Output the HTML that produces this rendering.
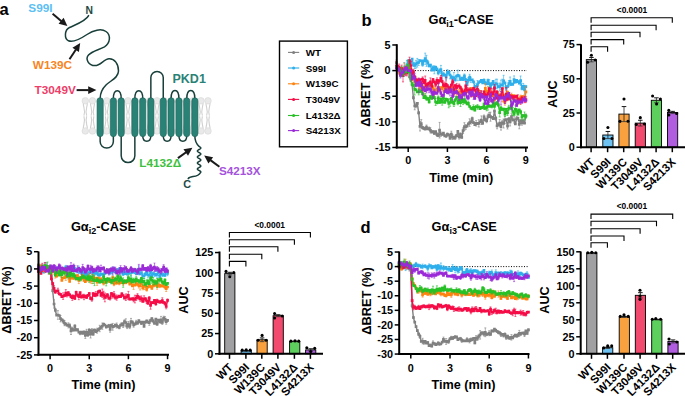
<!DOCTYPE html>
<html><head><meta charset="utf-8"><style>
html,body{margin:0;padding:0;background:#fff;width:685px;height:396px;overflow:hidden;}
svg{display:block;}
text{font-family:"Liberation Sans", sans-serif;font-weight:bold;}
</style></head><body>
<svg width="685" height="396" viewBox="0 0 685 396">
<text x="-0.50" y="15.20" font-size="16.5" fill="#000" text-anchor="start" >a</text>
<path d="M83.30 103.30 C83.10 106.80 85.90 109.80 83.90 115.60 M83.30 128.50 C83.10 125.00 85.90 122.00 83.90 116.20 M87.30 103.30 C87.50 106.80 84.70 109.80 86.70 115.60 M87.30 128.50 C87.50 125.00 84.70 122.00 86.70 116.20 M90.50 103.30 C90.30 106.80 93.10 109.80 91.10 115.60 M90.50 128.50 C90.30 125.00 93.10 122.00 91.10 116.20 M94.50 103.30 C94.70 106.80 91.90 109.80 93.90 115.60 M94.50 128.50 C94.70 125.00 91.90 122.00 93.90 116.20 M97.70 103.30 C97.50 106.80 100.30 109.80 98.30 115.60 M97.70 128.50 C97.50 125.00 100.30 122.00 98.30 116.20 M101.70 103.30 C101.90 106.80 99.10 109.80 101.10 115.60 M101.70 128.50 C101.90 125.00 99.10 122.00 101.10 116.20 M104.70 103.30 C104.50 106.80 107.30 109.80 105.30 115.60 M104.70 128.50 C104.50 125.00 107.30 122.00 105.30 116.20 M108.70 103.30 C108.90 106.80 106.10 109.80 108.10 115.60 M108.70 128.50 C108.90 125.00 106.10 122.00 108.10 116.20 M111.90 103.30 C111.70 106.80 114.50 109.80 112.50 115.60 M111.90 128.50 C111.70 125.00 114.50 122.00 112.50 116.20 M115.90 103.30 C116.10 106.80 113.30 109.80 115.30 115.60 M115.90 128.50 C116.10 125.00 113.30 122.00 115.30 116.20 M119.10 103.30 C118.90 106.80 121.70 109.80 119.70 115.60 M119.10 128.50 C118.90 125.00 121.70 122.00 119.70 116.20 M123.10 103.30 C123.30 106.80 120.50 109.80 122.50 115.60 M123.10 128.50 C123.30 125.00 120.50 122.00 122.50 116.20 M126.00 103.30 C125.80 106.80 128.60 109.80 126.60 115.60 M126.00 128.50 C125.80 125.00 128.60 122.00 126.60 116.20 M130.00 103.30 C130.20 106.80 127.40 109.80 129.40 115.60 M130.00 128.50 C130.20 125.00 127.40 122.00 129.40 116.20 M133.20 103.30 C133.00 106.80 135.80 109.80 133.80 115.60 M133.20 128.50 C133.00 125.00 135.80 122.00 133.80 116.20 M137.20 103.30 C137.40 106.80 134.60 109.80 136.60 115.60 M137.20 128.50 C137.40 125.00 134.60 122.00 136.60 116.20 M140.40 103.30 C140.20 106.80 143.00 109.80 141.00 115.60 M140.40 128.50 C140.20 125.00 143.00 122.00 141.00 116.20 M144.40 103.30 C144.60 106.80 141.80 109.80 143.80 115.60 M144.40 128.50 C144.60 125.00 141.80 122.00 143.80 116.20 M147.60 103.30 C147.40 106.80 150.20 109.80 148.20 115.60 M147.60 128.50 C147.40 125.00 150.20 122.00 148.20 116.20 M151.60 103.30 C151.80 106.80 149.00 109.80 151.00 115.60 M151.60 128.50 C151.80 125.00 149.00 122.00 151.00 116.20 M155.00 103.30 C154.80 106.80 157.60 109.80 155.60 115.60 M155.00 128.50 C154.80 125.00 157.60 122.00 155.60 116.20 M159.00 103.30 C159.20 106.80 156.40 109.80 158.40 115.60 M159.00 128.50 C159.20 125.00 156.40 122.00 158.40 116.20 M162.20 103.30 C162.00 106.80 164.80 109.80 162.80 115.60 M162.20 128.50 C162.00 125.00 164.80 122.00 162.80 116.20 M166.20 103.30 C166.40 106.80 163.60 109.80 165.60 115.60 M166.20 128.50 C166.40 125.00 163.60 122.00 165.60 116.20 M169.40 103.30 C169.20 106.80 172.00 109.80 170.00 115.60 M169.40 128.50 C169.20 125.00 172.00 122.00 170.00 116.20 M173.40 103.30 C173.60 106.80 170.80 109.80 172.80 115.60 M173.40 128.50 C173.60 125.00 170.80 122.00 172.80 116.20 M176.60 103.30 C176.40 106.80 179.20 109.80 177.20 115.60 M176.60 128.50 C176.40 125.00 179.20 122.00 177.20 116.20 M180.60 103.30 C180.80 106.80 178.00 109.80 180.00 115.60 M180.60 128.50 C180.80 125.00 178.00 122.00 180.00 116.20 M183.80 103.30 C183.60 106.80 186.40 109.80 184.40 115.60 M183.80 128.50 C183.60 125.00 186.40 122.00 184.40 116.20 M187.80 103.30 C188.00 106.80 185.20 109.80 187.20 115.60 M187.80 128.50 C188.00 125.00 185.20 122.00 187.20 116.20 M191.00 103.30 C190.80 106.80 193.60 109.80 191.60 115.60 M191.00 128.50 C190.80 125.00 193.60 122.00 191.60 116.20 M195.00 103.30 C195.20 106.80 192.40 109.80 194.40 115.60 M195.00 128.50 C195.20 125.00 192.40 122.00 194.40 116.20 M199.00 103.30 C198.80 106.80 201.60 109.80 199.60 115.60 M199.00 128.50 C198.80 125.00 201.60 122.00 199.60 116.20 M203.00 103.30 C203.20 106.80 200.40 109.80 202.40 115.60 M203.00 128.50 C203.20 125.00 200.40 122.00 202.40 116.20 M206.00 103.30 C205.80 106.80 208.60 109.80 206.60 115.60 M206.00 128.50 C205.80 125.00 208.60 122.00 206.60 116.20 M210.00 103.30 C210.20 106.80 207.40 109.80 209.40 115.60 M210.00 128.50 C210.20 125.00 207.40 122.00 209.40 116.20" stroke="#d0d0d0" stroke-width="1.1" fill="none"/>
<circle cx="85.3" cy="100.8" r="3.3" fill="#e9e9e9" stroke="#d2d2d2" stroke-width="0.5"/>
<circle cx="85.3" cy="131.0" r="3.3" fill="#e9e9e9" stroke="#d2d2d2" stroke-width="0.5"/>
<circle cx="92.5" cy="100.8" r="3.3" fill="#e9e9e9" stroke="#d2d2d2" stroke-width="0.5"/>
<circle cx="92.5" cy="131.0" r="3.3" fill="#e9e9e9" stroke="#d2d2d2" stroke-width="0.5"/>
<circle cx="99.7" cy="100.8" r="3.3" fill="#e9e9e9" stroke="#d2d2d2" stroke-width="0.5"/>
<circle cx="99.7" cy="131.0" r="3.3" fill="#e9e9e9" stroke="#d2d2d2" stroke-width="0.5"/>
<circle cx="106.7" cy="100.8" r="3.3" fill="#e9e9e9" stroke="#d2d2d2" stroke-width="0.5"/>
<circle cx="106.7" cy="131.0" r="3.3" fill="#e9e9e9" stroke="#d2d2d2" stroke-width="0.5"/>
<circle cx="113.9" cy="100.8" r="3.3" fill="#e9e9e9" stroke="#d2d2d2" stroke-width="0.5"/>
<circle cx="113.9" cy="131.0" r="3.3" fill="#e9e9e9" stroke="#d2d2d2" stroke-width="0.5"/>
<circle cx="121.1" cy="100.8" r="3.3" fill="#e9e9e9" stroke="#d2d2d2" stroke-width="0.5"/>
<circle cx="121.1" cy="131.0" r="3.3" fill="#e9e9e9" stroke="#d2d2d2" stroke-width="0.5"/>
<circle cx="128.0" cy="100.8" r="3.3" fill="#e9e9e9" stroke="#d2d2d2" stroke-width="0.5"/>
<circle cx="128.0" cy="131.0" r="3.3" fill="#e9e9e9" stroke="#d2d2d2" stroke-width="0.5"/>
<circle cx="135.2" cy="100.8" r="3.3" fill="#e9e9e9" stroke="#d2d2d2" stroke-width="0.5"/>
<circle cx="135.2" cy="131.0" r="3.3" fill="#e9e9e9" stroke="#d2d2d2" stroke-width="0.5"/>
<circle cx="142.4" cy="100.8" r="3.3" fill="#e9e9e9" stroke="#d2d2d2" stroke-width="0.5"/>
<circle cx="142.4" cy="131.0" r="3.3" fill="#e9e9e9" stroke="#d2d2d2" stroke-width="0.5"/>
<circle cx="149.6" cy="100.8" r="3.3" fill="#e9e9e9" stroke="#d2d2d2" stroke-width="0.5"/>
<circle cx="149.6" cy="131.0" r="3.3" fill="#e9e9e9" stroke="#d2d2d2" stroke-width="0.5"/>
<circle cx="157.0" cy="100.8" r="3.3" fill="#e9e9e9" stroke="#d2d2d2" stroke-width="0.5"/>
<circle cx="157.0" cy="131.0" r="3.3" fill="#e9e9e9" stroke="#d2d2d2" stroke-width="0.5"/>
<circle cx="164.2" cy="100.8" r="3.3" fill="#e9e9e9" stroke="#d2d2d2" stroke-width="0.5"/>
<circle cx="164.2" cy="131.0" r="3.3" fill="#e9e9e9" stroke="#d2d2d2" stroke-width="0.5"/>
<circle cx="171.4" cy="100.8" r="3.3" fill="#e9e9e9" stroke="#d2d2d2" stroke-width="0.5"/>
<circle cx="171.4" cy="131.0" r="3.3" fill="#e9e9e9" stroke="#d2d2d2" stroke-width="0.5"/>
<circle cx="178.6" cy="100.8" r="3.3" fill="#e9e9e9" stroke="#d2d2d2" stroke-width="0.5"/>
<circle cx="178.6" cy="131.0" r="3.3" fill="#e9e9e9" stroke="#d2d2d2" stroke-width="0.5"/>
<circle cx="185.8" cy="100.8" r="3.3" fill="#e9e9e9" stroke="#d2d2d2" stroke-width="0.5"/>
<circle cx="185.8" cy="131.0" r="3.3" fill="#e9e9e9" stroke="#d2d2d2" stroke-width="0.5"/>
<circle cx="193.0" cy="100.8" r="3.3" fill="#e9e9e9" stroke="#d2d2d2" stroke-width="0.5"/>
<circle cx="193.0" cy="131.0" r="3.3" fill="#e9e9e9" stroke="#d2d2d2" stroke-width="0.5"/>
<circle cx="201.0" cy="100.8" r="3.3" fill="#e9e9e9" stroke="#d2d2d2" stroke-width="0.5"/>
<circle cx="201.0" cy="131.0" r="3.3" fill="#e9e9e9" stroke="#d2d2d2" stroke-width="0.5"/>
<circle cx="208.0" cy="100.8" r="3.3" fill="#e9e9e9" stroke="#d2d2d2" stroke-width="0.5"/>
<circle cx="208.0" cy="131.0" r="3.3" fill="#e9e9e9" stroke="#d2d2d2" stroke-width="0.5"/>
<path d="M113.35 98.8 C113.35 88.20 121.2 88.20 121.2 98.8 M134.85 98.8 C134.85 88.20 142.75 88.20 142.75 98.8 M150.85 98.8 V77.60 A6.20 6.20 0 0 1 163.25 77.60 V98.8 M171.05 98.8 C171.05 87.80 178.95 87.80 178.95 98.8 M186.75 98.8 C186.75 87.80 194.85 87.80 194.85 98.8 M100.15 135.7 V141.50 A6.60 6.60 0 0 0 113.35 141.50 V135.7 M121.2 135.7 V155.78 A6.82 6.82 0 0 0 134.85 155.78 V135.7 M142.75 135.7 C142.75 142.97 150.85 142.97 150.85 135.7 M163.25 135.7 C163.25 142.97 171.05 142.97 171.05 135.7 M178.95 135.7 C178.95 142.97 186.75 142.97 186.75 135.7 M88.6 15.6 C86 21, 76 24.5, 69.5 27.5 C64.5 30, 64 38.5, 68.5 40.8 C73.5 43, 81 38.5, 87 34.5 C93 30.5, 101 28, 106 31.5 C111 35, 110.5 43, 104.5 46.8 C98.5 50, 92 51, 88.5 55 C85 59, 88.5 65.5, 95 65.6 C100.5 65.6, 104 59, 109 58.7 C114.5 58.4, 118.6 64, 118.5 71 C118.4 78, 110.5 80.5, 106 85 C102 89, 100.3 93, 100.2 98 M194.85 136 C194.85 141, 196 143.5, 199.1 146.5 L199.10 146.50 L199.43 146.69 L199.75 146.87 L200.04 147.06 L200.30 147.25 L200.51 147.44 L200.67 147.62 L200.77 147.81 L200.80 148.00 L200.77 148.18 L200.67 148.37 L200.52 148.56 L200.31 148.74 L200.05 148.93 L199.76 149.12 L199.44 149.31 L199.11 149.49 L198.78 149.68 L198.46 149.87 L198.17 150.05 L197.91 150.24 L197.70 150.43 L197.54 150.62 L197.44 150.80 L197.40 150.99 L197.43 151.18 L197.52 151.36 L197.67 151.55 L197.88 151.74 L198.14 151.92 L198.43 152.11 L198.74 152.30 L199.07 152.49 L199.41 152.67 L199.73 152.86 L200.02 153.05 L200.28 153.23 L200.50 153.42 L200.66 153.61 L200.76 153.79 L200.80 153.98 L200.77 154.17 L200.68 154.36 L200.53 154.54 L200.33 154.73 L200.07 154.92 L199.78 155.10 L199.47 155.29 L199.14 155.48 L198.81 155.67 L198.49 155.85 L198.19 156.04 L197.93 156.23 L197.71 156.41 L197.55 156.60 L197.44 156.79 L197.40 156.97 L197.42 157.16 L197.51 157.35 L197.66 157.54 L197.86 157.72 L198.12 157.91 L198.40 158.10 L198.72 158.28 L199.05 158.47 L199.38 158.66 L199.70 158.85 L200.00 159.03 L200.26 159.22 L200.48 159.41 L200.65 159.59 L200.76 159.78 L200.80 159.97 L200.78 160.15 L200.69 160.34 L200.55 160.53 L200.34 160.72 L200.10 160.90 L199.81 161.09 L199.49 161.28 L199.16 161.46 L198.83 161.65 L198.51 161.84 L198.21 162.03 L197.95 162.21 L197.73 162.40 L197.56 162.59 L197.45 162.77 L197.40 162.96 L197.42 163.15 L197.50 163.33 L197.65 163.52 L197.85 163.71 L198.09 163.90 L198.38 164.08 L198.69 164.27 L199.02 164.46 L199.36 164.64 L199.68 164.83 L199.98 165.02 L200.24 165.21 L200.47 165.39 L200.64 165.58 L200.75 165.77 L200.80 165.95 L200.78 166.14 L200.70 166.33 L200.56 166.51 L200.36 166.70 L200.12 166.89 L199.83 167.08 L199.52 167.26 L199.19 167.45 L198.86 167.64 L198.53 167.82 L198.23 168.01 L197.97 168.20 L197.74 168.38 L197.57 168.57 L197.45 168.76 L197.40 168.95 L197.42 169.13 L197.49 169.32 L197.63 169.51 L197.83 169.69 L198.07 169.88 L198.36 170.07 L198.67 170.26 L199.00 170.44 L199.33 170.63 L199.65 170.82 L199.96 171.00 L200.23 171.19 L200.45 171.38 L200.63 171.56 L200.74 171.75 L200.80 171.94 L200.79 172.13 L200.71 172.31 L200.57 172.50 C199 175.5, 196 176.2, 193 176.6 C190.5 177, 188.8 177.6, 188.2 178.6" stroke="#183f3a" stroke-width="1.5" fill="none" stroke-linecap="round"/>
<rect x="97.05" y="97.8" width="6.2" height="38.90" rx="3.1" fill="#2a8276" stroke="#1f6158" stroke-width="0.6"/>
<rect x="110.25" y="97.8" width="6.2" height="38.90" rx="3.1" fill="#2a8276" stroke="#1f6158" stroke-width="0.6"/>
<rect x="118.10" y="97.8" width="6.2" height="38.90" rx="3.1" fill="#2a8276" stroke="#1f6158" stroke-width="0.6"/>
<rect x="131.75" y="97.8" width="6.2" height="38.90" rx="3.1" fill="#2a8276" stroke="#1f6158" stroke-width="0.6"/>
<rect x="139.65" y="97.8" width="6.2" height="38.90" rx="3.1" fill="#2a8276" stroke="#1f6158" stroke-width="0.6"/>
<rect x="147.75" y="97.8" width="6.2" height="38.90" rx="3.1" fill="#2a8276" stroke="#1f6158" stroke-width="0.6"/>
<rect x="160.15" y="97.8" width="6.2" height="38.90" rx="3.1" fill="#2a8276" stroke="#1f6158" stroke-width="0.6"/>
<rect x="167.95" y="97.8" width="6.2" height="38.90" rx="3.1" fill="#2a8276" stroke="#1f6158" stroke-width="0.6"/>
<rect x="175.85" y="97.8" width="6.2" height="38.90" rx="3.1" fill="#2a8276" stroke="#1f6158" stroke-width="0.6"/>
<rect x="183.65" y="97.8" width="6.2" height="38.90" rx="3.1" fill="#2a8276" stroke="#1f6158" stroke-width="0.6"/>
<rect x="191.75" y="97.8" width="6.2" height="38.90" rx="3.1" fill="#2a8276" stroke="#1f6158" stroke-width="0.6"/>
<text x="85.60" y="14.20" font-size="10.3" fill="#1d4a44" text-anchor="start" >N</text>
<text x="187.20" y="188.20" font-size="10.8" fill="#1d4a44" text-anchor="middle" >C</text>
<text x="172.50" y="83.10" font-size="12.5" fill="#2a8276" text-anchor="start" >PKD1</text>
<text x="28.30" y="11.90" font-size="11.8" fill="#5ebff3" text-anchor="start" >S99I</text>
<text x="32.80" y="69.00" font-size="11.75" fill="#f7851f" text-anchor="start" >W139C</text>
<text x="34.60" y="94.10" font-size="11.75" fill="#ef3d69" text-anchor="start" >T3049V</text>
<text x="139.20" y="166.50" font-size="11.8" fill="#40c040" text-anchor="start" >L4132&#916;</text>
<text x="218.90" y="175.00" font-size="11.7" fill="#a552dc" text-anchor="start" >S4213X</text>
<line x1="52.60" y1="13.80" x2="61.48" y2="21.18" stroke="#1a1a1a" stroke-width="2.0" />
<path d="M67.40 26.10 L58.60 23.86 L63.59 17.86 Z" fill="#1a1a1a"/>
<line x1="69.50" y1="59.20" x2="75.96" y2="49.43" stroke="#1a1a1a" stroke-width="2.0" />
<path d="M80.20 43.00 L78.93 51.99 L72.43 47.69 Z" fill="#1a1a1a"/>
<line x1="76.60" y1="90.10" x2="88.70" y2="90.10" stroke="#1a1a1a" stroke-width="2.0" />
<path d="M96.40 90.10 L88.20 94.00 L88.20 86.20 Z" fill="#1a1a1a"/>
<line x1="177.90" y1="158.10" x2="186.14" y2="152.19" stroke="#1a1a1a" stroke-width="2.0" />
<path d="M192.40 147.70 L188.01 155.65 L183.46 149.31 Z" fill="#1a1a1a"/>
<line x1="219.40" y1="166.80" x2="210.38" y2="160.09" stroke="#1a1a1a" stroke-width="2.0" />
<path d="M204.20 155.50 L213.11 157.26 L208.45 163.52 Z" fill="#1a1a1a"/>
<rect x="279.5" y="41.1" width="67.9" height="105.7" fill="none" stroke="#000" stroke-width="1.4"/>
<line x1="288.00" y1="52.40" x2="299.20" y2="52.40" stroke="#808080" stroke-width="1.1" />
<circle cx="293.6" cy="52.4" r="1.5" fill="#808080"/>
<text x="305.80" y="55.90" font-size="9.8" fill="#000" text-anchor="start" >WT</text>
<line x1="288.00" y1="68.00" x2="299.20" y2="68.00" stroke="#2eaeea" stroke-width="1.1" />
<circle cx="293.6" cy="68.0" r="1.5" fill="#2eaeea"/>
<text x="305.80" y="71.50" font-size="9.8" fill="#000" text-anchor="start" >S99I</text>
<line x1="288.00" y1="83.80" x2="299.20" y2="83.80" stroke="#ff820e" stroke-width="1.1" />
<circle cx="293.6" cy="83.8" r="1.5" fill="#ff820e"/>
<text x="305.80" y="87.30" font-size="9.8" fill="#000" text-anchor="start" >W139C</text>
<line x1="288.00" y1="99.40" x2="299.20" y2="99.40" stroke="#f50c47" stroke-width="1.1" />
<circle cx="293.6" cy="99.4" r="1.5" fill="#f50c47"/>
<text x="305.80" y="102.90" font-size="9.8" fill="#000" text-anchor="start" >T3049V</text>
<line x1="288.00" y1="115.50" x2="299.20" y2="115.50" stroke="#27c027" stroke-width="1.1" />
<circle cx="293.6" cy="115.5" r="1.5" fill="#27c027"/>
<text x="305.80" y="119.00" font-size="9.8" fill="#000" text-anchor="start" >L4132&#916;</text>
<line x1="288.00" y1="130.60" x2="299.20" y2="130.60" stroke="#9a2ad8" stroke-width="1.1" />
<circle cx="293.6" cy="130.6" r="1.5" fill="#9a2ad8"/>
<text x="305.80" y="134.10" font-size="9.8" fill="#000" text-anchor="start" >S4213X</text>
<text x="361.50" y="25.60" font-size="16.5" fill="#000" text-anchor="start" >b</text>
<text x="428.50" y="24.10" font-size="12.8">G&#945;<tspan font-size="9" dy="2.8">i1</tspan><tspan dy="-2.8">-CASE</tspan></text>
<line x1="396.80" y1="70.60" x2="527.00" y2="70.60" stroke="#000" stroke-width="1.0" stroke-dasharray="1 1.6"/>
<path d="M396.4 60.0V65.6M395.4 60.0h2M395.4 65.6h2M397.7 66.6V69.9M396.7 66.6h2M396.7 69.9h2M399.1 69.5V71.7M398.1 69.5h2M398.1 71.7h2M400.4 69.6V71.2M399.4 69.6h2M399.4 71.2h2M403.0 68.9V71.5M402.0 68.9h2M402.0 71.5h2M404.3 69.8V72.2M403.3 69.8h2M403.3 72.2h2M405.6 68.5V71.1M404.6 68.5h2M404.6 71.1h2M406.9 68.0V72.1M405.9 68.0h2M405.9 72.1h2M408.2 64.6V71.6M407.2 64.6h2M407.2 71.6h2M410.8 78.8V81.5M409.8 78.8h2M409.8 81.5h2M413.4 96.1V99.1M412.4 96.1h2M412.4 99.1h2M414.7 102.1V109.8M413.7 102.1h2M413.7 109.8h2M416.0 103.4V107.7M415.0 103.4h2M415.0 107.7h2M417.3 102.6V104.0M416.3 102.6h2M416.3 104.0h2M418.7 111.8V113.8M417.7 111.8h2M417.7 113.8h2M420.0 121.5V131.0M419.0 121.5h2M419.0 131.0h2M421.3 119.6V127.9M420.3 119.6h2M420.3 127.9h2M422.6 126.4V129.0M421.6 126.4h2M421.6 129.0h2M423.9 127.0V129.6M422.9 127.0h2M422.9 129.6h2M425.2 127.9V130.0M424.2 127.9h2M424.2 130.0h2M426.5 125.0V129.2M425.5 125.0h2M425.5 129.2h2M429.1 127.0V130.1M428.1 127.0h2M428.1 130.1h2M430.4 127.8V132.8M429.4 127.8h2M429.4 132.8h2M433.0 130.9V132.1M432.0 130.9h2M432.0 132.1h2M434.3 132.9V134.1M433.3 132.9h2M433.3 134.1h2M437.0 132.8V136.4M436.0 132.8h2M436.0 136.4h2M438.3 134.0V136.6M437.3 134.0h2M437.3 136.6h2M439.6 122.4V138.0M438.6 122.4h2M438.6 138.0h2M440.9 132.0V136.4M439.9 132.0h2M439.9 136.4h2M442.2 133.9V135.1M441.2 133.9h2M441.2 135.1h2M446.1 134.2V137.5M445.1 134.2h2M445.1 137.5h2M447.4 132.9V136.0M446.4 132.9h2M446.4 136.0h2M451.3 131.2V137.0M450.3 131.2h2M450.3 137.0h2M452.6 134.8V139.5M451.6 134.8h2M451.6 139.5h2M453.9 136.6V138.9M452.9 136.6h2M452.9 138.9h2M455.3 135.3V139.4M454.3 135.3h2M454.3 139.4h2M456.6 134.4V136.9M455.6 134.4h2M455.6 136.9h2M459.2 134.8V139.1M458.2 134.8h2M458.2 139.1h2M460.5 133.0V135.3M459.5 133.0h2M459.5 135.3h2M461.8 136.9V137.9M460.8 136.9h2M460.8 137.9h2M463.1 127.9V133.4M462.1 127.9h2M462.1 133.4h2M464.4 122.7V130.5M463.4 122.7h2M463.4 130.5h2M465.7 124.6V129.5M464.7 124.6h2M464.7 129.5h2M468.3 123.3V124.5M467.3 123.3h2M467.3 124.5h2M469.6 118.8V126.4M468.6 118.8h2M468.6 126.4h2M470.9 120.0V124.1M469.9 120.0h2M469.9 124.1h2M472.2 117.1V119.9M471.2 117.1h2M471.2 119.9h2M474.9 123.7V125.5M473.9 123.7h2M473.9 125.5h2M476.2 120.6V126.1M475.2 120.6h2M475.2 126.1h2M478.8 119.7V127.0M477.8 119.7h2M477.8 127.0h2M480.1 121.3V122.4M479.1 121.3h2M479.1 122.4h2M481.4 115.9V124.5M480.4 115.9h2M480.4 124.5h2M482.7 122.1V124.3M481.7 122.1h2M481.7 124.3h2M484.0 115.0V118.8M483.0 115.0h2M483.0 118.8h2M485.3 118.0V121.3M484.3 118.0h2M484.3 121.3h2M486.6 118.8V122.7M485.6 118.8h2M485.6 122.7h2M487.9 114.2V118.9M486.9 114.2h2M486.9 118.9h2M489.2 112.4V117.6M488.2 112.4h2M488.2 117.6h2M490.5 112.2V121.2M489.5 112.2h2M489.5 121.2h2M495.8 116.8V120.1M494.8 116.8h2M494.8 120.1h2M497.1 123.0V128.8M496.1 123.0h2M496.1 128.8h2M498.4 124.2V125.4M497.4 124.2h2M497.4 125.4h2M499.7 119.6V126.3M498.7 119.6h2M498.7 126.3h2M501.0 123.3V130.1M500.0 123.3h2M500.0 130.1h2M502.3 120.3V124.8M501.3 120.3h2M501.3 124.8h2M503.6 119.0V128.0M502.6 119.0h2M502.6 128.0h2M504.9 116.3V123.6M503.9 116.3h2M503.9 123.6h2M507.5 123.2V129.0M506.5 123.2h2M506.5 129.0h2M508.8 117.4V121.0M507.8 117.4h2M507.8 121.0h2M510.1 117.8V126.0M509.1 117.8h2M509.1 126.0h2M511.5 113.7V119.4M510.5 113.7h2M510.5 119.4h2M512.8 119.0V120.9M511.8 119.0h2M511.8 120.9h2M514.1 116.7V123.1M513.1 116.7h2M513.1 123.1h2M516.7 116.3V120.9M515.7 116.3h2M515.7 120.9h2M519.3 119.8V128.8M518.3 119.8h2M518.3 128.8h2M520.6 119.8V121.9M519.6 119.8h2M519.6 121.9h2M521.9 120.7V125.2M520.9 120.7h2M520.9 125.2h2M523.2 119.1V122.7M522.2 119.1h2M522.2 122.7h2M525.8 114.2V117.9M524.8 114.2h2M524.8 117.9h2" stroke="#808080" stroke-width="0.6" fill="none"/>
<path d="M396.4 62.8 L397.7 68.3 L399.1 70.6 L400.4 70.4 L401.7 72.7 L403.0 70.2 L404.3 71.0 L405.6 69.8 L406.9 70.0 L408.2 68.1 L409.5 76.9 L410.8 80.2 L412.1 85.0 L413.4 97.6 L414.7 106.0 L416.0 105.6 L417.3 103.3 L418.7 112.8 L420.0 126.3 L421.3 123.7 L422.6 127.7 L423.9 128.3 L425.2 129.0 L426.5 127.1 L427.8 128.9 L429.1 128.5 L430.4 130.3 L431.7 132.1 L433.0 131.5 L434.3 133.5 L435.6 131.6 L437.0 134.6 L438.3 135.3 L439.6 130.2 L440.9 134.2 L442.2 134.5 L443.5 133.2 L444.8 135.9 L446.1 135.8 L447.4 134.4 L448.7 134.9 L450.0 138.4 L451.3 134.1 L452.6 137.1 L453.9 137.8 L455.3 137.3 L456.6 135.6 L457.9 131.3 L459.2 137.0 L460.5 134.2 L461.8 137.4 L463.1 130.6 L464.4 126.6 L465.7 127.0 L467.0 126.2 L468.3 123.9 L469.6 122.6 L470.9 122.0 L472.2 118.5 L473.5 122.7 L474.9 124.6 L476.2 123.3 L477.5 123.6 L478.8 123.4 L480.1 121.9 L481.4 120.2 L482.7 123.2 L484.0 116.9 L485.3 119.6 L486.6 120.7 L487.9 116.6 L489.2 115.0 L490.5 116.7 L491.8 117.3 L493.2 118.6 L494.5 111.2 L495.8 118.4 L497.1 125.9 L498.4 124.8 L499.7 123.0 L501.0 126.7 L502.3 122.6 L503.6 123.5 L504.9 120.0 L506.2 119.5 L507.5 126.1 L508.8 119.2 L510.1 121.9 L511.5 116.5 L512.8 120.0 L514.1 119.9 L515.4 123.9 L516.7 118.6 L518.0 118.2 L519.3 124.3 L520.6 120.8 L521.9 123.0 L523.2 120.9 L524.5 123.2 L525.8 116.0" stroke="#808080" stroke-width="1.4" fill="none" stroke-linejoin="round"/>
<path d="M395.1 62.8h2.7M396.4 68.3h2.7M397.7 70.6h2.7M399.0 70.4h2.7M400.3 72.7h2.7M401.6 70.2h2.7M402.9 71.0h2.7M404.2 69.8h2.7M405.5 70.0h2.7M406.8 68.1h2.7M408.2 76.9h2.7M409.5 80.2h2.7M410.8 85.0h2.7M412.1 97.6h2.7M413.4 106.0h2.7M414.7 105.6h2.7M416.0 103.3h2.7M417.3 112.8h2.7M418.6 126.3h2.7M419.9 123.7h2.7M421.2 127.7h2.7M422.5 128.3h2.7M423.8 129.0h2.7M425.1 127.1h2.7M426.5 128.9h2.7M427.8 128.5h2.7M429.1 130.3h2.7M430.4 132.1h2.7M431.7 131.5h2.7M433.0 133.5h2.7M434.3 131.6h2.7M435.6 134.6h2.7M436.9 135.3h2.7M438.2 130.2h2.7M439.5 134.2h2.7M440.8 134.5h2.7M442.1 133.2h2.7M443.4 135.9h2.7M444.8 135.8h2.7M446.1 134.4h2.7M447.4 134.9h2.7M448.7 138.4h2.7M450.0 134.1h2.7M451.3 137.1h2.7M452.6 137.8h2.7M453.9 137.3h2.7M455.2 135.6h2.7M456.5 131.3h2.7M457.8 137.0h2.7M459.1 134.2h2.7M460.4 137.4h2.7M461.7 130.6h2.7M463.1 126.6h2.7M464.4 127.0h2.7M465.7 126.2h2.7M467.0 123.9h2.7M468.3 122.6h2.7M469.6 122.0h2.7M470.9 118.5h2.7M472.2 122.7h2.7M473.5 124.6h2.7M474.8 123.3h2.7M476.1 123.6h2.7M477.4 123.4h2.7M478.7 121.9h2.7M480.0 120.2h2.7M481.3 123.2h2.7M482.7 116.9h2.7M484.0 119.6h2.7M485.3 120.7h2.7M486.6 116.6h2.7M487.9 115.0h2.7M489.2 116.7h2.7M490.5 117.3h2.7M491.8 118.6h2.7M493.1 111.2h2.7M494.4 118.4h2.7M495.7 125.9h2.7M497.0 124.8h2.7M498.3 123.0h2.7M499.6 126.7h2.7M501.0 122.6h2.7M502.3 123.5h2.7M503.6 120.0h2.7M504.9 119.5h2.7M506.2 126.1h2.7M507.5 119.2h2.7M508.8 121.9h2.7M510.1 116.5h2.7M511.4 120.0h2.7M512.7 119.9h2.7M514.0 123.9h2.7M515.3 118.6h2.7M516.6 118.2h2.7M517.9 124.3h2.7M519.3 120.8h2.7M520.6 123.0h2.7M521.9 120.9h2.7M523.2 123.2h2.7M524.5 116.0h2.7" stroke="#808080" stroke-width="2.7" fill="none"/>
<path d="M396.4 65.3V70.5M395.4 65.3h2M395.4 70.5h2M397.7 65.2V69.6M396.7 65.2h2M396.7 69.6h2M399.1 67.7V70.8M398.1 67.7h2M398.1 70.8h2M400.4 67.3V72.0M399.4 67.3h2M399.4 72.0h2M401.7 72.7V76.9M400.7 72.7h2M400.7 76.9h2M403.0 68.6V71.9M402.0 68.6h2M402.0 71.9h2M404.3 62.5V76.4M403.3 62.5h2M403.3 76.4h2M405.6 72.0V74.0M404.6 72.0h2M404.6 74.0h2M406.9 60.4V69.4M405.9 60.4h2M405.9 69.4h2M408.2 59.7V62.8M407.2 59.7h2M407.2 62.8h2M409.5 62.9V68.3M408.5 62.9h2M408.5 68.3h2M410.8 61.1V63.7M409.8 61.1h2M409.8 63.7h2M413.4 62.7V66.6M412.4 62.7h2M412.4 66.6h2M414.7 62.3V68.5M413.7 62.3h2M413.7 68.5h2M416.0 60.3V68.1M415.0 60.3h2M415.0 68.1h2M417.3 58.4V67.1M416.3 58.4h2M416.3 67.1h2M418.7 59.6V65.5M417.7 59.6h2M417.7 65.5h2M422.6 62.5V66.2M421.6 62.5h2M421.6 66.2h2M425.2 53.1V64.4M424.2 53.1h2M424.2 64.4h2M426.5 55.3V66.4M425.5 55.3h2M425.5 66.4h2M427.8 60.4V64.9M426.8 60.4h2M426.8 64.9h2M429.1 65.2V66.7M428.1 65.2h2M428.1 66.7h2M430.4 64.3V65.8M429.4 64.3h2M429.4 65.8h2M433.0 65.9V69.2M432.0 65.9h2M432.0 69.2h2M434.3 65.8V73.8M433.3 65.8h2M433.3 73.8h2M435.6 66.1V68.4M434.6 66.1h2M434.6 68.4h2M438.3 70.7V74.8M437.3 70.7h2M437.3 74.8h2M439.6 69.0V72.6M438.6 69.0h2M438.6 72.6h2M440.9 65.4V73.5M439.9 65.4h2M439.9 73.5h2M442.2 71.3V79.1M441.2 71.3h2M441.2 79.1h2M443.5 72.6V75.8M442.5 72.6h2M442.5 75.8h2M446.1 74.2V80.1M445.1 74.2h2M445.1 80.1h2M447.4 69.6V75.3M446.4 69.6h2M446.4 75.3h2M448.7 70.8V74.4M447.7 70.8h2M447.7 74.4h2M450.0 71.3V78.8M449.0 71.3h2M449.0 78.8h2M451.3 75.3V78.9M450.3 75.3h2M450.3 78.9h2M452.6 76.2V80.1M451.6 76.2h2M451.6 80.1h2M453.9 72.4V82.9M452.9 72.4h2M452.9 82.9h2M455.3 78.6V81.0M454.3 78.6h2M454.3 81.0h2M457.9 70.1V80.7M456.9 70.1h2M456.9 80.7h2M460.5 78.2V80.5M459.5 78.2h2M459.5 80.5h2M461.8 77.3V78.9M460.8 77.3h2M460.8 78.9h2M463.1 78.2V80.5M462.1 78.2h2M462.1 80.5h2M464.4 74.0V77.5M463.4 74.0h2M463.4 77.5h2M467.0 81.7V87.6M466.0 81.7h2M466.0 87.6h2M468.3 77.6V82.8M467.3 77.6h2M467.3 82.8h2M469.6 74.3V79.9M468.6 74.3h2M468.6 79.9h2M470.9 77.2V82.6M469.9 77.2h2M469.9 82.6h2M472.2 79.4V80.5M471.2 79.4h2M471.2 80.5h2M476.2 83.2V89.5M475.2 83.2h2M475.2 89.5h2M477.5 80.5V89.8M476.5 80.5h2M476.5 89.8h2M484.0 78.9V81.7M483.0 78.9h2M483.0 81.7h2M485.3 81.4V84.5M484.3 81.4h2M484.3 84.5h2M487.9 79.1V81.9M486.9 79.1h2M486.9 81.9h2M489.2 79.6V87.5M488.2 79.6h2M488.2 87.5h2M491.8 82.3V85.4M490.8 82.3h2M490.8 85.4h2M494.5 86.2V90.8M493.5 86.2h2M493.5 90.8h2M495.8 79.2V88.1M494.8 79.2h2M494.8 88.1h2M497.1 79.2V88.8M496.1 79.2h2M496.1 88.8h2M499.7 83.0V91.0M498.7 83.0h2M498.7 91.0h2M501.0 80.1V89.5M500.0 80.1h2M500.0 89.5h2M502.3 79.2V90.6M501.3 79.2h2M501.3 90.6h2M503.6 75.3V86.5M502.6 75.3h2M502.6 86.5h2M506.2 85.8V90.3M505.2 85.8h2M505.2 90.3h2M508.8 80.6V86.3M507.8 80.6h2M507.8 86.3h2M510.1 77.0V85.5M509.1 77.0h2M509.1 85.5h2M511.5 83.1V85.4M510.5 83.1h2M510.5 85.4h2M514.1 75.9V83.3M513.1 75.9h2M513.1 83.3h2M518.0 80.9V82.5M517.0 80.9h2M517.0 82.5h2M519.3 82.3V83.8M518.3 82.3h2M518.3 83.8h2M520.6 76.0V85.4M519.6 76.0h2M519.6 85.4h2M521.9 87.1V89.8M520.9 87.1h2M520.9 89.8h2M523.2 83.4V89.4M522.2 83.4h2M522.2 89.4h2M524.5 85.2V94.3M523.5 85.2h2M523.5 94.3h2M525.8 86.0V87.2M524.8 86.0h2M524.8 87.2h2" stroke="#2eaeea" stroke-width="0.6" fill="none"/>
<path d="M396.4 67.9 L397.7 67.4 L399.1 69.3 L400.4 69.6 L401.7 74.8 L403.0 70.3 L404.3 69.4 L405.6 73.0 L406.9 64.9 L408.2 61.2 L409.5 65.6 L410.8 62.4 L412.1 59.1 L413.4 64.6 L414.7 65.4 L416.0 64.2 L417.3 62.8 L418.7 62.5 L420.0 60.6 L421.3 60.9 L422.6 64.4 L423.9 60.8 L425.2 58.7 L426.5 60.8 L427.8 62.6 L429.1 66.0 L430.4 65.1 L431.7 70.2 L433.0 67.5 L434.3 69.8 L435.6 67.3 L437.0 68.9 L438.3 72.8 L439.6 70.8 L440.9 69.5 L442.2 75.2 L443.5 74.2 L444.8 75.1 L446.1 77.2 L447.4 72.4 L448.7 72.6 L450.0 75.0 L451.3 77.1 L452.6 78.1 L453.9 77.6 L455.3 79.8 L456.6 76.0 L457.9 75.4 L459.2 75.9 L460.5 79.4 L461.8 78.1 L463.1 79.3 L464.4 75.8 L465.7 79.5 L467.0 84.6 L468.3 80.2 L469.6 77.1 L470.9 79.9 L472.2 79.9 L473.5 81.9 L474.9 86.7 L476.2 86.4 L477.5 85.2 L478.8 82.5 L480.1 81.6 L481.4 80.3 L482.7 82.8 L484.0 80.3 L485.3 83.0 L486.6 83.8 L487.9 80.5 L489.2 83.6 L490.5 87.5 L491.8 83.9 L493.2 81.4 L494.5 88.5 L495.8 83.6 L497.1 84.0 L498.4 86.7 L499.7 87.0 L501.0 84.8 L502.3 84.9 L503.6 80.9 L504.9 82.9 L506.2 88.1 L507.5 86.6 L508.8 83.5 L510.1 81.3 L511.5 84.3 L512.8 84.4 L514.1 79.6 L515.4 82.2 L516.7 80.3 L518.0 81.7 L519.3 83.1 L520.6 80.7 L521.9 88.5 L523.2 86.4 L524.5 89.8 L525.8 86.6" stroke="#2eaeea" stroke-width="1.4" fill="none" stroke-linejoin="round"/>
<path d="M395.1 67.9h2.7M396.4 67.4h2.7M397.7 69.3h2.7M399.0 69.6h2.7M400.3 74.8h2.7M401.6 70.3h2.7M402.9 69.4h2.7M404.2 73.0h2.7M405.5 64.9h2.7M406.8 61.2h2.7M408.2 65.6h2.7M409.5 62.4h2.7M410.8 59.1h2.7M412.1 64.6h2.7M413.4 65.4h2.7M414.7 64.2h2.7M416.0 62.8h2.7M417.3 62.5h2.7M418.6 60.6h2.7M419.9 60.9h2.7M421.2 64.4h2.7M422.5 60.8h2.7M423.8 58.7h2.7M425.1 60.8h2.7M426.5 62.6h2.7M427.8 66.0h2.7M429.1 65.1h2.7M430.4 70.2h2.7M431.7 67.5h2.7M433.0 69.8h2.7M434.3 67.3h2.7M435.6 68.9h2.7M436.9 72.8h2.7M438.2 70.8h2.7M439.5 69.5h2.7M440.8 75.2h2.7M442.1 74.2h2.7M443.4 75.1h2.7M444.8 77.2h2.7M446.1 72.4h2.7M447.4 72.6h2.7M448.7 75.0h2.7M450.0 77.1h2.7M451.3 78.1h2.7M452.6 77.6h2.7M453.9 79.8h2.7M455.2 76.0h2.7M456.5 75.4h2.7M457.8 75.9h2.7M459.1 79.4h2.7M460.4 78.1h2.7M461.7 79.3h2.7M463.1 75.8h2.7M464.4 79.5h2.7M465.7 84.6h2.7M467.0 80.2h2.7M468.3 77.1h2.7M469.6 79.9h2.7M470.9 79.9h2.7M472.2 81.9h2.7M473.5 86.7h2.7M474.8 86.4h2.7M476.1 85.2h2.7M477.4 82.5h2.7M478.7 81.6h2.7M480.0 80.3h2.7M481.3 82.8h2.7M482.7 80.3h2.7M484.0 83.0h2.7M485.3 83.8h2.7M486.6 80.5h2.7M487.9 83.6h2.7M489.2 87.5h2.7M490.5 83.9h2.7M491.8 81.4h2.7M493.1 88.5h2.7M494.4 83.6h2.7M495.7 84.0h2.7M497.0 86.7h2.7M498.3 87.0h2.7M499.6 84.8h2.7M501.0 84.9h2.7M502.3 80.9h2.7M503.6 82.9h2.7M504.9 88.1h2.7M506.2 86.6h2.7M507.5 83.5h2.7M508.8 81.3h2.7M510.1 84.3h2.7M511.4 84.4h2.7M512.7 79.6h2.7M514.0 82.2h2.7M515.3 80.3h2.7M516.6 81.7h2.7M517.9 83.1h2.7M519.3 80.7h2.7M520.6 88.5h2.7M521.9 86.4h2.7M523.2 89.8h2.7M524.5 86.6h2.7" stroke="#2eaeea" stroke-width="2.7" fill="none"/>
<path d="M399.1 70.5V74.5M398.1 70.5h2M398.1 74.5h2M404.3 63.1V73.5M403.3 63.1h2M403.3 73.5h2M405.6 68.0V71.2M404.6 68.0h2M404.6 71.2h2M406.9 65.8V73.5M405.9 65.8h2M405.9 73.5h2M409.5 67.6V70.1M408.5 67.6h2M408.5 70.1h2M410.8 71.8V73.3M409.8 71.8h2M409.8 73.3h2M412.1 75.4V77.7M411.1 75.4h2M411.1 77.7h2M413.4 76.7V80.5M412.4 76.7h2M412.4 80.5h2M414.7 79.1V84.6M413.7 79.1h2M413.7 84.6h2M416.0 76.9V83.8M415.0 76.9h2M415.0 83.8h2M417.3 79.0V84.0M416.3 79.0h2M416.3 84.0h2M418.7 79.2V84.1M417.7 79.2h2M417.7 84.1h2M421.3 83.9V85.8M420.3 83.9h2M420.3 85.8h2M422.6 82.9V91.0M421.6 82.9h2M421.6 91.0h2M423.9 85.9V94.4M422.9 85.9h2M422.9 94.4h2M425.2 83.1V90.6M424.2 83.1h2M424.2 90.6h2M426.5 83.6V87.1M425.5 83.6h2M425.5 87.1h2M427.8 84.0V87.9M426.8 84.0h2M426.8 87.9h2M429.1 82.4V88.9M428.1 82.4h2M428.1 88.9h2M430.4 84.0V85.6M429.4 84.0h2M429.4 85.6h2M433.0 85.3V90.1M432.0 85.3h2M432.0 90.1h2M434.3 88.3V96.7M433.3 88.3h2M433.3 96.7h2M435.6 86.7V94.4M434.6 86.7h2M434.6 94.4h2M438.3 89.7V91.9M437.3 89.7h2M437.3 91.9h2M442.2 86.3V91.3M441.2 86.3h2M441.2 91.3h2M446.1 86.2V88.4M445.1 86.2h2M445.1 88.4h2M447.4 89.0V91.9M446.4 89.0h2M446.4 91.9h2M448.7 89.4V93.1M447.7 89.4h2M447.7 93.1h2M451.3 89.4V91.4M450.3 89.4h2M450.3 91.4h2M453.9 90.0V95.1M452.9 90.0h2M452.9 95.1h2M455.3 88.5V91.2M454.3 88.5h2M454.3 91.2h2M456.6 90.2V95.4M455.6 90.2h2M455.6 95.4h2M459.2 89.4V94.2M458.2 89.4h2M458.2 94.2h2M460.5 93.0V94.5M459.5 93.0h2M459.5 94.5h2M461.8 88.1V91.7M460.8 88.1h2M460.8 91.7h2M463.1 91.9V95.9M462.1 91.9h2M462.1 95.9h2M465.7 87.8V93.1M464.7 87.8h2M464.7 93.1h2M467.0 89.0V92.4M466.0 89.0h2M466.0 92.4h2M468.3 91.3V92.3M467.3 91.3h2M467.3 92.3h2M469.6 92.2V93.6M468.6 92.2h2M468.6 93.6h2M470.9 87.8V89.2M469.9 87.8h2M469.9 89.2h2M473.5 93.8V95.7M472.5 93.8h2M472.5 95.7h2M474.9 93.6V96.6M473.9 93.6h2M473.9 96.6h2M476.2 88.7V94.3M475.2 88.7h2M475.2 94.3h2M477.5 91.9V94.2M476.5 91.9h2M476.5 94.2h2M478.8 89.8V92.4M477.8 89.8h2M477.8 92.4h2M480.1 90.5V92.7M479.1 90.5h2M479.1 92.7h2M484.0 91.1V99.7M483.0 91.1h2M483.0 99.7h2M485.3 83.8V93.1M484.3 83.8h2M484.3 93.1h2M487.9 86.5V96.9M486.9 86.5h2M486.9 96.9h2M489.2 91.8V96.6M488.2 91.8h2M488.2 96.6h2M490.5 92.6V96.4M489.5 92.6h2M489.5 96.4h2M491.8 90.0V100.6M490.8 90.0h2M490.8 100.6h2M494.5 98.8V101.1M493.5 98.8h2M493.5 101.1h2M495.8 91.0V99.2M494.8 91.0h2M494.8 99.2h2M497.1 94.1V97.4M496.1 94.1h2M496.1 97.4h2M498.4 91.8V98.0M497.4 91.8h2M497.4 98.0h2M499.7 94.3V95.5M498.7 94.3h2M498.7 95.5h2M501.0 91.2V97.8M500.0 91.2h2M500.0 97.8h2M502.3 92.0V101.6M501.3 92.0h2M501.3 101.6h2M503.6 87.8V102.3M502.6 87.8h2M502.6 102.3h2M504.9 99.0V105.2M503.9 99.0h2M503.9 105.2h2M507.5 90.8V94.1M506.5 90.8h2M506.5 94.1h2M508.8 98.0V99.9M507.8 98.0h2M507.8 99.9h2M510.1 95.1V99.2M509.1 95.1h2M509.1 99.2h2M511.5 93.1V97.4M510.5 93.1h2M510.5 97.4h2M516.7 96.9V104.6M515.7 96.9h2M515.7 104.6h2M518.0 97.5V100.9M517.0 97.5h2M517.0 100.9h2M519.3 98.6V101.8M518.3 98.6h2M518.3 101.8h2M520.6 95.1V98.9M519.6 95.1h2M519.6 98.9h2M521.9 95.5V98.7M520.9 95.5h2M520.9 98.7h2M524.5 98.3V100.7M523.5 98.3h2M523.5 100.7h2M525.8 86.9V96.8M524.8 86.9h2M524.8 96.8h2" stroke="#ff820e" stroke-width="0.6" fill="none"/>
<path d="M396.4 68.0 L397.7 66.4 L399.1 72.5 L400.4 72.2 L401.7 68.7 L403.0 72.7 L404.3 68.3 L405.6 69.6 L406.9 69.6 L408.2 68.2 L409.5 68.8 L410.8 72.6 L412.1 76.5 L413.4 78.6 L414.7 81.9 L416.0 80.4 L417.3 81.5 L418.7 81.6 L420.0 88.8 L421.3 84.8 L422.6 87.0 L423.9 90.2 L425.2 86.9 L426.5 85.4 L427.8 86.0 L429.1 85.7 L430.4 84.8 L431.7 85.2 L433.0 87.7 L434.3 92.5 L435.6 90.5 L437.0 88.8 L438.3 90.8 L439.6 87.9 L440.9 87.5 L442.2 88.8 L443.5 84.9 L444.8 91.3 L446.1 87.3 L447.4 90.4 L448.7 91.3 L450.0 87.6 L451.3 90.4 L452.6 87.8 L453.9 92.6 L455.3 89.9 L456.6 92.8 L457.9 91.8 L459.2 91.8 L460.5 93.7 L461.8 89.9 L463.1 93.9 L464.4 93.7 L465.7 90.4 L467.0 90.7 L468.3 91.8 L469.6 92.9 L470.9 88.5 L472.2 96.0 L473.5 94.8 L474.9 95.1 L476.2 91.5 L477.5 93.0 L478.8 91.1 L480.1 91.6 L481.4 94.7 L482.7 95.3 L484.0 95.4 L485.3 88.4 L486.6 91.4 L487.9 91.7 L489.2 94.2 L490.5 94.5 L491.8 95.3 L493.2 95.3 L494.5 99.9 L495.8 95.1 L497.1 95.7 L498.4 94.9 L499.7 94.9 L501.0 94.5 L502.3 96.8 L503.6 95.1 L504.9 102.1 L506.2 99.1 L507.5 92.4 L508.8 99.0 L510.1 97.2 L511.5 95.3 L512.8 99.0 L514.1 95.6 L515.4 100.2 L516.7 100.7 L518.0 99.2 L519.3 100.2 L520.6 97.0 L521.9 97.1 L523.2 96.6 L524.5 99.5 L525.8 91.9" stroke="#ff820e" stroke-width="1.4" fill="none" stroke-linejoin="round"/>
<path d="M395.1 68.0h2.7M396.4 66.4h2.7M397.7 72.5h2.7M399.0 72.2h2.7M400.3 68.7h2.7M401.6 72.7h2.7M402.9 68.3h2.7M404.2 69.6h2.7M405.5 69.6h2.7M406.8 68.2h2.7M408.2 68.8h2.7M409.5 72.6h2.7M410.8 76.5h2.7M412.1 78.6h2.7M413.4 81.9h2.7M414.7 80.4h2.7M416.0 81.5h2.7M417.3 81.6h2.7M418.6 88.8h2.7M419.9 84.8h2.7M421.2 87.0h2.7M422.5 90.2h2.7M423.8 86.9h2.7M425.1 85.4h2.7M426.5 86.0h2.7M427.8 85.7h2.7M429.1 84.8h2.7M430.4 85.2h2.7M431.7 87.7h2.7M433.0 92.5h2.7M434.3 90.5h2.7M435.6 88.8h2.7M436.9 90.8h2.7M438.2 87.9h2.7M439.5 87.5h2.7M440.8 88.8h2.7M442.1 84.9h2.7M443.4 91.3h2.7M444.8 87.3h2.7M446.1 90.4h2.7M447.4 91.3h2.7M448.7 87.6h2.7M450.0 90.4h2.7M451.3 87.8h2.7M452.6 92.6h2.7M453.9 89.9h2.7M455.2 92.8h2.7M456.5 91.8h2.7M457.8 91.8h2.7M459.1 93.7h2.7M460.4 89.9h2.7M461.7 93.9h2.7M463.1 93.7h2.7M464.4 90.4h2.7M465.7 90.7h2.7M467.0 91.8h2.7M468.3 92.9h2.7M469.6 88.5h2.7M470.9 96.0h2.7M472.2 94.8h2.7M473.5 95.1h2.7M474.8 91.5h2.7M476.1 93.0h2.7M477.4 91.1h2.7M478.7 91.6h2.7M480.0 94.7h2.7M481.3 95.3h2.7M482.7 95.4h2.7M484.0 88.4h2.7M485.3 91.4h2.7M486.6 91.7h2.7M487.9 94.2h2.7M489.2 94.5h2.7M490.5 95.3h2.7M491.8 95.3h2.7M493.1 99.9h2.7M494.4 95.1h2.7M495.7 95.7h2.7M497.0 94.9h2.7M498.3 94.9h2.7M499.6 94.5h2.7M501.0 96.8h2.7M502.3 95.1h2.7M503.6 102.1h2.7M504.9 99.1h2.7M506.2 92.4h2.7M507.5 99.0h2.7M508.8 97.2h2.7M510.1 95.3h2.7M511.4 99.0h2.7M512.7 95.6h2.7M514.0 100.2h2.7M515.3 100.7h2.7M516.6 99.2h2.7M517.9 100.2h2.7M519.3 97.0h2.7M520.6 97.1h2.7M521.9 96.6h2.7M523.2 99.5h2.7M524.5 91.9h2.7" stroke="#ff820e" stroke-width="2.7" fill="none"/>
<path d="M396.4 61.6V70.6M395.4 61.6h2M395.4 70.6h2M399.1 64.0V70.1M398.1 64.0h2M398.1 70.1h2M400.4 68.6V75.3M399.4 68.6h2M399.4 75.3h2M401.7 65.1V72.4M400.7 65.1h2M400.7 72.4h2M403.0 69.3V81.9M402.0 69.3h2M402.0 81.9h2M404.3 71.7V74.3M403.3 71.7h2M403.3 74.3h2M405.6 66.1V75.6M404.6 66.1h2M404.6 75.6h2M406.9 70.3V75.9M405.9 70.3h2M405.9 75.9h2M409.5 57.2V63.8M408.5 57.2h2M408.5 63.8h2M410.8 61.5V69.4M409.8 61.5h2M409.8 69.4h2M412.1 69.1V78.2M411.1 69.1h2M411.1 78.2h2M413.4 69.4V73.8M412.4 69.4h2M412.4 73.8h2M414.7 76.0V77.7M413.7 76.0h2M413.7 77.7h2M416.0 78.7V83.6M415.0 78.7h2M415.0 83.6h2M418.7 78.0V83.4M417.7 78.0h2M417.7 83.4h2M421.3 83.4V85.7M420.3 83.4h2M420.3 85.7h2M422.6 76.9V81.5M421.6 76.9h2M421.6 81.5h2M423.9 82.2V83.4M422.9 82.2h2M422.9 83.4h2M425.2 76.0V84.6M424.2 76.0h2M424.2 84.6h2M426.5 83.4V88.8M425.5 83.4h2M425.5 88.8h2M427.8 82.7V85.7M426.8 82.7h2M426.8 85.7h2M429.1 82.6V83.8M428.1 82.6h2M428.1 83.8h2M430.4 77.9V85.7M429.4 77.9h2M429.4 85.7h2M431.7 83.0V89.7M430.7 83.0h2M430.7 89.7h2M433.0 78.5V80.6M432.0 78.5h2M432.0 80.6h2M434.3 81.3V82.7M433.3 81.3h2M433.3 82.7h2M435.6 82.7V86.4M434.6 82.7h2M434.6 86.4h2M437.0 77.9V82.8M436.0 77.9h2M436.0 82.8h2M438.3 79.5V86.4M437.3 79.5h2M437.3 86.4h2M440.9 75.5V80.5M439.9 75.5h2M439.9 80.5h2M442.2 80.2V82.8M441.2 80.2h2M441.2 82.8h2M443.5 83.4V86.9M442.5 83.4h2M442.5 86.9h2M444.8 82.1V89.1M443.8 82.1h2M443.8 89.1h2M446.1 77.2V91.7M445.1 77.2h2M445.1 91.7h2M448.7 87.2V89.4M447.7 87.2h2M447.7 89.4h2M450.0 86.1V90.3M449.0 86.1h2M449.0 90.3h2M451.3 84.2V86.0M450.3 84.2h2M450.3 86.0h2M452.6 79.4V83.8M451.6 79.4h2M451.6 83.8h2M453.9 90.1V94.7M452.9 90.1h2M452.9 94.7h2M455.3 84.7V86.4M454.3 84.7h2M454.3 86.4h2M456.6 83.4V92.2M455.6 83.4h2M455.6 92.2h2M457.9 85.6V86.6M456.9 85.6h2M456.9 86.6h2M459.2 84.0V88.0M458.2 84.0h2M458.2 88.0h2M460.5 86.2V89.1M459.5 86.2h2M459.5 89.1h2M461.8 88.3V92.9M460.8 88.3h2M460.8 92.9h2M464.4 89.2V95.9M463.4 89.2h2M463.4 95.9h2M465.7 81.5V90.3M464.7 81.5h2M464.7 90.3h2M467.0 87.8V92.1M466.0 87.8h2M466.0 92.1h2M468.3 88.0V92.1M467.3 88.0h2M467.3 92.1h2M469.6 88.1V91.9M468.6 88.1h2M468.6 91.9h2M470.9 89.4V97.0M469.9 89.4h2M469.9 97.0h2M473.5 87.2V89.4M472.5 87.2h2M472.5 89.4h2M474.9 89.3V90.7M473.9 89.3h2M473.9 90.7h2M477.5 86.4V91.5M476.5 86.4h2M476.5 91.5h2M478.8 90.2V97.3M477.8 90.2h2M477.8 97.3h2M480.1 92.5V99.9M479.1 92.5h2M479.1 99.9h2M481.4 90.7V97.9M480.4 90.7h2M480.4 97.9h2M484.0 90.6V94.2M483.0 90.6h2M483.0 94.2h2M485.3 93.5V96.2M484.3 93.5h2M484.3 96.2h2M486.6 94.7V96.8M485.6 94.7h2M485.6 96.8h2M487.9 92.8V95.0M486.9 92.8h2M486.9 95.0h2M489.2 87.5V90.4M488.2 87.5h2M488.2 90.4h2M490.5 88.3V101.5M489.5 88.3h2M489.5 101.5h2M491.8 88.7V96.4M490.8 88.7h2M490.8 96.4h2M493.2 92.2V95.0M492.2 92.2h2M492.2 95.0h2M494.5 84.3V91.3M493.5 84.3h2M493.5 91.3h2M497.1 90.7V93.6M496.1 90.7h2M496.1 93.6h2M498.4 95.9V99.5M497.4 95.9h2M497.4 99.5h2M499.7 94.9V98.3M498.7 94.9h2M498.7 98.3h2M501.0 94.7V97.0M500.0 94.7h2M500.0 97.0h2M504.9 97.4V103.5M503.9 97.4h2M503.9 103.5h2M506.2 87.5V100.6M505.2 87.5h2M505.2 100.6h2M507.5 96.4V100.7M506.5 96.4h2M506.5 100.7h2M508.8 95.5V99.7M507.8 95.5h2M507.8 99.7h2M510.1 94.7V98.7M509.1 94.7h2M509.1 98.7h2M511.5 95.1V97.8M510.5 95.1h2M510.5 97.8h2M512.8 95.9V99.1M511.8 95.9h2M511.8 99.1h2M514.1 96.0V97.1M513.1 96.0h2M513.1 97.1h2M516.7 95.0V97.7M515.7 95.0h2M515.7 97.7h2M518.0 94.8V104.2M517.0 94.8h2M517.0 104.2h2M519.3 98.6V101.8M518.3 98.6h2M518.3 101.8h2M520.6 98.7V104.4M519.6 98.7h2M519.6 104.4h2M521.9 96.4V100.1M520.9 96.4h2M520.9 100.1h2M524.5 96.4V102.7M523.5 96.4h2M523.5 102.7h2M525.8 96.9V102.6M524.8 96.9h2M524.8 102.6h2" stroke="#f50c47" stroke-width="0.6" fill="none"/>
<path d="M396.4 66.1 L397.7 66.7 L399.1 67.0 L400.4 72.0 L401.7 68.7 L403.0 75.6 L404.3 73.0 L405.6 70.8 L406.9 73.1 L408.2 68.5 L409.5 60.5 L410.8 65.5 L412.1 73.7 L413.4 71.6 L414.7 76.9 L416.0 81.2 L417.3 79.9 L418.7 80.7 L420.0 79.6 L421.3 84.6 L422.6 79.2 L423.9 82.8 L425.2 80.3 L426.5 86.1 L427.8 84.2 L429.1 83.2 L430.4 81.8 L431.7 86.4 L433.0 79.5 L434.3 82.0 L435.6 84.5 L437.0 80.3 L438.3 82.9 L439.6 80.8 L440.9 78.0 L442.2 81.5 L443.5 85.1 L444.8 85.6 L446.1 84.4 L447.4 85.6 L448.7 88.3 L450.0 88.2 L451.3 85.1 L452.6 81.6 L453.9 92.4 L455.3 85.5 L456.6 87.8 L457.9 86.1 L459.2 86.0 L460.5 87.6 L461.8 90.6 L463.1 91.6 L464.4 92.6 L465.7 85.9 L467.0 90.0 L468.3 90.0 L469.6 90.0 L470.9 93.2 L472.2 90.0 L473.5 88.3 L474.9 90.0 L476.2 95.6 L477.5 89.0 L478.8 93.7 L480.1 96.2 L481.4 94.3 L482.7 94.5 L484.0 92.4 L485.3 94.8 L486.6 95.8 L487.9 93.9 L489.2 88.9 L490.5 94.9 L491.8 92.5 L493.2 93.6 L494.5 87.8 L495.8 98.1 L497.1 92.1 L498.4 97.7 L499.7 96.6 L501.0 95.8 L502.3 88.5 L503.6 97.7 L504.9 100.5 L506.2 94.0 L507.5 98.5 L508.8 97.6 L510.1 96.7 L511.5 96.5 L512.8 97.5 L514.1 96.5 L515.4 96.8 L516.7 96.3 L518.0 99.5 L519.3 100.2 L520.6 101.5 L521.9 98.3 L523.2 99.9 L524.5 99.5 L525.8 99.7" stroke="#f50c47" stroke-width="1.4" fill="none" stroke-linejoin="round"/>
<path d="M395.1 66.1h2.7M396.4 66.7h2.7M397.7 67.0h2.7M399.0 72.0h2.7M400.3 68.7h2.7M401.6 75.6h2.7M402.9 73.0h2.7M404.2 70.8h2.7M405.5 73.1h2.7M406.8 68.5h2.7M408.2 60.5h2.7M409.5 65.5h2.7M410.8 73.7h2.7M412.1 71.6h2.7M413.4 76.9h2.7M414.7 81.2h2.7M416.0 79.9h2.7M417.3 80.7h2.7M418.6 79.6h2.7M419.9 84.6h2.7M421.2 79.2h2.7M422.5 82.8h2.7M423.8 80.3h2.7M425.1 86.1h2.7M426.5 84.2h2.7M427.8 83.2h2.7M429.1 81.8h2.7M430.4 86.4h2.7M431.7 79.5h2.7M433.0 82.0h2.7M434.3 84.5h2.7M435.6 80.3h2.7M436.9 82.9h2.7M438.2 80.8h2.7M439.5 78.0h2.7M440.8 81.5h2.7M442.1 85.1h2.7M443.4 85.6h2.7M444.8 84.4h2.7M446.1 85.6h2.7M447.4 88.3h2.7M448.7 88.2h2.7M450.0 85.1h2.7M451.3 81.6h2.7M452.6 92.4h2.7M453.9 85.5h2.7M455.2 87.8h2.7M456.5 86.1h2.7M457.8 86.0h2.7M459.1 87.6h2.7M460.4 90.6h2.7M461.7 91.6h2.7M463.1 92.6h2.7M464.4 85.9h2.7M465.7 90.0h2.7M467.0 90.0h2.7M468.3 90.0h2.7M469.6 93.2h2.7M470.9 90.0h2.7M472.2 88.3h2.7M473.5 90.0h2.7M474.8 95.6h2.7M476.1 89.0h2.7M477.4 93.7h2.7M478.7 96.2h2.7M480.0 94.3h2.7M481.3 94.5h2.7M482.7 92.4h2.7M484.0 94.8h2.7M485.3 95.8h2.7M486.6 93.9h2.7M487.9 88.9h2.7M489.2 94.9h2.7M490.5 92.5h2.7M491.8 93.6h2.7M493.1 87.8h2.7M494.4 98.1h2.7M495.7 92.1h2.7M497.0 97.7h2.7M498.3 96.6h2.7M499.6 95.8h2.7M501.0 88.5h2.7M502.3 97.7h2.7M503.6 100.5h2.7M504.9 94.0h2.7M506.2 98.5h2.7M507.5 97.6h2.7M508.8 96.7h2.7M510.1 96.5h2.7M511.4 97.5h2.7M512.7 96.5h2.7M514.0 96.8h2.7M515.3 96.3h2.7M516.6 99.5h2.7M517.9 100.2h2.7M519.3 101.5h2.7M520.6 98.3h2.7M521.9 99.9h2.7M523.2 99.5h2.7M524.5 99.7h2.7" stroke="#f50c47" stroke-width="2.7" fill="none"/>
<path d="M396.4 66.3V68.5M395.4 66.3h2M395.4 68.5h2M397.7 68.2V69.8M396.7 68.2h2M396.7 69.8h2M399.1 68.7V69.8M398.1 68.7h2M398.1 69.8h2M401.7 66.6V76.4M400.7 66.6h2M400.7 76.4h2M403.0 70.5V76.1M402.0 70.5h2M402.0 76.1h2M404.3 66.1V73.7M403.3 66.1h2M403.3 73.7h2M405.6 70.7V73.1M404.6 70.7h2M404.6 73.1h2M406.9 70.3V72.7M405.9 70.3h2M405.9 72.7h2M408.2 60.3V70.1M407.2 60.3h2M407.2 70.1h2M409.5 69.4V73.9M408.5 69.4h2M408.5 73.9h2M410.8 77.9V79.0M409.8 77.9h2M409.8 79.0h2M412.1 82.4V85.4M411.1 82.4h2M411.1 85.4h2M414.7 83.8V95.0M413.7 83.8h2M413.7 95.0h2M416.0 89.2V90.4M415.0 89.2h2M415.0 90.4h2M418.7 89.0V94.9M417.7 89.0h2M417.7 94.9h2M420.0 89.7V92.2M419.0 89.7h2M419.0 92.2h2M422.6 93.0V94.1M421.6 93.0h2M421.6 94.1h2M425.2 93.4V98.8M424.2 93.4h2M424.2 98.8h2M426.5 96.3V100.4M425.5 96.3h2M425.5 100.4h2M427.8 97.4V100.1M426.8 97.4h2M426.8 100.1h2M429.1 101.0V102.9M428.1 101.0h2M428.1 102.9h2M430.4 95.4V98.1M429.4 95.4h2M429.4 98.1h2M431.7 97.8V99.0M430.7 97.8h2M430.7 99.0h2M433.0 93.9V95.6M432.0 93.9h2M432.0 95.6h2M435.6 98.5V105.5M434.6 98.5h2M434.6 105.5h2M438.3 95.9V100.0M437.3 95.9h2M437.3 100.0h2M439.6 101.5V103.3M438.6 101.5h2M438.6 103.3h2M440.9 96.5V101.8M439.9 96.5h2M439.9 101.8h2M442.2 99.0V105.2M441.2 99.0h2M441.2 105.2h2M443.5 96.2V98.9M442.5 96.2h2M442.5 98.9h2M446.1 98.1V100.7M445.1 98.1h2M445.1 100.7h2M447.4 98.5V101.9M446.4 98.5h2M446.4 101.9h2M448.7 99.0V107.8M447.7 99.0h2M447.7 107.8h2M450.0 98.7V106.3M449.0 98.7h2M449.0 106.3h2M452.6 100.8V103.4M451.6 100.8h2M451.6 103.4h2M453.9 101.5V106.5M452.9 101.5h2M452.9 106.5h2M455.3 98.4V101.6M454.3 98.4h2M454.3 101.6h2M456.6 96.8V98.0M455.6 96.8h2M455.6 98.0h2M457.9 100.8V104.8M456.9 100.8h2M456.9 104.8h2M459.2 95.9V103.1M458.2 95.9h2M458.2 103.1h2M460.5 98.8V106.5M459.5 98.8h2M459.5 106.5h2M463.1 99.4V104.6M462.1 99.4h2M462.1 104.6h2M464.4 95.8V103.3M463.4 95.8h2M463.4 103.3h2M465.7 100.2V103.4M464.7 100.2h2M464.7 103.4h2M468.3 101.4V105.1M467.3 101.4h2M467.3 105.1h2M470.9 107.5V109.0M469.9 107.5h2M469.9 109.0h2M472.2 107.4V109.9M471.2 107.4h2M471.2 109.9h2M473.5 104.8V110.0M472.5 104.8h2M472.5 110.0h2M474.9 109.6V110.7M473.9 109.6h2M473.9 110.7h2M477.5 104.5V109.3M476.5 104.5h2M476.5 109.3h2M478.8 106.2V107.8M477.8 106.2h2M477.8 107.8h2M480.1 108.2V109.3M479.1 108.2h2M479.1 109.3h2M481.4 106.6V108.7M480.4 106.6h2M480.4 108.7h2M482.7 106.3V108.4M481.7 106.3h2M481.7 108.4h2M484.0 99.0V109.5M483.0 99.0h2M483.0 109.5h2M486.6 103.8V110.8M485.6 103.8h2M485.6 110.8h2M487.9 102.8V110.1M486.9 102.8h2M486.9 110.1h2M491.8 104.8V107.9M490.8 104.8h2M490.8 107.9h2M493.2 101.3V104.2M492.2 101.3h2M492.2 104.2h2M494.5 103.6V109.2M493.5 103.6h2M493.5 109.2h2M495.8 102.4V105.0M494.8 102.4h2M494.8 105.0h2M497.1 101.7V103.4M496.1 101.7h2M496.1 103.4h2M498.4 103.5V106.4M497.4 103.5h2M497.4 106.4h2M499.7 108.1V117.0M498.7 108.1h2M498.7 117.0h2M501.0 106.3V110.0M500.0 106.3h2M500.0 110.0h2M502.3 108.3V110.3M501.3 108.3h2M501.3 110.3h2M503.6 108.4V109.9M502.6 108.4h2M502.6 109.9h2M504.9 112.2V116.3M503.9 112.2h2M503.9 116.3h2M506.2 108.4V110.1M505.2 108.4h2M505.2 110.1h2M507.5 110.4V115.5M506.5 110.4h2M506.5 115.5h2M508.8 105.3V110.3M507.8 105.3h2M507.8 110.3h2M511.5 100.5V109.0M510.5 100.5h2M510.5 109.0h2M512.8 107.4V115.6M511.8 107.4h2M511.8 115.6h2M515.4 105.7V113.1M514.4 105.7h2M514.4 113.1h2M516.7 108.4V113.0M515.7 108.4h2M515.7 113.0h2M518.0 113.5V114.6M517.0 113.5h2M517.0 114.6h2M519.3 109.0V111.3M518.3 109.0h2M518.3 111.3h2M520.6 110.4V113.3M519.6 110.4h2M519.6 113.3h2M521.9 114.6V119.7M520.9 114.6h2M520.9 119.7h2M523.2 114.9V116.2M522.2 114.9h2M522.2 116.2h2M524.5 112.0V119.9M523.5 112.0h2M523.5 119.9h2M525.8 114.2V118.0M524.8 114.2h2M524.8 118.0h2" stroke="#27c027" stroke-width="0.6" fill="none"/>
<path d="M396.4 67.4 L397.7 69.0 L399.1 69.3 L400.4 73.3 L401.7 71.5 L403.0 73.3 L404.3 69.9 L405.6 71.9 L406.9 71.5 L408.2 65.2 L409.5 71.7 L410.8 78.4 L412.1 83.9 L413.4 85.3 L414.7 89.4 L416.0 89.8 L417.3 91.9 L418.7 92.0 L420.0 91.0 L421.3 91.3 L422.6 93.6 L423.9 97.6 L425.2 96.1 L426.5 98.4 L427.8 98.7 L429.1 101.9 L430.4 96.7 L431.7 98.4 L433.0 94.7 L434.3 97.6 L435.6 102.0 L437.0 103.0 L438.3 97.9 L439.6 102.4 L440.9 99.2 L442.2 102.1 L443.5 97.6 L444.8 102.5 L446.1 99.4 L447.4 100.2 L448.7 103.4 L450.0 102.5 L451.3 98.3 L452.6 102.1 L453.9 104.0 L455.3 100.0 L456.6 97.4 L457.9 102.8 L459.2 99.5 L460.5 102.7 L461.8 99.0 L463.1 102.0 L464.4 99.5 L465.7 101.8 L467.0 103.8 L468.3 103.3 L469.6 106.5 L470.9 108.2 L472.2 108.6 L473.5 107.4 L474.9 110.1 L476.2 106.7 L477.5 106.9 L478.8 107.0 L480.1 108.7 L481.4 107.6 L482.7 107.3 L484.0 104.2 L485.3 108.5 L486.6 107.3 L487.9 106.4 L489.2 105.5 L490.5 106.5 L491.8 106.4 L493.2 102.8 L494.5 106.4 L495.8 103.7 L497.1 102.6 L498.4 105.0 L499.7 112.6 L501.0 108.1 L502.3 109.3 L503.6 109.2 L504.9 114.2 L506.2 109.3 L507.5 112.9 L508.8 107.8 L510.1 108.4 L511.5 104.8 L512.8 111.5 L514.1 114.5 L515.4 109.4 L516.7 110.7 L518.0 114.1 L519.3 110.1 L520.6 111.9 L521.9 117.2 L523.2 115.5 L524.5 115.9 L525.8 116.1" stroke="#27c027" stroke-width="1.4" fill="none" stroke-linejoin="round"/>
<path d="M395.1 67.4h2.7M396.4 69.0h2.7M397.7 69.3h2.7M399.0 73.3h2.7M400.3 71.5h2.7M401.6 73.3h2.7M402.9 69.9h2.7M404.2 71.9h2.7M405.5 71.5h2.7M406.8 65.2h2.7M408.2 71.7h2.7M409.5 78.4h2.7M410.8 83.9h2.7M412.1 85.3h2.7M413.4 89.4h2.7M414.7 89.8h2.7M416.0 91.9h2.7M417.3 92.0h2.7M418.6 91.0h2.7M419.9 91.3h2.7M421.2 93.6h2.7M422.5 97.6h2.7M423.8 96.1h2.7M425.1 98.4h2.7M426.5 98.7h2.7M427.8 101.9h2.7M429.1 96.7h2.7M430.4 98.4h2.7M431.7 94.7h2.7M433.0 97.6h2.7M434.3 102.0h2.7M435.6 103.0h2.7M436.9 97.9h2.7M438.2 102.4h2.7M439.5 99.2h2.7M440.8 102.1h2.7M442.1 97.6h2.7M443.4 102.5h2.7M444.8 99.4h2.7M446.1 100.2h2.7M447.4 103.4h2.7M448.7 102.5h2.7M450.0 98.3h2.7M451.3 102.1h2.7M452.6 104.0h2.7M453.9 100.0h2.7M455.2 97.4h2.7M456.5 102.8h2.7M457.8 99.5h2.7M459.1 102.7h2.7M460.4 99.0h2.7M461.7 102.0h2.7M463.1 99.5h2.7M464.4 101.8h2.7M465.7 103.8h2.7M467.0 103.3h2.7M468.3 106.5h2.7M469.6 108.2h2.7M470.9 108.6h2.7M472.2 107.4h2.7M473.5 110.1h2.7M474.8 106.7h2.7M476.1 106.9h2.7M477.4 107.0h2.7M478.7 108.7h2.7M480.0 107.6h2.7M481.3 107.3h2.7M482.7 104.2h2.7M484.0 108.5h2.7M485.3 107.3h2.7M486.6 106.4h2.7M487.9 105.5h2.7M489.2 106.5h2.7M490.5 106.4h2.7M491.8 102.8h2.7M493.1 106.4h2.7M494.4 103.7h2.7M495.7 102.6h2.7M497.0 105.0h2.7M498.3 112.6h2.7M499.6 108.1h2.7M501.0 109.3h2.7M502.3 109.2h2.7M503.6 114.2h2.7M504.9 109.3h2.7M506.2 112.9h2.7M507.5 107.8h2.7M508.8 108.4h2.7M510.1 104.8h2.7M511.4 111.5h2.7M512.7 114.5h2.7M514.0 109.4h2.7M515.3 110.7h2.7M516.6 114.1h2.7M517.9 110.1h2.7M519.3 111.9h2.7M520.6 117.2h2.7M521.9 115.5h2.7M523.2 115.9h2.7M524.5 116.1h2.7" stroke="#27c027" stroke-width="2.7" fill="none"/>
<path d="M397.7 65.9V70.1M396.7 65.9h2M396.7 70.1h2M399.1 68.3V71.4M398.1 68.3h2M398.1 71.4h2M400.4 72.6V78.0M399.4 72.6h2M399.4 78.0h2M401.7 70.5V75.5M400.7 70.5h2M400.7 75.5h2M403.0 71.6V73.0M402.0 71.6h2M402.0 73.0h2M404.3 67.0V72.3M403.3 67.0h2M403.3 72.3h2M405.6 66.8V70.4M404.6 66.8h2M404.6 70.4h2M406.9 67.3V69.1M405.9 67.3h2M405.9 69.1h2M410.8 70.3V71.6M409.8 70.3h2M409.8 71.6h2M412.1 77.6V80.1M411.1 77.6h2M411.1 80.1h2M413.4 74.2V78.8M412.4 74.2h2M412.4 78.8h2M414.7 73.6V82.0M413.7 73.6h2M413.7 82.0h2M416.0 83.9V86.8M415.0 83.9h2M415.0 86.8h2M417.3 82.0V84.3M416.3 82.0h2M416.3 84.3h2M418.7 78.5V92.6M417.7 78.5h2M417.7 92.6h2M422.6 83.5V95.3M421.6 83.5h2M421.6 95.3h2M426.5 86.3V92.8M425.5 86.3h2M425.5 92.8h2M427.8 86.8V90.9M426.8 86.8h2M426.8 90.9h2M429.1 85.6V92.7M428.1 85.6h2M428.1 92.7h2M430.4 87.1V91.7M429.4 87.1h2M429.4 91.7h2M431.7 90.2V94.7M430.7 90.2h2M430.7 94.7h2M433.0 91.0V98.1M432.0 91.0h2M432.0 98.1h2M434.3 89.7V94.2M433.3 89.7h2M433.3 94.2h2M438.3 83.0V92.1M437.3 83.0h2M437.3 92.1h2M439.6 89.2V90.6M438.6 89.2h2M438.6 90.6h2M440.9 91.2V95.0M439.9 91.2h2M439.9 95.0h2M443.5 94.4V95.8M442.5 94.4h2M442.5 95.8h2M444.8 90.8V92.4M443.8 90.8h2M443.8 92.4h2M446.1 88.1V92.2M445.1 88.1h2M445.1 92.2h2M447.4 91.6V93.7M446.4 91.6h2M446.4 93.7h2M448.7 89.3V94.1M447.7 89.3h2M447.7 94.1h2M450.0 88.0V95.9M449.0 88.0h2M449.0 95.9h2M451.3 88.8V91.4M450.3 88.8h2M450.3 91.4h2M452.6 92.8V99.9M451.6 92.8h2M451.6 99.9h2M453.9 88.3V96.4M452.9 88.3h2M452.9 96.4h2M455.3 91.5V93.6M454.3 91.5h2M454.3 93.6h2M456.6 90.7V92.4M455.6 90.7h2M455.6 92.4h2M459.2 93.8V100.4M458.2 93.8h2M458.2 100.4h2M461.8 97.0V98.7M460.8 97.0h2M460.8 98.7h2M463.1 93.2V94.9M462.1 93.2h2M462.1 94.9h2M464.4 92.5V95.7M463.4 92.5h2M463.4 95.7h2M465.7 92.6V93.8M464.7 92.6h2M464.7 93.8h2M467.0 95.3V99.1M466.0 95.3h2M466.0 99.1h2M468.3 95.9V99.9M467.3 95.9h2M467.3 99.9h2M469.6 91.0V92.9M468.6 91.0h2M468.6 92.9h2M470.9 93.9V96.3M469.9 93.9h2M469.9 96.3h2M473.5 90.3V99.3M472.5 90.3h2M472.5 99.3h2M474.9 97.8V98.9M473.9 97.8h2M473.9 98.9h2M477.5 89.9V95.5M476.5 89.9h2M476.5 95.5h2M478.8 93.7V98.9M477.8 93.7h2M477.8 98.9h2M480.1 97.8V101.5M479.1 97.8h2M479.1 101.5h2M481.4 91.1V97.8M480.4 91.1h2M480.4 97.8h2M482.7 94.6V98.8M481.7 94.6h2M481.7 98.8h2M486.6 95.9V98.6M485.6 95.9h2M485.6 98.6h2M489.2 95.8V102.5M488.2 95.8h2M488.2 102.5h2M490.5 93.1V96.3M489.5 93.1h2M489.5 96.3h2M491.8 99.2V102.3M490.8 99.2h2M490.8 102.3h2M493.2 97.2V103.1M492.2 97.2h2M492.2 103.1h2M497.1 94.6V96.3M496.1 94.6h2M496.1 96.3h2M498.4 98.0V102.9M497.4 98.0h2M497.4 102.9h2M499.7 96.2V99.1M498.7 96.2h2M498.7 99.1h2M501.0 91.5V104.9M500.0 91.5h2M500.0 104.9h2M504.9 95.9V103.3M503.9 95.9h2M503.9 103.3h2M506.2 94.5V98.2M505.2 94.5h2M505.2 98.2h2M507.5 95.2V96.8M506.5 95.2h2M506.5 96.8h2M508.8 92.6V94.0M507.8 92.6h2M507.8 94.0h2M510.1 96.6V99.2M509.1 96.6h2M509.1 99.2h2M511.5 101.6V110.1M510.5 101.6h2M510.5 110.1h2M512.8 101.7V105.3M511.8 101.7h2M511.8 105.3h2M514.1 98.9V101.3M513.1 98.9h2M513.1 101.3h2M515.4 100.0V102.1M514.4 100.0h2M514.4 102.1h2M516.7 104.4V106.3M515.7 104.4h2M515.7 106.3h2M518.0 99.4V103.5M517.0 99.4h2M517.0 103.5h2M521.9 100.3V103.3M520.9 100.3h2M520.9 103.3h2M523.2 98.2V100.9M522.2 98.2h2M522.2 100.9h2M524.5 96.2V101.5M523.5 96.2h2M523.5 101.5h2M525.8 99.5V101.4M524.8 99.5h2M524.8 101.4h2" stroke="#9a2ad8" stroke-width="0.6" fill="none"/>
<path d="M396.4 68.0 L397.7 68.0 L399.1 69.9 L400.4 75.3 L401.7 73.0 L403.0 72.3 L404.3 69.7 L405.6 68.6 L406.9 68.2 L408.2 70.7 L409.5 70.6 L410.8 71.0 L412.1 78.8 L413.4 76.5 L414.7 77.8 L416.0 85.3 L417.3 83.2 L418.7 85.5 L420.0 82.2 L421.3 85.8 L422.6 89.4 L423.9 87.6 L425.2 90.6 L426.5 89.6 L427.8 88.8 L429.1 89.1 L430.4 89.4 L431.7 92.4 L433.0 94.6 L434.3 92.0 L435.6 93.2 L437.0 93.3 L438.3 87.6 L439.6 89.9 L440.9 93.1 L442.2 95.9 L443.5 95.1 L444.8 91.6 L446.1 90.1 L447.4 92.6 L448.7 91.7 L450.0 91.9 L451.3 90.1 L452.6 96.4 L453.9 92.4 L455.3 92.5 L456.6 91.5 L457.9 93.1 L459.2 97.1 L460.5 95.6 L461.8 97.8 L463.1 94.0 L464.4 94.1 L465.7 93.2 L467.0 97.2 L468.3 97.9 L469.6 92.0 L470.9 95.1 L472.2 92.0 L473.5 94.8 L474.9 98.4 L476.2 93.8 L477.5 92.7 L478.8 96.3 L480.1 99.6 L481.4 94.5 L482.7 96.7 L484.0 96.8 L485.3 103.5 L486.6 97.2 L487.9 103.7 L489.2 99.2 L490.5 94.7 L491.8 100.8 L493.2 100.2 L494.5 98.4 L495.8 94.7 L497.1 95.4 L498.4 100.5 L499.7 97.6 L501.0 98.2 L502.3 98.2 L503.6 97.7 L504.9 99.6 L506.2 96.4 L507.5 96.0 L508.8 93.3 L510.1 97.9 L511.5 105.9 L512.8 103.5 L514.1 100.1 L515.4 101.1 L516.7 105.3 L518.0 101.5 L519.3 102.3 L520.6 101.8 L521.9 101.8 L523.2 99.5 L524.5 98.9 L525.8 100.5" stroke="#9a2ad8" stroke-width="1.4" fill="none" stroke-linejoin="round"/>
<path d="M395.1 68.0h2.7M396.4 68.0h2.7M397.7 69.9h2.7M399.0 75.3h2.7M400.3 73.0h2.7M401.6 72.3h2.7M402.9 69.7h2.7M404.2 68.6h2.7M405.5 68.2h2.7M406.8 70.7h2.7M408.2 70.6h2.7M409.5 71.0h2.7M410.8 78.8h2.7M412.1 76.5h2.7M413.4 77.8h2.7M414.7 85.3h2.7M416.0 83.2h2.7M417.3 85.5h2.7M418.6 82.2h2.7M419.9 85.8h2.7M421.2 89.4h2.7M422.5 87.6h2.7M423.8 90.6h2.7M425.1 89.6h2.7M426.5 88.8h2.7M427.8 89.1h2.7M429.1 89.4h2.7M430.4 92.4h2.7M431.7 94.6h2.7M433.0 92.0h2.7M434.3 93.2h2.7M435.6 93.3h2.7M436.9 87.6h2.7M438.2 89.9h2.7M439.5 93.1h2.7M440.8 95.9h2.7M442.1 95.1h2.7M443.4 91.6h2.7M444.8 90.1h2.7M446.1 92.6h2.7M447.4 91.7h2.7M448.7 91.9h2.7M450.0 90.1h2.7M451.3 96.4h2.7M452.6 92.4h2.7M453.9 92.5h2.7M455.2 91.5h2.7M456.5 93.1h2.7M457.8 97.1h2.7M459.1 95.6h2.7M460.4 97.8h2.7M461.7 94.0h2.7M463.1 94.1h2.7M464.4 93.2h2.7M465.7 97.2h2.7M467.0 97.9h2.7M468.3 92.0h2.7M469.6 95.1h2.7M470.9 92.0h2.7M472.2 94.8h2.7M473.5 98.4h2.7M474.8 93.8h2.7M476.1 92.7h2.7M477.4 96.3h2.7M478.7 99.6h2.7M480.0 94.5h2.7M481.3 96.7h2.7M482.7 96.8h2.7M484.0 103.5h2.7M485.3 97.2h2.7M486.6 103.7h2.7M487.9 99.2h2.7M489.2 94.7h2.7M490.5 100.8h2.7M491.8 100.2h2.7M493.1 98.4h2.7M494.4 94.7h2.7M495.7 95.4h2.7M497.0 100.5h2.7M498.3 97.6h2.7M499.6 98.2h2.7M501.0 98.2h2.7M502.3 97.7h2.7M503.6 99.6h2.7M504.9 96.4h2.7M506.2 96.0h2.7M507.5 93.3h2.7M508.8 97.9h2.7M510.1 105.9h2.7M511.4 103.5h2.7M512.7 100.1h2.7M514.0 101.1h2.7M515.3 105.3h2.7M516.6 101.5h2.7M517.9 102.3h2.7M519.3 101.8h2.7M520.6 101.8h2.7M521.9 99.5h2.7M523.2 98.9h2.7M524.5 100.5h2.7" stroke="#9a2ad8" stroke-width="2.7" fill="none"/>
<line x1="396.80" y1="44.20" x2="396.80" y2="148.50" stroke="#000" stroke-width="2.0" />
<line x1="395.80" y1="147.50" x2="528.00" y2="147.50" stroke="#000" stroke-width="2.0" />
<line x1="392.30" y1="44.97" x2="396.80" y2="44.97" stroke="#000" stroke-width="1.5" />
<text x="390.50" y="48.67" font-size="10.8" fill="#000" text-anchor="end" >5</text>
<line x1="392.30" y1="70.60" x2="396.80" y2="70.60" stroke="#000" stroke-width="1.5" />
<text x="390.50" y="74.30" font-size="10.8" fill="#000" text-anchor="end" >0</text>
<line x1="392.30" y1="96.22" x2="396.80" y2="96.22" stroke="#000" stroke-width="1.5" />
<text x="390.50" y="99.92" font-size="10.8" fill="#000" text-anchor="end" >-5</text>
<line x1="392.30" y1="121.85" x2="396.80" y2="121.85" stroke="#000" stroke-width="1.5" />
<text x="390.50" y="125.55" font-size="10.8" fill="#000" text-anchor="end" >-10</text>
<line x1="392.30" y1="147.47" x2="396.80" y2="147.47" stroke="#000" stroke-width="1.5" />
<text x="390.50" y="151.17" font-size="10.8" fill="#000" text-anchor="end" >-15</text>
<line x1="408.20" y1="147.50" x2="408.20" y2="152.00" stroke="#000" stroke-width="1.5" />
<text x="408.20" y="164.40" font-size="10.8" fill="#000" text-anchor="middle" >0</text>
<line x1="447.41" y1="147.50" x2="447.41" y2="152.00" stroke="#000" stroke-width="1.5" />
<text x="447.41" y="164.40" font-size="10.8" fill="#000" text-anchor="middle" >3</text>
<line x1="486.62" y1="147.50" x2="486.62" y2="152.00" stroke="#000" stroke-width="1.5" />
<text x="486.62" y="164.40" font-size="10.8" fill="#000" text-anchor="middle" >6</text>
<line x1="525.83" y1="147.50" x2="525.83" y2="152.00" stroke="#000" stroke-width="1.5" />
<text x="525.83" y="164.40" font-size="10.8" fill="#000" text-anchor="middle" >9</text>
<text x="461.20" y="181.90" font-size="12.7" fill="#000" text-anchor="middle" >Time (min)</text>
<text transform="translate(370.30,93.00) rotate(-90)" x="0" y="0" font-size="12.8" text-anchor="middle">&#916;BRET (%)</text>
<text x="0.50" y="233.00" font-size="16.5" fill="#000" text-anchor="start" >c</text>
<text x="70.90" y="231.00" font-size="12.8">G&#945;<tspan font-size="9" dy="2.8">i2</tspan><tspan dy="-2.8">-CASE</tspan></text>
<line x1="38.50" y1="268.90" x2="168.00" y2="268.90" stroke="#000" stroke-width="1.0" stroke-dasharray="1 1.6"/>
<path d="M38.4 264.0V266.1M37.4 264.0h2M37.4 266.1h2M39.7 268.9V270.3M38.7 268.9h2M38.7 270.3h2M42.3 269.0V271.3M41.3 269.0h2M41.3 271.3h2M43.6 266.5V270.8M42.6 266.5h2M42.6 270.8h2M46.2 262.6V271.4M45.2 262.6h2M45.2 271.4h2M47.5 267.1V269.8M46.5 267.1h2M46.5 269.8h2M48.8 268.3V271.5M47.8 268.3h2M47.8 271.5h2M50.1 265.2V268.2M49.1 265.2h2M49.1 268.2h2M51.4 273.8V278.6M50.4 273.8h2M50.4 278.6h2M52.7 289.3V291.9M51.7 289.3h2M51.7 291.9h2M54.0 299.8V308.1M53.0 299.8h2M53.0 308.1h2M55.3 308.7V311.7M54.3 308.7h2M54.3 311.7h2M57.9 310.6V319.3M56.9 310.6h2M56.9 319.3h2M60.5 315.5V321.9M59.5 315.5h2M59.5 321.9h2M61.8 319.2V320.5M60.8 319.2h2M60.8 320.5h2M63.1 319.3V323.1M62.1 319.3h2M62.1 323.1h2M64.5 320.5V325.7M63.5 320.5h2M63.5 325.7h2M65.8 322.9V325.0M64.8 322.9h2M64.8 325.0h2M67.1 324.4V325.9M66.1 324.4h2M66.1 325.9h2M68.4 322.8V327.9M67.4 322.8h2M67.4 327.9h2M69.7 323.8V327.4M68.7 323.8h2M68.7 327.4h2M71.0 327.1V334.5M70.0 327.1h2M70.0 334.5h2M72.3 327.2V330.8M71.3 327.2h2M71.3 330.8h2M73.6 329.5V330.7M72.6 329.5h2M72.6 330.7h2M74.9 324.8V327.3M73.9 324.8h2M73.9 327.3h2M76.2 328.8V331.0M75.2 328.8h2M75.2 331.0h2M80.1 331.4V334.7M79.1 331.4h2M79.1 334.7h2M81.4 331.5V332.7M80.4 331.5h2M80.4 332.7h2M85.3 332.5V338.4M84.3 332.5h2M84.3 338.4h2M86.6 329.3V334.9M85.6 329.3h2M85.6 334.9h2M87.9 332.7V336.5M86.9 332.7h2M86.9 336.5h2M89.2 328.6V332.1M88.2 328.6h2M88.2 332.1h2M90.6 330.5V338.0M89.6 330.5h2M89.6 338.0h2M91.9 328.6V332.9M90.9 328.6h2M90.9 332.9h2M93.2 333.2V335.2M92.2 333.2h2M92.2 335.2h2M94.5 329.0V331.4M93.5 329.0h2M93.5 331.4h2M95.8 330.9V332.2M94.8 330.9h2M94.8 332.2h2M97.1 328.2V333.2M96.1 328.2h2M96.1 333.2h2M99.7 325.3V331.7M98.7 325.3h2M98.7 331.7h2M101.0 326.1V328.8M100.0 326.1h2M100.0 328.8h2M102.3 323.0V329.3M101.3 323.0h2M101.3 329.3h2M103.6 323.0V325.9M102.6 323.0h2M102.6 325.9h2M106.2 325.7V328.1M105.2 325.7h2M105.2 328.1h2M108.8 324.4V326.8M107.8 324.4h2M107.8 326.8h2M110.1 326.9V332.2M109.1 326.9h2M109.1 332.2h2M111.4 324.0V326.6M110.4 324.0h2M110.4 326.6h2M112.7 323.4V330.2M111.7 323.4h2M111.7 330.2h2M115.3 324.3V326.0M114.3 324.3h2M114.3 326.0h2M116.7 323.0V328.1M115.7 323.0h2M115.7 328.1h2M118.0 325.9V327.2M117.0 325.9h2M117.0 327.2h2M119.3 326.3V328.8M118.3 326.3h2M118.3 328.8h2M121.9 323.2V324.5M120.9 323.2h2M120.9 324.5h2M123.2 322.8V327.5M122.2 322.8h2M122.2 327.5h2M124.5 319.8V323.2M123.5 319.8h2M123.5 323.2h2M125.8 318.8V326.2M124.8 318.8h2M124.8 326.2h2M127.1 324.0V328.6M126.1 324.0h2M126.1 328.6h2M128.4 321.5V326.4M127.4 321.5h2M127.4 326.4h2M129.7 324.1V328.6M128.7 324.1h2M128.7 328.6h2M131.0 318.4V325.0M130.0 318.4h2M130.0 325.0h2M132.3 321.0V323.3M131.3 321.0h2M131.3 323.3h2M133.6 322.5V327.2M132.6 322.5h2M132.6 327.2h2M136.2 320.3V324.6M135.2 320.3h2M135.2 324.6h2M137.5 322.2V324.2M136.5 322.2h2M136.5 324.2h2M140.1 321.4V322.7M139.1 321.4h2M139.1 322.7h2M141.4 322.5V324.4M140.4 322.5h2M140.4 324.4h2M145.4 321.4V322.8M144.4 321.4h2M144.4 322.8h2M146.7 319.9V322.4M145.7 319.9h2M145.7 322.4h2M148.0 321.6V322.8M147.0 321.6h2M147.0 322.8h2M149.3 320.0V325.3M148.3 320.0h2M148.3 325.3h2M150.6 319.1V321.9M149.6 319.1h2M149.6 321.9h2M151.9 317.9V319.5M150.9 317.9h2M150.9 319.5h2M153.2 319.3V322.7M152.2 319.3h2M152.2 322.7h2M157.1 323.2V325.2M156.1 323.2h2M156.1 325.2h2M159.7 320.9V322.8M158.7 320.9h2M158.7 322.8h2M161.0 316.4V323.3M160.0 316.4h2M160.0 323.3h2M162.3 320.2V324.4M161.3 320.2h2M161.3 324.4h2M163.6 316.2V320.5M162.6 316.2h2M162.6 320.5h2M164.9 316.5V321.8M163.9 316.5h2M163.9 321.8h2M166.2 319.0V324.2M165.2 319.0h2M165.2 324.2h2M167.5 319.5V321.3M166.5 319.5h2M166.5 321.3h2" stroke="#808080" stroke-width="0.6" fill="none"/>
<path d="M38.4 265.1 L39.7 269.6 L41.0 266.0 L42.3 270.2 L43.6 268.6 L44.9 271.7 L46.2 267.0 L47.5 268.5 L48.8 269.9 L50.1 266.7 L51.4 276.2 L52.7 290.6 L54.0 304.0 L55.3 310.2 L56.6 315.2 L57.9 315.0 L59.2 315.5 L60.5 318.7 L61.8 319.9 L63.1 321.2 L64.5 323.1 L65.8 324.0 L67.1 325.2 L68.4 325.4 L69.7 325.6 L71.0 330.8 L72.3 329.0 L73.6 330.1 L74.9 326.0 L76.2 329.9 L77.5 329.5 L78.8 332.2 L80.1 333.1 L81.4 332.1 L82.7 333.4 L84.0 331.9 L85.3 335.5 L86.6 332.1 L87.9 334.6 L89.2 330.4 L90.6 334.2 L91.9 330.7 L93.2 334.2 L94.5 330.2 L95.8 331.6 L97.1 330.7 L98.4 329.7 L99.7 328.5 L101.0 327.4 L102.3 326.1 L103.6 324.4 L104.9 325.0 L106.2 326.9 L107.5 326.4 L108.8 325.6 L110.1 329.5 L111.4 325.3 L112.7 326.8 L114.0 326.4 L115.3 325.2 L116.7 325.6 L118.0 326.6 L119.3 327.5 L120.6 325.2 L121.9 323.8 L123.2 325.1 L124.5 321.5 L125.8 322.5 L127.1 326.3 L128.4 324.0 L129.7 326.3 L131.0 321.7 L132.3 322.2 L133.6 324.9 L134.9 324.2 L136.2 322.5 L137.5 323.2 L138.8 320.5 L140.1 322.0 L141.4 323.4 L142.8 322.1 L144.1 326.3 L145.4 322.1 L146.7 321.2 L148.0 322.2 L149.3 322.7 L150.6 320.5 L151.9 318.7 L153.2 321.0 L154.5 323.3 L155.8 319.0 L157.1 324.2 L158.4 320.2 L159.7 321.8 L161.0 319.8 L162.3 322.3 L163.6 318.3 L164.9 319.2 L166.2 321.6 L167.5 320.4" stroke="#808080" stroke-width="1.4" fill="none" stroke-linejoin="round"/>
<path d="M37.0 265.1h2.7M38.3 269.6h2.7M39.6 266.0h2.7M40.9 270.2h2.7M42.2 268.6h2.7M43.5 271.7h2.7M44.8 267.0h2.7M46.1 268.5h2.7M47.4 269.9h2.7M48.8 266.7h2.7M50.1 276.2h2.7M51.4 290.6h2.7M52.7 304.0h2.7M54.0 310.2h2.7M55.3 315.2h2.7M56.6 315.0h2.7M57.9 315.5h2.7M59.2 318.7h2.7M60.5 319.9h2.7M61.8 321.2h2.7M63.1 323.1h2.7M64.4 324.0h2.7M65.7 325.2h2.7M67.0 325.4h2.7M68.3 325.6h2.7M69.6 330.8h2.7M70.9 329.0h2.7M72.2 330.1h2.7M73.5 326.0h2.7M74.8 329.9h2.7M76.2 329.5h2.7M77.5 332.2h2.7M78.8 333.1h2.7M80.1 332.1h2.7M81.4 333.4h2.7M82.7 331.9h2.7M84.0 335.5h2.7M85.3 332.1h2.7M86.6 334.6h2.7M87.9 330.4h2.7M89.2 334.2h2.7M90.5 330.7h2.7M91.8 334.2h2.7M93.1 330.2h2.7M94.4 331.6h2.7M95.7 330.7h2.7M97.0 329.7h2.7M98.3 328.5h2.7M99.6 327.4h2.7M100.9 326.1h2.7M102.3 324.4h2.7M103.6 325.0h2.7M104.9 326.9h2.7M106.2 326.4h2.7M107.5 325.6h2.7M108.8 329.5h2.7M110.1 325.3h2.7M111.4 326.8h2.7M112.7 326.4h2.7M114.0 325.2h2.7M115.3 325.6h2.7M116.6 326.6h2.7M117.9 327.5h2.7M119.2 325.2h2.7M120.5 323.8h2.7M121.8 325.1h2.7M123.1 321.5h2.7M124.4 322.5h2.7M125.7 326.3h2.7M127.0 324.0h2.7M128.4 326.3h2.7M129.7 321.7h2.7M131.0 322.2h2.7M132.3 324.9h2.7M133.6 324.2h2.7M134.9 322.5h2.7M136.2 323.2h2.7M137.5 320.5h2.7M138.8 322.0h2.7M140.1 323.4h2.7M141.4 322.1h2.7M142.7 326.3h2.7M144.0 322.1h2.7M145.3 321.2h2.7M146.6 322.2h2.7M147.9 322.7h2.7M149.2 320.5h2.7M150.5 318.7h2.7M151.8 321.0h2.7M153.1 323.3h2.7M154.5 319.0h2.7M155.8 324.2h2.7M157.1 320.2h2.7M158.4 321.8h2.7M159.7 319.8h2.7M161.0 322.3h2.7M162.3 318.3h2.7M163.6 319.2h2.7M164.9 321.6h2.7M166.2 320.4h2.7" stroke="#808080" stroke-width="2.7" fill="none"/>
<path d="M43.6 270.8V273.1M42.6 270.8h2M42.6 273.1h2M44.9 262.4V269.7M43.9 262.4h2M43.9 269.7h2M46.2 264.0V271.2M45.2 264.0h2M45.2 271.2h2M47.5 267.9V269.5M46.5 267.9h2M46.5 269.5h2M48.8 267.5V271.4M47.8 267.5h2M47.8 271.4h2M50.1 270.5V273.1M49.1 270.5h2M49.1 273.1h2M51.4 265.5V272.3M50.4 265.5h2M50.4 272.3h2M52.7 267.1V270.2M51.7 267.1h2M51.7 270.2h2M54.0 270.3V272.8M53.0 270.3h2M53.0 272.8h2M55.3 267.5V269.0M54.3 267.5h2M54.3 269.0h2M56.6 266.6V271.2M55.6 266.6h2M55.6 271.2h2M59.2 269.0V274.3M58.2 269.0h2M58.2 274.3h2M60.5 269.6V272.8M59.5 269.6h2M59.5 272.8h2M61.8 268.5V272.6M60.8 268.5h2M60.8 272.6h2M63.1 268.9V270.3M62.1 268.9h2M62.1 270.3h2M64.5 270.9V272.9M63.5 270.9h2M63.5 272.9h2M65.8 265.4V268.8M64.8 265.4h2M64.8 268.8h2M67.1 268.6V269.8M66.1 268.6h2M66.1 269.8h2M68.4 266.9V268.4M67.4 266.9h2M67.4 268.4h2M69.7 267.8V268.9M68.7 267.8h2M68.7 268.9h2M72.3 267.5V271.5M71.3 267.5h2M71.3 271.5h2M74.9 265.7V271.8M73.9 265.7h2M73.9 271.8h2M76.2 267.9V272.8M75.2 267.9h2M75.2 272.8h2M77.5 270.7V271.7M76.5 270.7h2M76.5 271.7h2M78.8 266.1V273.5M77.8 266.1h2M77.8 273.5h2M80.1 269.9V273.5M79.1 269.9h2M79.1 273.5h2M81.4 269.9V272.9M80.4 269.9h2M80.4 272.9h2M84.0 269.0V274.6M83.0 269.0h2M83.0 274.6h2M85.3 273.6V275.9M84.3 273.6h2M84.3 275.9h2M86.6 273.5V275.1M85.6 273.5h2M85.6 275.1h2M87.9 269.1V278.3M86.9 269.1h2M86.9 278.3h2M89.2 271.5V274.1M88.2 271.5h2M88.2 274.1h2M90.6 268.2V271.9M89.6 268.2h2M89.6 271.9h2M93.2 271.8V277.7M92.2 271.8h2M92.2 277.7h2M94.5 271.3V273.0M93.5 271.3h2M93.5 273.0h2M95.8 272.7V274.1M94.8 272.7h2M94.8 274.1h2M97.1 269.6V275.1M96.1 269.6h2M96.1 275.1h2M98.4 270.7V279.2M97.4 270.7h2M97.4 279.2h2M99.7 273.1V276.5M98.7 273.1h2M98.7 276.5h2M101.0 272.9V275.3M100.0 272.9h2M100.0 275.3h2M103.6 273.2V278.0M102.6 273.2h2M102.6 278.0h2M104.9 272.2V274.2M103.9 272.2h2M103.9 274.2h2M106.2 271.1V272.5M105.2 271.1h2M105.2 272.5h2M108.8 270.7V274.2M107.8 270.7h2M107.8 274.2h2M110.1 270.8V274.6M109.1 270.8h2M109.1 274.6h2M111.4 268.7V273.8M110.4 268.7h2M110.4 273.8h2M112.7 267.2V275.4M111.7 267.2h2M111.7 275.4h2M114.0 267.1V272.4M113.0 267.1h2M113.0 272.4h2M115.3 270.6V273.2M114.3 270.6h2M114.3 273.2h2M116.7 271.5V272.6M115.7 271.5h2M115.7 272.6h2M118.0 268.6V271.7M117.0 268.6h2M117.0 271.7h2M119.3 267.5V270.5M118.3 267.5h2M118.3 270.5h2M120.6 269.9V274.5M119.6 269.9h2M119.6 274.5h2M121.9 268.4V272.6M120.9 268.4h2M120.9 272.6h2M123.2 272.4V275.7M122.2 272.4h2M122.2 275.7h2M124.5 270.0V274.0M123.5 270.0h2M123.5 274.0h2M125.8 272.7V274.4M124.8 272.7h2M124.8 274.4h2M127.1 269.8V275.4M126.1 269.8h2M126.1 275.4h2M128.4 272.6V274.1M127.4 272.6h2M127.4 274.1h2M129.7 271.5V273.9M128.7 271.5h2M128.7 273.9h2M131.0 269.1V276.2M130.0 269.1h2M130.0 276.2h2M132.3 270.2V273.4M131.3 270.2h2M131.3 273.4h2M133.6 270.5V272.8M132.6 270.5h2M132.6 272.8h2M134.9 271.6V273.5M133.9 271.6h2M133.9 273.5h2M136.2 272.7V274.6M135.2 272.7h2M135.2 274.6h2M138.8 265.8V274.7M137.8 265.8h2M137.8 274.7h2M140.1 273.0V274.5M139.1 273.0h2M139.1 274.5h2M142.8 275.1V276.6M141.8 275.1h2M141.8 276.6h2M144.1 273.6V278.3M143.1 273.6h2M143.1 278.3h2M145.4 272.7V275.4M144.4 272.7h2M144.4 275.4h2M146.7 268.9V273.1M145.7 268.9h2M145.7 273.1h2M148.0 272.1V277.9M147.0 272.1h2M147.0 277.9h2M150.6 269.4V273.6M149.6 269.4h2M149.6 273.6h2M153.2 272.1V275.1M152.2 272.1h2M152.2 275.1h2M154.5 271.6V276.4M153.5 271.6h2M153.5 276.4h2M155.8 273.7V275.9M154.8 273.7h2M154.8 275.9h2M157.1 271.4V277.3M156.1 271.4h2M156.1 277.3h2M158.4 269.5V272.7M157.4 269.5h2M157.4 272.7h2M159.7 275.3V277.4M158.7 275.3h2M158.7 277.4h2M162.3 272.2V276.6M161.3 272.2h2M161.3 276.6h2M163.6 273.7V276.0M162.6 273.7h2M162.6 276.0h2M164.9 274.8V275.9M163.9 274.8h2M163.9 275.9h2M166.2 269.4V272.3M165.2 269.4h2M165.2 272.3h2M167.5 271.1V275.7M166.5 271.1h2M166.5 275.7h2" stroke="#2eaeea" stroke-width="0.6" fill="none"/>
<path d="M38.4 271.3 L39.7 268.2 L41.0 269.7 L42.3 270.6 L43.6 271.9 L44.9 266.0 L46.2 267.6 L47.5 268.7 L48.8 269.5 L50.1 271.8 L51.4 268.9 L52.7 268.7 L54.0 271.5 L55.3 268.3 L56.6 268.9 L57.9 272.1 L59.2 271.6 L60.5 271.2 L61.8 270.5 L63.1 269.6 L64.5 271.9 L65.8 267.1 L67.1 269.2 L68.4 267.6 L69.7 268.3 L71.0 270.7 L72.3 269.5 L73.6 268.5 L74.9 268.7 L76.2 270.4 L77.5 271.2 L78.8 269.8 L80.1 271.7 L81.4 271.4 L82.7 274.8 L84.0 271.8 L85.3 274.7 L86.6 274.3 L87.9 273.7 L89.2 272.8 L90.6 270.0 L91.9 272.0 L93.2 274.8 L94.5 272.2 L95.8 273.4 L97.1 272.4 L98.4 275.0 L99.7 274.8 L101.0 274.1 L102.3 274.0 L103.6 275.6 L104.9 273.2 L106.2 271.8 L107.5 270.3 L108.8 272.4 L110.1 272.7 L111.4 271.3 L112.7 271.3 L114.0 269.7 L115.3 271.9 L116.7 272.1 L118.0 270.1 L119.3 269.0 L120.6 272.2 L121.9 270.5 L123.2 274.1 L124.5 272.0 L125.8 273.6 L127.1 272.6 L128.4 273.3 L129.7 272.7 L131.0 272.6 L132.3 271.8 L133.6 271.6 L134.9 272.5 L136.2 273.6 L137.5 269.9 L138.8 270.2 L140.1 273.8 L141.4 272.7 L142.8 275.8 L144.1 275.9 L145.4 274.1 L146.7 271.0 L148.0 275.0 L149.3 275.3 L150.6 271.5 L151.9 276.4 L153.2 273.6 L154.5 274.0 L155.8 274.8 L157.1 274.3 L158.4 271.1 L159.7 276.3 L161.0 274.3 L162.3 274.4 L163.6 274.8 L164.9 275.4 L166.2 270.8 L167.5 273.4" stroke="#2eaeea" stroke-width="1.4" fill="none" stroke-linejoin="round"/>
<path d="M37.0 271.3h2.7M38.3 268.2h2.7M39.6 269.7h2.7M40.9 270.6h2.7M42.2 271.9h2.7M43.5 266.0h2.7M44.8 267.6h2.7M46.1 268.7h2.7M47.4 269.5h2.7M48.8 271.8h2.7M50.1 268.9h2.7M51.4 268.7h2.7M52.7 271.5h2.7M54.0 268.3h2.7M55.3 268.9h2.7M56.6 272.1h2.7M57.9 271.6h2.7M59.2 271.2h2.7M60.5 270.5h2.7M61.8 269.6h2.7M63.1 271.9h2.7M64.4 267.1h2.7M65.7 269.2h2.7M67.0 267.6h2.7M68.3 268.3h2.7M69.6 270.7h2.7M70.9 269.5h2.7M72.2 268.5h2.7M73.5 268.7h2.7M74.8 270.4h2.7M76.2 271.2h2.7M77.5 269.8h2.7M78.8 271.7h2.7M80.1 271.4h2.7M81.4 274.8h2.7M82.7 271.8h2.7M84.0 274.7h2.7M85.3 274.3h2.7M86.6 273.7h2.7M87.9 272.8h2.7M89.2 270.0h2.7M90.5 272.0h2.7M91.8 274.8h2.7M93.1 272.2h2.7M94.4 273.4h2.7M95.7 272.4h2.7M97.0 275.0h2.7M98.3 274.8h2.7M99.6 274.1h2.7M100.9 274.0h2.7M102.3 275.6h2.7M103.6 273.2h2.7M104.9 271.8h2.7M106.2 270.3h2.7M107.5 272.4h2.7M108.8 272.7h2.7M110.1 271.3h2.7M111.4 271.3h2.7M112.7 269.7h2.7M114.0 271.9h2.7M115.3 272.1h2.7M116.6 270.1h2.7M117.9 269.0h2.7M119.2 272.2h2.7M120.5 270.5h2.7M121.8 274.1h2.7M123.1 272.0h2.7M124.4 273.6h2.7M125.7 272.6h2.7M127.0 273.3h2.7M128.4 272.7h2.7M129.7 272.6h2.7M131.0 271.8h2.7M132.3 271.6h2.7M133.6 272.5h2.7M134.9 273.6h2.7M136.2 269.9h2.7M137.5 270.2h2.7M138.8 273.8h2.7M140.1 272.7h2.7M141.4 275.8h2.7M142.7 275.9h2.7M144.0 274.1h2.7M145.3 271.0h2.7M146.6 275.0h2.7M147.9 275.3h2.7M149.2 271.5h2.7M150.5 276.4h2.7M151.8 273.6h2.7M153.1 274.0h2.7M154.5 274.8h2.7M155.8 274.3h2.7M157.1 271.1h2.7M158.4 276.3h2.7M159.7 274.3h2.7M161.0 274.4h2.7M162.3 274.8h2.7M163.6 275.4h2.7M164.9 270.8h2.7M166.2 273.4h2.7" stroke="#2eaeea" stroke-width="2.7" fill="none"/>
<path d="M38.4 265.1V270.8M37.4 265.1h2M37.4 270.8h2M39.7 267.8V270.7M38.7 267.8h2M38.7 270.7h2M41.0 264.4V268.3M40.0 264.4h2M40.0 268.3h2M42.3 267.2V269.3M41.3 267.2h2M41.3 269.3h2M43.6 270.0V271.2M42.6 270.0h2M42.6 271.2h2M44.9 264.3V272.7M43.9 264.3h2M43.9 272.7h2M46.2 266.7V270.8M45.2 266.7h2M45.2 270.8h2M48.8 266.4V271.5M47.8 266.4h2M47.8 271.5h2M51.4 270.5V272.0M50.4 270.5h2M50.4 272.0h2M52.7 267.8V274.4M51.7 267.8h2M51.7 274.4h2M54.0 269.0V272.4M53.0 269.0h2M53.0 272.4h2M55.3 271.8V278.1M54.3 271.8h2M54.3 278.1h2M56.6 274.4V277.3M55.6 274.4h2M55.6 277.3h2M59.2 269.1V274.2M58.2 269.1h2M58.2 274.2h2M60.5 272.8V274.5M59.5 272.8h2M59.5 274.5h2M63.1 277.3V278.6M62.1 277.3h2M62.1 278.6h2M65.8 272.8V280.4M64.8 272.8h2M64.8 280.4h2M67.1 274.3V275.3M66.1 274.3h2M66.1 275.3h2M68.4 273.5V279.6M67.4 273.5h2M67.4 279.6h2M73.6 276.2V279.5M72.6 276.2h2M72.6 279.5h2M77.5 274.6V276.7M76.5 274.6h2M76.5 276.7h2M78.8 277.4V283.6M77.8 277.4h2M77.8 283.6h2M80.1 276.3V279.9M79.1 276.3h2M79.1 279.9h2M81.4 277.9V278.9M80.4 277.9h2M80.4 278.9h2M82.7 274.8V276.8M81.7 274.8h2M81.7 276.8h2M84.0 279.7V280.9M83.0 279.7h2M83.0 280.9h2M89.2 273.8V279.5M88.2 273.8h2M88.2 279.5h2M90.6 277.7V283.1M89.6 277.7h2M89.6 283.1h2M91.9 277.7V283.6M90.9 277.7h2M90.9 283.6h2M93.2 274.5V280.3M92.2 274.5h2M92.2 280.3h2M97.1 278.9V285.4M96.1 278.9h2M96.1 285.4h2M98.4 277.4V278.9M97.4 277.4h2M97.4 278.9h2M101.0 278.1V279.8M100.0 278.1h2M100.0 279.8h2M102.3 280.1V282.8M101.3 280.1h2M101.3 282.8h2M103.6 281.2V285.0M102.6 281.2h2M102.6 285.0h2M104.9 278.3V283.3M103.9 278.3h2M103.9 283.3h2M106.2 278.4V282.1M105.2 278.4h2M105.2 282.1h2M107.5 278.1V279.9M106.5 278.1h2M106.5 279.9h2M108.8 281.0V282.1M107.8 281.0h2M107.8 282.1h2M110.1 279.5V281.5M109.1 279.5h2M109.1 281.5h2M111.4 279.0V282.7M110.4 279.0h2M110.4 282.7h2M112.7 276.0V279.0M111.7 276.0h2M111.7 279.0h2M114.0 282.1V285.7M113.0 282.1h2M113.0 285.7h2M115.3 277.1V283.7M114.3 277.1h2M114.3 283.7h2M116.7 280.9V284.5M115.7 280.9h2M115.7 284.5h2M118.0 280.9V282.2M117.0 280.9h2M117.0 282.2h2M119.3 281.7V284.8M118.3 281.7h2M118.3 284.8h2M123.2 280.5V285.2M122.2 280.5h2M122.2 285.2h2M124.5 280.0V283.2M123.5 280.0h2M123.5 283.2h2M125.8 281.6V283.8M124.8 281.6h2M124.8 283.8h2M129.7 282.8V285.1M128.7 282.8h2M128.7 285.1h2M131.0 281.9V283.3M130.0 281.9h2M130.0 283.3h2M132.3 284.2V286.9M131.3 284.2h2M131.3 286.9h2M133.6 281.0V289.4M132.6 281.0h2M132.6 289.4h2M136.2 280.9V283.7M135.2 280.9h2M135.2 283.7h2M138.8 283.2V288.0M137.8 283.2h2M137.8 288.0h2M140.1 281.3V290.0M139.1 281.3h2M139.1 290.0h2M142.8 285.4V289.8M141.8 285.4h2M141.8 289.8h2M144.1 282.8V289.5M143.1 282.8h2M143.1 289.5h2M145.4 285.1V287.1M144.4 285.1h2M144.4 287.1h2M146.7 287.9V291.1M145.7 287.9h2M145.7 291.1h2M148.0 286.0V288.0M147.0 286.0h2M147.0 288.0h2M150.6 285.7V287.2M149.6 285.7h2M149.6 287.2h2M151.9 287.7V288.8M150.9 287.7h2M150.9 288.8h2M153.2 283.9V287.0M152.2 283.9h2M152.2 287.0h2M154.5 283.6V286.7M153.5 283.6h2M153.5 286.7h2M155.8 281.0V282.5M154.8 281.0h2M154.8 282.5h2M157.1 282.7V289.2M156.1 282.7h2M156.1 289.2h2M158.4 283.3V287.2M157.4 283.3h2M157.4 287.2h2M159.7 282.9V287.6M158.7 282.9h2M158.7 287.6h2M161.0 284.8V286.9M160.0 284.8h2M160.0 286.9h2M162.3 285.0V286.6M161.3 285.0h2M161.3 286.6h2M163.6 283.5V287.4M162.6 283.5h2M162.6 287.4h2M164.9 284.9V288.7M163.9 284.9h2M163.9 288.7h2M166.2 285.9V291.5M165.2 285.9h2M165.2 291.5h2M167.5 286.4V287.5M166.5 286.4h2M166.5 287.5h2" stroke="#ff820e" stroke-width="0.6" fill="none"/>
<path d="M38.4 268.0 L39.7 269.2 L41.0 266.3 L42.3 268.2 L43.6 270.6 L44.9 268.5 L46.2 268.8 L47.5 266.5 L48.8 268.9 L50.1 270.2 L51.4 271.3 L52.7 271.1 L54.0 270.7 L55.3 274.9 L56.6 275.9 L57.9 274.7 L59.2 271.7 L60.5 273.6 L61.8 280.4 L63.1 278.0 L64.5 277.6 L65.8 276.6 L67.1 274.8 L68.4 276.6 L69.7 281.5 L71.0 277.8 L72.3 278.2 L73.6 277.9 L74.9 275.9 L76.2 279.0 L77.5 275.7 L78.8 280.5 L80.1 278.1 L81.4 278.4 L82.7 275.8 L84.0 280.3 L85.3 281.6 L86.6 278.4 L87.9 280.2 L89.2 276.7 L90.6 280.4 L91.9 280.6 L93.2 277.4 L94.5 279.0 L95.8 278.2 L97.1 282.1 L98.4 278.1 L99.7 281.3 L101.0 278.9 L102.3 281.4 L103.6 283.1 L104.9 280.8 L106.2 280.3 L107.5 279.0 L108.8 281.5 L110.1 280.5 L111.4 280.8 L112.7 277.5 L114.0 283.9 L115.3 280.4 L116.7 282.7 L118.0 281.6 L119.3 283.2 L120.6 279.3 L121.9 282.7 L123.2 282.9 L124.5 281.6 L125.8 282.7 L127.1 280.5 L128.4 281.1 L129.7 283.9 L131.0 282.6 L132.3 285.6 L133.6 285.2 L134.9 285.2 L136.2 282.3 L137.5 284.5 L138.8 285.6 L140.1 285.6 L141.4 282.2 L142.8 287.6 L144.1 286.2 L145.4 286.1 L146.7 289.5 L148.0 287.0 L149.3 285.0 L150.6 286.5 L151.9 288.3 L153.2 285.5 L154.5 285.1 L155.8 281.7 L157.1 286.0 L158.4 285.3 L159.7 285.3 L161.0 285.8 L162.3 285.8 L163.6 285.5 L164.9 286.8 L166.2 288.7 L167.5 287.0" stroke="#ff820e" stroke-width="1.4" fill="none" stroke-linejoin="round"/>
<path d="M37.0 268.0h2.7M38.3 269.2h2.7M39.6 266.3h2.7M40.9 268.2h2.7M42.2 270.6h2.7M43.5 268.5h2.7M44.8 268.8h2.7M46.1 266.5h2.7M47.4 268.9h2.7M48.8 270.2h2.7M50.1 271.3h2.7M51.4 271.1h2.7M52.7 270.7h2.7M54.0 274.9h2.7M55.3 275.9h2.7M56.6 274.7h2.7M57.9 271.7h2.7M59.2 273.6h2.7M60.5 280.4h2.7M61.8 278.0h2.7M63.1 277.6h2.7M64.4 276.6h2.7M65.7 274.8h2.7M67.0 276.6h2.7M68.3 281.5h2.7M69.6 277.8h2.7M70.9 278.2h2.7M72.2 277.9h2.7M73.5 275.9h2.7M74.8 279.0h2.7M76.2 275.7h2.7M77.5 280.5h2.7M78.8 278.1h2.7M80.1 278.4h2.7M81.4 275.8h2.7M82.7 280.3h2.7M84.0 281.6h2.7M85.3 278.4h2.7M86.6 280.2h2.7M87.9 276.7h2.7M89.2 280.4h2.7M90.5 280.6h2.7M91.8 277.4h2.7M93.1 279.0h2.7M94.4 278.2h2.7M95.7 282.1h2.7M97.0 278.1h2.7M98.3 281.3h2.7M99.6 278.9h2.7M100.9 281.4h2.7M102.3 283.1h2.7M103.6 280.8h2.7M104.9 280.3h2.7M106.2 279.0h2.7M107.5 281.5h2.7M108.8 280.5h2.7M110.1 280.8h2.7M111.4 277.5h2.7M112.7 283.9h2.7M114.0 280.4h2.7M115.3 282.7h2.7M116.6 281.6h2.7M117.9 283.2h2.7M119.2 279.3h2.7M120.5 282.7h2.7M121.8 282.9h2.7M123.1 281.6h2.7M124.4 282.7h2.7M125.7 280.5h2.7M127.0 281.1h2.7M128.4 283.9h2.7M129.7 282.6h2.7M131.0 285.6h2.7M132.3 285.2h2.7M133.6 285.2h2.7M134.9 282.3h2.7M136.2 284.5h2.7M137.5 285.6h2.7M138.8 285.6h2.7M140.1 282.2h2.7M141.4 287.6h2.7M142.7 286.2h2.7M144.0 286.1h2.7M145.3 289.5h2.7M146.6 287.0h2.7M147.9 285.0h2.7M149.2 286.5h2.7M150.5 288.3h2.7M151.8 285.5h2.7M153.1 285.1h2.7M154.5 281.7h2.7M155.8 286.0h2.7M157.1 285.3h2.7M158.4 285.3h2.7M159.7 285.8h2.7M161.0 285.8h2.7M162.3 285.5h2.7M163.6 286.8h2.7M164.9 288.7h2.7M166.2 287.0h2.7" stroke="#ff820e" stroke-width="2.7" fill="none"/>
<path d="M38.4 269.8V272.3M37.4 269.8h2M37.4 272.3h2M39.7 268.9V270.0M38.7 268.9h2M38.7 270.0h2M42.3 263.3V271.6M41.3 263.3h2M41.3 271.6h2M43.6 266.3V268.1M42.6 266.3h2M42.6 268.1h2M44.9 262.6V271.5M43.9 262.6h2M43.9 271.5h2M46.2 267.9V269.8M45.2 267.9h2M45.2 269.8h2M47.5 267.5V270.8M46.5 267.5h2M46.5 270.8h2M48.8 267.9V274.1M47.8 267.9h2M47.8 274.1h2M50.1 267.1V269.2M49.1 267.1h2M49.1 269.2h2M51.4 277.8V279.8M50.4 277.8h2M50.4 279.8h2M52.7 282.4V284.7M51.7 282.4h2M51.7 284.7h2M54.0 285.6V291.0M53.0 285.6h2M53.0 291.0h2M55.3 290.3V293.4M54.3 290.3h2M54.3 293.4h2M57.9 288.2V293.5M56.9 288.2h2M56.9 293.5h2M61.8 296.0V297.3M60.8 296.0h2M60.8 297.3h2M63.1 292.8V299.4M62.1 292.8h2M62.1 299.4h2M64.5 294.7V296.2M63.5 294.7h2M63.5 296.2h2M65.8 289.6V296.6M64.8 289.6h2M64.8 296.6h2M67.1 292.3V296.9M66.1 292.3h2M66.1 296.9h2M68.4 291.6V294.2M67.4 291.6h2M67.4 294.2h2M69.7 293.9V295.7M68.7 293.9h2M68.7 295.7h2M71.0 295.4V297.8M70.0 295.4h2M70.0 297.8h2M72.3 294.9V300.4M71.3 294.9h2M71.3 300.4h2M73.6 295.4V297.0M72.6 295.4h2M72.6 297.0h2M74.9 297.2V299.3M73.9 297.2h2M73.9 299.3h2M76.2 291.2V293.7M75.2 291.2h2M75.2 293.7h2M77.5 294.8V295.9M76.5 294.8h2M76.5 295.9h2M78.8 293.8V299.7M77.8 293.8h2M77.8 299.7h2M81.4 295.8V298.1M80.4 295.8h2M80.4 298.1h2M82.7 294.4V297.6M81.7 294.4h2M81.7 297.6h2M84.0 294.3V299.7M83.0 294.3h2M83.0 299.7h2M85.3 295.3V297.0M84.3 295.3h2M84.3 297.0h2M86.6 296.6V298.2M85.6 296.6h2M85.6 298.2h2M87.9 294.6V296.3M86.9 294.6h2M86.9 296.3h2M89.2 292.5V294.4M88.2 292.5h2M88.2 294.4h2M90.6 297.5V299.4M89.6 297.5h2M89.6 299.4h2M91.9 297.2V301.2M90.9 297.2h2M90.9 301.2h2M93.2 292.9V294.2M92.2 292.9h2M92.2 294.2h2M94.5 294.6V296.5M93.5 294.6h2M93.5 296.5h2M95.8 291.6V296.7M94.8 291.6h2M94.8 296.7h2M97.1 293.9V295.8M96.1 293.9h2M96.1 295.8h2M98.4 290.8V293.1M97.4 290.8h2M97.4 293.1h2M99.7 290.2V292.1M98.7 290.2h2M98.7 292.1h2M101.0 294.8V296.0M100.0 294.8h2M100.0 296.0h2M102.3 289.0V297.5M101.3 289.0h2M101.3 297.5h2M103.6 291.2V299.2M102.6 291.2h2M102.6 299.2h2M104.9 292.9V301.8M103.9 292.9h2M103.9 301.8h2M106.2 293.9V298.3M105.2 293.9h2M105.2 298.3h2M107.5 293.5V297.0M106.5 293.5h2M106.5 297.0h2M110.1 295.9V300.0M109.1 295.9h2M109.1 300.0h2M111.4 292.5V294.5M110.4 292.5h2M110.4 294.5h2M112.7 293.1V298.1M111.7 293.1h2M111.7 298.1h2M114.0 291.7V297.4M113.0 291.7h2M113.0 297.4h2M115.3 295.7V299.3M114.3 295.7h2M114.3 299.3h2M116.7 294.9V300.2M115.7 294.9h2M115.7 300.2h2M120.6 295.9V297.3M119.6 295.9h2M119.6 297.3h2M121.9 292.9V294.7M120.9 292.9h2M120.9 294.7h2M125.8 293.9V300.5M124.8 293.9h2M124.8 300.5h2M127.1 294.2V299.0M126.1 294.2h2M126.1 299.0h2M128.4 291.4V299.4M127.4 291.4h2M127.4 299.4h2M129.7 298.7V299.8M128.7 298.7h2M128.7 299.8h2M132.3 297.7V300.0M131.3 297.7h2M131.3 300.0h2M133.6 297.3V301.8M132.6 297.3h2M132.6 301.8h2M134.9 295.2V302.9M133.9 295.2h2M133.9 302.9h2M136.2 295.6V300.4M135.2 295.6h2M135.2 300.4h2M137.5 293.7V298.8M136.5 293.7h2M136.5 298.8h2M138.8 295.9V299.2M137.8 295.9h2M137.8 299.2h2M140.1 296.4V301.2M139.1 296.4h2M139.1 301.2h2M141.4 295.9V301.1M140.4 295.9h2M140.4 301.1h2M144.1 295.8V301.9M143.1 295.8h2M143.1 301.9h2M145.4 297.5V300.5M144.4 297.5h2M144.4 300.5h2M146.7 298.0V303.5M145.7 298.0h2M145.7 303.5h2M148.0 302.0V304.2M147.0 302.0h2M147.0 304.2h2M149.3 296.6V299.4M148.3 296.6h2M148.3 299.4h2M150.6 301.5V309.2M149.6 301.5h2M149.6 309.2h2M151.9 302.2V303.3M150.9 302.2h2M150.9 303.3h2M153.2 301.5V303.7M152.2 301.5h2M152.2 303.7h2M155.8 301.9V305.3M154.8 301.9h2M154.8 305.3h2M157.1 299.2V302.1M156.1 299.2h2M156.1 302.1h2M158.4 301.0V302.5M157.4 301.0h2M157.4 302.5h2M159.7 301.2V303.1M158.7 301.2h2M158.7 303.1h2M161.0 300.6V302.7M160.0 300.6h2M160.0 302.7h2M162.3 297.8V303.3M161.3 297.8h2M161.3 303.3h2M164.9 301.6V305.1M163.9 301.6h2M163.9 305.1h2M166.2 304.1V308.8M165.2 304.1h2M165.2 308.8h2M167.5 298.9V301.9M166.5 298.9h2M166.5 301.9h2" stroke="#f50c47" stroke-width="0.6" fill="none"/>
<path d="M38.4 271.1 L39.7 269.4 L41.0 273.5 L42.3 267.5 L43.6 267.2 L44.9 267.1 L46.2 268.8 L47.5 269.1 L48.8 271.0 L50.1 268.2 L51.4 278.8 L52.7 283.6 L54.0 288.3 L55.3 291.8 L56.6 291.0 L57.9 290.9 L59.2 293.8 L60.5 294.4 L61.8 296.7 L63.1 296.1 L64.5 295.5 L65.8 293.1 L67.1 294.6 L68.4 292.9 L69.7 294.8 L71.0 296.6 L72.3 297.6 L73.6 296.2 L74.9 298.3 L76.2 292.4 L77.5 295.4 L78.8 296.7 L80.1 292.5 L81.4 296.9 L82.7 296.0 L84.0 297.0 L85.3 296.1 L86.6 297.4 L87.9 295.4 L89.2 293.5 L90.6 298.5 L91.9 299.2 L93.2 293.5 L94.5 295.5 L95.8 294.1 L97.1 294.8 L98.4 291.9 L99.7 291.2 L101.0 295.4 L102.3 293.2 L103.6 295.2 L104.9 297.4 L106.2 296.1 L107.5 295.2 L108.8 298.3 L110.1 298.0 L111.4 293.5 L112.7 295.6 L114.0 294.6 L115.3 297.5 L116.7 297.5 L118.0 296.8 L119.3 296.2 L120.6 296.6 L121.9 293.8 L123.2 295.5 L124.5 298.1 L125.8 297.2 L127.1 296.6 L128.4 295.4 L129.7 299.2 L131.0 298.9 L132.3 298.9 L133.6 299.5 L134.9 299.1 L136.2 298.0 L137.5 296.2 L138.8 297.5 L140.1 298.8 L141.4 298.5 L142.8 301.5 L144.1 298.9 L145.4 299.0 L146.7 300.8 L148.0 303.1 L149.3 298.0 L150.6 305.4 L151.9 302.7 L153.2 302.6 L154.5 300.3 L155.8 303.6 L157.1 300.6 L158.4 301.7 L159.7 302.1 L161.0 301.6 L162.3 300.6 L163.6 302.5 L164.9 303.4 L166.2 306.5 L167.5 300.4" stroke="#f50c47" stroke-width="1.4" fill="none" stroke-linejoin="round"/>
<path d="M37.0 271.1h2.7M38.3 269.4h2.7M39.6 273.5h2.7M40.9 267.5h2.7M42.2 267.2h2.7M43.5 267.1h2.7M44.8 268.8h2.7M46.1 269.1h2.7M47.4 271.0h2.7M48.8 268.2h2.7M50.1 278.8h2.7M51.4 283.6h2.7M52.7 288.3h2.7M54.0 291.8h2.7M55.3 291.0h2.7M56.6 290.9h2.7M57.9 293.8h2.7M59.2 294.4h2.7M60.5 296.7h2.7M61.8 296.1h2.7M63.1 295.5h2.7M64.4 293.1h2.7M65.7 294.6h2.7M67.0 292.9h2.7M68.3 294.8h2.7M69.6 296.6h2.7M70.9 297.6h2.7M72.2 296.2h2.7M73.5 298.3h2.7M74.8 292.4h2.7M76.2 295.4h2.7M77.5 296.7h2.7M78.8 292.5h2.7M80.1 296.9h2.7M81.4 296.0h2.7M82.7 297.0h2.7M84.0 296.1h2.7M85.3 297.4h2.7M86.6 295.4h2.7M87.9 293.5h2.7M89.2 298.5h2.7M90.5 299.2h2.7M91.8 293.5h2.7M93.1 295.5h2.7M94.4 294.1h2.7M95.7 294.8h2.7M97.0 291.9h2.7M98.3 291.2h2.7M99.6 295.4h2.7M100.9 293.2h2.7M102.3 295.2h2.7M103.6 297.4h2.7M104.9 296.1h2.7M106.2 295.2h2.7M107.5 298.3h2.7M108.8 298.0h2.7M110.1 293.5h2.7M111.4 295.6h2.7M112.7 294.6h2.7M114.0 297.5h2.7M115.3 297.5h2.7M116.6 296.8h2.7M117.9 296.2h2.7M119.2 296.6h2.7M120.5 293.8h2.7M121.8 295.5h2.7M123.1 298.1h2.7M124.4 297.2h2.7M125.7 296.6h2.7M127.0 295.4h2.7M128.4 299.2h2.7M129.7 298.9h2.7M131.0 298.9h2.7M132.3 299.5h2.7M133.6 299.1h2.7M134.9 298.0h2.7M136.2 296.2h2.7M137.5 297.5h2.7M138.8 298.8h2.7M140.1 298.5h2.7M141.4 301.5h2.7M142.7 298.9h2.7M144.0 299.0h2.7M145.3 300.8h2.7M146.6 303.1h2.7M147.9 298.0h2.7M149.2 305.4h2.7M150.5 302.7h2.7M151.8 302.6h2.7M153.1 300.3h2.7M154.5 303.6h2.7M155.8 300.6h2.7M157.1 301.7h2.7M158.4 302.1h2.7M159.7 301.6h2.7M161.0 300.6h2.7M162.3 302.5h2.7M163.6 303.4h2.7M164.9 306.5h2.7M166.2 300.4h2.7" stroke="#f50c47" stroke-width="2.7" fill="none"/>
<path d="M38.4 265.5V268.9M37.4 265.5h2M37.4 268.9h2M39.7 266.7V272.2M38.7 266.7h2M38.7 272.2h2M41.0 266.1V270.5M40.0 266.1h2M40.0 270.5h2M42.3 266.7V267.8M41.3 266.7h2M41.3 267.8h2M43.6 264.9V268.8M42.6 264.9h2M42.6 268.8h2M44.9 264.7V267.5M43.9 264.7h2M43.9 267.5h2M46.2 265.0V268.5M45.2 265.0h2M45.2 268.5h2M47.5 262.0V270.6M46.5 262.0h2M46.5 270.6h2M48.8 266.2V273.8M47.8 266.2h2M47.8 273.8h2M50.1 271.5V274.2M49.1 271.5h2M49.1 274.2h2M51.4 270.1V271.6M50.4 270.1h2M50.4 271.6h2M52.7 267.4V268.9M51.7 267.4h2M51.7 268.9h2M54.0 269.6V271.1M53.0 269.6h2M53.0 271.1h2M55.3 272.9V276.6M54.3 272.9h2M54.3 276.6h2M57.9 269.8V273.2M56.9 269.8h2M56.9 273.2h2M59.2 273.7V276.0M58.2 273.7h2M58.2 276.0h2M60.5 269.3V273.8M59.5 269.3h2M59.5 273.8h2M61.8 271.6V277.6M60.8 271.6h2M60.8 277.6h2M63.1 270.9V272.0M62.1 270.9h2M62.1 272.0h2M64.5 271.1V275.1M63.5 271.1h2M63.5 275.1h2M67.1 273.4V278.1M66.1 273.4h2M66.1 278.1h2M68.4 271.0V275.1M67.4 271.0h2M67.4 275.1h2M69.7 273.6V278.3M68.7 273.6h2M68.7 278.3h2M72.3 273.3V277.3M71.3 273.3h2M71.3 277.3h2M73.6 272.4V276.4M72.6 272.4h2M72.6 276.4h2M74.9 274.6V278.2M73.9 274.6h2M73.9 278.2h2M77.5 277.6V279.3M76.5 277.6h2M76.5 279.3h2M78.8 277.8V279.9M77.8 277.8h2M77.8 279.9h2M80.1 276.8V280.9M79.1 276.8h2M79.1 280.9h2M81.4 274.3V280.8M80.4 274.3h2M80.4 280.8h2M82.7 275.1V277.9M81.7 275.1h2M81.7 277.9h2M84.0 275.4V278.3M83.0 275.4h2M83.0 278.3h2M85.3 276.7V278.4M84.3 276.7h2M84.3 278.4h2M86.6 277.4V280.1M85.6 277.4h2M85.6 280.1h2M87.9 275.0V278.3M86.9 275.0h2M86.9 278.3h2M89.2 276.2V282.4M88.2 276.2h2M88.2 282.4h2M90.6 275.4V280.0M89.6 275.4h2M89.6 280.0h2M91.9 274.0V280.7M90.9 274.0h2M90.9 280.7h2M93.2 276.0V283.5M92.2 276.0h2M92.2 283.5h2M94.5 275.5V285.6M93.5 275.5h2M93.5 285.6h2M97.1 277.7V281.5M96.1 277.7h2M96.1 281.5h2M98.4 279.1V281.9M97.4 279.1h2M97.4 281.9h2M99.7 281.4V282.8M98.7 281.4h2M98.7 282.8h2M101.0 280.1V281.6M100.0 280.1h2M100.0 281.6h2M102.3 280.5V282.8M101.3 280.5h2M101.3 282.8h2M103.6 274.7V279.3M102.6 274.7h2M102.6 279.3h2M104.9 278.7V280.4M103.9 278.7h2M103.9 280.4h2M106.2 278.6V285.9M105.2 278.6h2M105.2 285.9h2M107.5 277.4V281.3M106.5 277.4h2M106.5 281.3h2M110.1 277.9V282.5M109.1 277.9h2M109.1 282.5h2M111.4 280.4V283.9M110.4 280.4h2M110.4 283.9h2M112.7 277.2V283.5M111.7 277.2h2M111.7 283.5h2M114.0 279.7V280.9M113.0 279.7h2M113.0 280.9h2M115.3 277.4V280.6M114.3 277.4h2M114.3 280.6h2M116.7 275.9V282.8M115.7 275.9h2M115.7 282.8h2M118.0 274.9V276.6M117.0 274.9h2M117.0 276.6h2M119.3 278.1V283.0M118.3 278.1h2M118.3 283.0h2M120.6 275.4V280.1M119.6 275.4h2M119.6 280.1h2M121.9 278.6V281.0M120.9 278.6h2M120.9 281.0h2M123.2 277.8V287.3M122.2 277.8h2M122.2 287.3h2M124.5 279.7V282.8M123.5 279.7h2M123.5 282.8h2M125.8 280.4V281.9M124.8 280.4h2M124.8 281.9h2M127.1 280.2V282.9M126.1 280.2h2M126.1 282.9h2M128.4 275.1V280.0M127.4 275.1h2M127.4 280.0h2M129.7 279.4V281.3M128.7 279.4h2M128.7 281.3h2M131.0 274.9V283.0M130.0 274.9h2M130.0 283.0h2M133.6 278.2V281.8M132.6 278.2h2M132.6 281.8h2M134.9 279.4V283.1M133.9 279.4h2M133.9 283.1h2M136.2 276.2V281.4M135.2 276.2h2M135.2 281.4h2M137.5 280.1V281.1M136.5 280.1h2M136.5 281.1h2M138.8 279.6V283.0M137.8 279.6h2M137.8 283.0h2M140.1 279.1V283.4M139.1 279.1h2M139.1 283.4h2M142.8 278.1V285.1M141.8 278.1h2M141.8 285.1h2M144.1 278.5V284.0M143.1 278.5h2M143.1 284.0h2M146.7 279.9V286.6M145.7 279.9h2M145.7 286.6h2M148.0 280.4V281.5M147.0 280.4h2M147.0 281.5h2M150.6 276.5V280.3M149.6 276.5h2M149.6 280.3h2M151.9 277.0V283.3M150.9 277.0h2M150.9 283.3h2M153.2 277.5V285.0M152.2 277.5h2M152.2 285.0h2M154.5 279.8V284.7M153.5 279.8h2M153.5 284.7h2M155.8 280.3V284.6M154.8 280.3h2M154.8 284.6h2M157.1 278.5V287.5M156.1 278.5h2M156.1 287.5h2M158.4 279.2V280.5M157.4 279.2h2M157.4 280.5h2M159.7 278.3V281.9M158.7 278.3h2M158.7 281.9h2M161.0 277.8V280.9M160.0 277.8h2M160.0 280.9h2M162.3 281.0V283.4M161.3 281.0h2M161.3 283.4h2M163.6 282.0V284.4M162.6 282.0h2M162.6 284.4h2M164.9 278.9V281.2M163.9 278.9h2M163.9 281.2h2" stroke="#27c027" stroke-width="0.6" fill="none"/>
<path d="M38.4 267.2 L39.7 269.4 L41.0 268.3 L42.3 267.2 L43.6 266.9 L44.9 266.1 L46.2 266.7 L47.5 266.3 L48.8 270.0 L50.1 272.8 L51.4 270.9 L52.7 268.2 L54.0 270.4 L55.3 274.7 L56.6 272.7 L57.9 271.5 L59.2 274.9 L60.5 271.6 L61.8 274.6 L63.1 271.5 L64.5 273.1 L65.8 268.3 L67.1 275.8 L68.4 273.0 L69.7 275.9 L71.0 272.7 L72.3 275.3 L73.6 274.4 L74.9 276.4 L76.2 278.8 L77.5 278.4 L78.8 278.9 L80.1 278.9 L81.4 277.6 L82.7 276.5 L84.0 276.8 L85.3 277.5 L86.6 278.8 L87.9 276.7 L89.2 279.3 L90.6 277.7 L91.9 277.3 L93.2 279.8 L94.5 280.6 L95.8 280.6 L97.1 279.6 L98.4 280.5 L99.7 282.1 L101.0 280.9 L102.3 281.7 L103.6 277.0 L104.9 279.5 L106.2 282.3 L107.5 279.3 L108.8 279.0 L110.1 280.2 L111.4 282.2 L112.7 280.3 L114.0 280.3 L115.3 279.0 L116.7 279.3 L118.0 275.7 L119.3 280.6 L120.6 277.7 L121.9 279.8 L123.2 282.6 L124.5 281.2 L125.8 281.1 L127.1 281.5 L128.4 277.6 L129.7 280.4 L131.0 278.9 L132.3 281.9 L133.6 280.0 L134.9 281.2 L136.2 278.8 L137.5 280.6 L138.8 281.3 L140.1 281.3 L141.4 278.4 L142.8 281.6 L144.1 281.3 L145.4 284.5 L146.7 283.3 L148.0 280.9 L149.3 283.6 L150.6 278.4 L151.9 280.1 L153.2 281.3 L154.5 282.2 L155.8 282.5 L157.1 283.0 L158.4 279.9 L159.7 280.1 L161.0 279.3 L162.3 282.2 L163.6 283.2 L164.9 280.1 L166.2 284.6 L167.5 283.3" stroke="#27c027" stroke-width="1.4" fill="none" stroke-linejoin="round"/>
<path d="M37.0 267.2h2.7M38.3 269.4h2.7M39.6 268.3h2.7M40.9 267.2h2.7M42.2 266.9h2.7M43.5 266.1h2.7M44.8 266.7h2.7M46.1 266.3h2.7M47.4 270.0h2.7M48.8 272.8h2.7M50.1 270.9h2.7M51.4 268.2h2.7M52.7 270.4h2.7M54.0 274.7h2.7M55.3 272.7h2.7M56.6 271.5h2.7M57.9 274.9h2.7M59.2 271.6h2.7M60.5 274.6h2.7M61.8 271.5h2.7M63.1 273.1h2.7M64.4 268.3h2.7M65.7 275.8h2.7M67.0 273.0h2.7M68.3 275.9h2.7M69.6 272.7h2.7M70.9 275.3h2.7M72.2 274.4h2.7M73.5 276.4h2.7M74.8 278.8h2.7M76.2 278.4h2.7M77.5 278.9h2.7M78.8 278.9h2.7M80.1 277.6h2.7M81.4 276.5h2.7M82.7 276.8h2.7M84.0 277.5h2.7M85.3 278.8h2.7M86.6 276.7h2.7M87.9 279.3h2.7M89.2 277.7h2.7M90.5 277.3h2.7M91.8 279.8h2.7M93.1 280.6h2.7M94.4 280.6h2.7M95.7 279.6h2.7M97.0 280.5h2.7M98.3 282.1h2.7M99.6 280.9h2.7M100.9 281.7h2.7M102.3 277.0h2.7M103.6 279.5h2.7M104.9 282.3h2.7M106.2 279.3h2.7M107.5 279.0h2.7M108.8 280.2h2.7M110.1 282.2h2.7M111.4 280.3h2.7M112.7 280.3h2.7M114.0 279.0h2.7M115.3 279.3h2.7M116.6 275.7h2.7M117.9 280.6h2.7M119.2 277.7h2.7M120.5 279.8h2.7M121.8 282.6h2.7M123.1 281.2h2.7M124.4 281.1h2.7M125.7 281.5h2.7M127.0 277.6h2.7M128.4 280.4h2.7M129.7 278.9h2.7M131.0 281.9h2.7M132.3 280.0h2.7M133.6 281.2h2.7M134.9 278.8h2.7M136.2 280.6h2.7M137.5 281.3h2.7M138.8 281.3h2.7M140.1 278.4h2.7M141.4 281.6h2.7M142.7 281.3h2.7M144.0 284.5h2.7M145.3 283.3h2.7M146.6 280.9h2.7M147.9 283.6h2.7M149.2 278.4h2.7M150.5 280.1h2.7M151.8 281.3h2.7M153.1 282.2h2.7M154.5 282.5h2.7M155.8 283.0h2.7M157.1 279.9h2.7M158.4 280.1h2.7M159.7 279.3h2.7M161.0 282.2h2.7M162.3 283.2h2.7M163.6 280.1h2.7M164.9 284.6h2.7M166.2 283.3h2.7" stroke="#27c027" stroke-width="2.7" fill="none"/>
<path d="M38.4 266.3V268.2M37.4 266.3h2M37.4 268.2h2M39.7 266.9V270.6M38.7 266.9h2M38.7 270.6h2M41.0 268.0V271.5M40.0 268.0h2M40.0 271.5h2M42.3 265.1V269.6M41.3 265.1h2M41.3 269.6h2M43.6 267.0V270.5M42.6 267.0h2M42.6 270.5h2M46.2 270.4V271.7M45.2 270.4h2M45.2 271.7h2M48.8 268.2V272.6M47.8 268.2h2M47.8 272.6h2M50.1 264.9V269.1M49.1 264.9h2M49.1 269.1h2M51.4 264.9V268.3M50.4 264.9h2M50.4 268.3h2M52.7 268.9V272.4M51.7 268.9h2M51.7 272.4h2M54.0 264.6V267.5M53.0 264.6h2M53.0 267.5h2M55.3 265.4V270.7M54.3 265.4h2M54.3 270.7h2M56.6 267.1V272.1M55.6 267.1h2M55.6 272.1h2M57.9 267.0V268.9M56.9 267.0h2M56.9 268.9h2M59.2 263.9V267.5M58.2 263.9h2M58.2 267.5h2M60.5 265.3V271.3M59.5 265.3h2M59.5 271.3h2M61.8 267.0V268.9M60.8 267.0h2M60.8 268.9h2M63.1 267.3V269.9M62.1 267.3h2M62.1 269.9h2M65.8 267.5V271.0M64.8 267.5h2M64.8 271.0h2M67.1 265.9V275.0M66.1 265.9h2M66.1 275.0h2M69.7 266.6V272.3M68.7 266.6h2M68.7 272.3h2M71.0 262.7V270.0M70.0 262.7h2M70.0 270.0h2M72.3 269.8V271.6M71.3 269.8h2M71.3 271.6h2M73.6 264.1V267.8M72.6 264.1h2M72.6 267.8h2M74.9 269.8V271.3M73.9 269.8h2M73.9 271.3h2M76.2 270.1V271.4M75.2 270.1h2M75.2 271.4h2M77.5 265.8V272.7M76.5 265.8h2M76.5 272.7h2M80.1 268.7V271.8M79.1 268.7h2M79.1 271.8h2M81.4 269.1V274.0M80.4 269.1h2M80.4 274.0h2M82.7 264.4V270.5M81.7 264.4h2M81.7 270.5h2M84.0 267.6V270.6M83.0 267.6h2M83.0 270.6h2M86.6 268.2V272.7M85.6 268.2h2M85.6 272.7h2M87.9 264.9V267.6M86.9 264.9h2M86.9 267.6h2M89.2 268.4V269.8M88.2 268.4h2M88.2 269.8h2M90.6 265.3V273.3M89.6 265.3h2M89.6 273.3h2M91.9 266.2V268.8M90.9 266.2h2M90.9 268.8h2M93.2 269.8V272.4M92.2 269.8h2M92.2 272.4h2M94.5 268.2V271.4M93.5 268.2h2M93.5 271.4h2M97.1 266.0V270.5M96.1 266.0h2M96.1 270.5h2M98.4 265.7V269.4M97.4 265.7h2M97.4 269.4h2M99.7 270.0V271.5M98.7 270.0h2M98.7 271.5h2M101.0 265.2V271.5M100.0 265.2h2M100.0 271.5h2M103.6 266.7V269.2M102.6 266.7h2M102.6 269.2h2M104.9 269.3V272.8M103.9 269.3h2M103.9 272.8h2M106.2 270.5V273.7M105.2 270.5h2M105.2 273.7h2M107.5 268.6V271.9M106.5 268.6h2M106.5 271.9h2M108.8 270.0V275.0M107.8 270.0h2M107.8 275.0h2M110.1 268.5V272.2M109.1 268.5h2M109.1 272.2h2M111.4 268.0V269.8M110.4 268.0h2M110.4 269.8h2M112.7 266.8V274.1M111.7 266.8h2M111.7 274.1h2M114.0 267.3V270.5M113.0 267.3h2M113.0 270.5h2M115.3 267.2V272.5M114.3 267.2h2M114.3 272.5h2M119.3 269.7V275.1M118.3 269.7h2M118.3 275.1h2M120.6 265.7V271.1M119.6 265.7h2M119.6 271.1h2M121.9 268.9V273.0M120.9 268.9h2M120.9 273.0h2M123.2 267.5V271.0M122.2 267.5h2M122.2 271.0h2M124.5 265.6V272.5M123.5 265.6h2M123.5 272.5h2M127.1 269.8V272.0M126.1 269.8h2M126.1 272.0h2M128.4 269.8V272.5M127.4 269.8h2M127.4 272.5h2M131.0 266.5V270.3M130.0 266.5h2M130.0 270.3h2M133.6 268.4V271.4M132.6 268.4h2M132.6 271.4h2M134.9 268.4V271.1M133.9 268.4h2M133.9 271.1h2M137.5 270.1V274.4M136.5 270.1h2M136.5 274.4h2M138.8 264.4V273.7M137.8 264.4h2M137.8 273.7h2M140.1 268.2V270.7M139.1 268.2h2M139.1 270.7h2M141.4 268.1V270.8M140.4 268.1h2M140.4 270.8h2M142.8 264.6V267.1M141.8 264.6h2M141.8 267.1h2M144.1 268.9V270.0M143.1 268.9h2M143.1 270.0h2M145.4 267.6V269.2M144.4 267.6h2M144.4 269.2h2M146.7 268.3V271.6M145.7 268.3h2M145.7 271.6h2M148.0 266.5V269.7M147.0 266.5h2M147.0 269.7h2M149.3 268.2V271.4M148.3 268.2h2M148.3 271.4h2M150.6 264.3V267.7M149.6 264.3h2M149.6 267.7h2M151.9 268.4V270.9M150.9 268.4h2M150.9 270.9h2M153.2 266.6V269.5M152.2 266.6h2M152.2 269.5h2M154.5 263.1V271.2M153.5 263.1h2M153.5 271.2h2M155.8 267.6V271.4M154.8 267.6h2M154.8 271.4h2M157.1 266.5V270.4M156.1 266.5h2M156.1 270.4h2M158.4 267.4V271.6M157.4 267.4h2M157.4 271.6h2M159.7 269.7V272.9M158.7 269.7h2M158.7 272.9h2M161.0 268.9V273.8M160.0 268.9h2M160.0 273.8h2M162.3 269.2V270.5M161.3 269.2h2M161.3 270.5h2M163.6 264.7V269.4M162.6 264.7h2M162.6 269.4h2M164.9 269.8V272.7M163.9 269.8h2M163.9 272.7h2M167.5 269.6V272.5M166.5 269.6h2M166.5 272.5h2" stroke="#9a2ad8" stroke-width="0.6" fill="none"/>
<path d="M38.4 267.2 L39.7 268.7 L41.0 269.7 L42.3 267.3 L43.6 268.8 L44.9 267.4 L46.2 271.1 L47.5 270.9 L48.8 270.4 L50.1 267.0 L51.4 266.6 L52.7 270.7 L54.0 266.0 L55.3 268.0 L56.6 269.6 L57.9 268.0 L59.2 265.7 L60.5 268.3 L61.8 268.0 L63.1 268.6 L64.5 269.6 L65.8 269.2 L67.1 270.4 L68.4 266.8 L69.7 269.4 L71.0 266.3 L72.3 270.7 L73.6 266.0 L74.9 270.6 L76.2 270.7 L77.5 269.3 L78.8 268.3 L80.1 270.3 L81.4 271.5 L82.7 267.5 L84.0 269.1 L85.3 272.1 L86.6 270.5 L87.9 266.3 L89.2 269.1 L90.6 269.3 L91.9 267.5 L93.2 271.1 L94.5 269.8 L95.8 270.3 L97.1 268.3 L98.4 267.5 L99.7 270.8 L101.0 268.4 L102.3 269.1 L103.6 268.0 L104.9 271.0 L106.2 272.1 L107.5 270.2 L108.8 272.5 L110.1 270.4 L111.4 268.9 L112.7 270.4 L114.0 268.9 L115.3 269.8 L116.7 273.1 L118.0 271.1 L119.3 272.4 L120.6 268.4 L121.9 270.9 L123.2 269.2 L124.5 269.1 L125.8 267.7 L127.1 270.9 L128.4 271.1 L129.7 270.1 L131.0 268.4 L132.3 271.5 L133.6 269.9 L134.9 269.8 L136.2 270.8 L137.5 272.2 L138.8 269.0 L140.1 269.4 L141.4 269.5 L142.8 265.8 L144.1 269.4 L145.4 268.4 L146.7 269.9 L148.0 268.1 L149.3 269.8 L150.6 266.0 L151.9 269.7 L153.2 268.0 L154.5 267.2 L155.8 269.5 L157.1 268.5 L158.4 269.5 L159.7 271.3 L161.0 271.4 L162.3 269.9 L163.6 267.0 L164.9 271.3 L166.2 268.9 L167.5 271.1" stroke="#9a2ad8" stroke-width="1.4" fill="none" stroke-linejoin="round"/>
<path d="M37.0 267.2h2.7M38.3 268.7h2.7M39.6 269.7h2.7M40.9 267.3h2.7M42.2 268.8h2.7M43.5 267.4h2.7M44.8 271.1h2.7M46.1 270.9h2.7M47.4 270.4h2.7M48.8 267.0h2.7M50.1 266.6h2.7M51.4 270.7h2.7M52.7 266.0h2.7M54.0 268.0h2.7M55.3 269.6h2.7M56.6 268.0h2.7M57.9 265.7h2.7M59.2 268.3h2.7M60.5 268.0h2.7M61.8 268.6h2.7M63.1 269.6h2.7M64.4 269.2h2.7M65.7 270.4h2.7M67.0 266.8h2.7M68.3 269.4h2.7M69.6 266.3h2.7M70.9 270.7h2.7M72.2 266.0h2.7M73.5 270.6h2.7M74.8 270.7h2.7M76.2 269.3h2.7M77.5 268.3h2.7M78.8 270.3h2.7M80.1 271.5h2.7M81.4 267.5h2.7M82.7 269.1h2.7M84.0 272.1h2.7M85.3 270.5h2.7M86.6 266.3h2.7M87.9 269.1h2.7M89.2 269.3h2.7M90.5 267.5h2.7M91.8 271.1h2.7M93.1 269.8h2.7M94.4 270.3h2.7M95.7 268.3h2.7M97.0 267.5h2.7M98.3 270.8h2.7M99.6 268.4h2.7M100.9 269.1h2.7M102.3 268.0h2.7M103.6 271.0h2.7M104.9 272.1h2.7M106.2 270.2h2.7M107.5 272.5h2.7M108.8 270.4h2.7M110.1 268.9h2.7M111.4 270.4h2.7M112.7 268.9h2.7M114.0 269.8h2.7M115.3 273.1h2.7M116.6 271.1h2.7M117.9 272.4h2.7M119.2 268.4h2.7M120.5 270.9h2.7M121.8 269.2h2.7M123.1 269.1h2.7M124.4 267.7h2.7M125.7 270.9h2.7M127.0 271.1h2.7M128.4 270.1h2.7M129.7 268.4h2.7M131.0 271.5h2.7M132.3 269.9h2.7M133.6 269.8h2.7M134.9 270.8h2.7M136.2 272.2h2.7M137.5 269.0h2.7M138.8 269.4h2.7M140.1 269.5h2.7M141.4 265.8h2.7M142.7 269.4h2.7M144.0 268.4h2.7M145.3 269.9h2.7M146.6 268.1h2.7M147.9 269.8h2.7M149.2 266.0h2.7M150.5 269.7h2.7M151.8 268.0h2.7M153.1 267.2h2.7M154.5 269.5h2.7M155.8 268.5h2.7M157.1 269.5h2.7M158.4 271.3h2.7M159.7 271.4h2.7M161.0 269.9h2.7M162.3 267.0h2.7M163.6 271.3h2.7M164.9 268.9h2.7M166.2 271.1h2.7" stroke="#9a2ad8" stroke-width="2.7" fill="none"/>
<line x1="38.50" y1="251.50" x2="38.50" y2="355.70" stroke="#000" stroke-width="2.0" />
<line x1="37.50" y1="354.70" x2="169.00" y2="354.70" stroke="#000" stroke-width="2.0" />
<line x1="34.00" y1="251.70" x2="38.50" y2="251.70" stroke="#000" stroke-width="1.5" />
<text x="32.20" y="255.40" font-size="10.8" fill="#000" text-anchor="end" >5</text>
<line x1="34.00" y1="268.90" x2="38.50" y2="268.90" stroke="#000" stroke-width="1.5" />
<text x="32.20" y="272.60" font-size="10.8" fill="#000" text-anchor="end" >0</text>
<line x1="34.00" y1="286.10" x2="38.50" y2="286.10" stroke="#000" stroke-width="1.5" />
<text x="32.20" y="289.80" font-size="10.8" fill="#000" text-anchor="end" >-5</text>
<line x1="34.00" y1="303.30" x2="38.50" y2="303.30" stroke="#000" stroke-width="1.5" />
<text x="32.20" y="307.00" font-size="10.8" fill="#000" text-anchor="end" >-10</text>
<line x1="34.00" y1="320.50" x2="38.50" y2="320.50" stroke="#000" stroke-width="1.5" />
<text x="32.20" y="324.20" font-size="10.8" fill="#000" text-anchor="end" >-15</text>
<line x1="34.00" y1="337.70" x2="38.50" y2="337.70" stroke="#000" stroke-width="1.5" />
<text x="32.20" y="341.40" font-size="10.8" fill="#000" text-anchor="end" >-20</text>
<line x1="34.00" y1="354.90" x2="38.50" y2="354.90" stroke="#000" stroke-width="1.5" />
<text x="32.20" y="358.60" font-size="10.8" fill="#000" text-anchor="end" >-25</text>
<line x1="50.10" y1="354.70" x2="50.10" y2="359.20" stroke="#000" stroke-width="1.5" />
<text x="50.10" y="371.60" font-size="10.8" fill="#000" text-anchor="middle" >0</text>
<line x1="89.25" y1="354.70" x2="89.25" y2="359.20" stroke="#000" stroke-width="1.5" />
<text x="89.25" y="371.60" font-size="10.8" fill="#000" text-anchor="middle" >3</text>
<line x1="128.40" y1="354.70" x2="128.40" y2="359.20" stroke="#000" stroke-width="1.5" />
<text x="128.40" y="371.60" font-size="10.8" fill="#000" text-anchor="middle" >6</text>
<line x1="167.55" y1="354.70" x2="167.55" y2="359.20" stroke="#000" stroke-width="1.5" />
<text x="167.55" y="371.60" font-size="10.8" fill="#000" text-anchor="middle" >9</text>
<text x="103.40" y="388.60" font-size="12.7" fill="#000" text-anchor="middle" >Time (min)</text>
<text transform="translate(10.60,300.00) rotate(-90)" x="0" y="0" font-size="12.8" text-anchor="middle">&#916;BRET (%)</text>
<text x="360.50" y="232.60" font-size="16.5" fill="#000" text-anchor="start" >d</text>
<text x="431.60" y="231.00" font-size="12.8">G&#945;<tspan font-size="9" dy="2.8">i3</tspan><tspan dy="-2.8">-CASE</tspan></text>
<line x1="399.20" y1="266.60" x2="528.50" y2="266.60" stroke="#000" stroke-width="1.0" stroke-dasharray="1 1.6"/>
<path d="M400.3 263.0V264.2M399.3 263.0h2M399.3 264.2h2M401.7 263.9V265.8M400.7 263.9h2M400.7 265.8h2M403.0 263.3V264.8M402.0 263.3h2M402.0 264.8h2M404.3 267.4V268.7M403.3 267.4h2M403.3 268.7h2M405.6 264.3V267.4M404.6 264.3h2M404.6 267.4h2M406.9 263.0V269.5M405.9 263.0h2M405.9 269.5h2M408.2 262.9V267.0M407.2 262.9h2M407.2 267.0h2M409.5 266.8V271.1M408.5 266.8h2M408.5 271.1h2M412.1 303.7V307.4M411.1 303.7h2M411.1 307.4h2M413.4 316.4V318.6M412.4 316.4h2M412.4 318.6h2M416.0 326.1V327.4M415.0 326.1h2M415.0 327.4h2M417.3 329.9V331.3M416.3 329.9h2M416.3 331.3h2M418.6 332.8V335.4M417.6 332.8h2M417.6 335.4h2M419.9 334.4V338.3M418.9 334.4h2M418.9 338.3h2M421.3 340.8V342.0M420.3 340.8h2M420.3 342.0h2M422.6 338.3V343.8M421.6 338.3h2M421.6 343.8h2M423.9 340.7V344.3M422.9 340.7h2M422.9 344.3h2M425.2 340.8V341.9M424.2 340.8h2M424.2 341.9h2M427.8 341.5V343.8M426.8 341.5h2M426.8 343.8h2M430.4 344.1V346.4M429.4 344.1h2M429.4 346.4h2M431.7 345.4V346.8M430.7 345.4h2M430.7 346.8h2M433.0 340.9V345.0M432.0 340.9h2M432.0 345.0h2M438.2 341.8V344.7M437.2 341.8h2M437.2 344.7h2M439.6 342.6V345.4M438.6 342.6h2M438.6 345.4h2M442.2 341.5V342.7M441.2 341.5h2M441.2 342.7h2M443.5 337.1V341.4M442.5 337.1h2M442.5 341.4h2M444.8 340.3V342.2M443.8 340.3h2M443.8 342.2h2M446.1 338.5V344.4M445.1 338.5h2M445.1 344.4h2M447.4 341.2V342.4M446.4 341.2h2M446.4 342.4h2M448.7 339.2V343.3M447.7 339.2h2M447.7 343.3h2M450.0 337.8V339.7M449.0 337.8h2M449.0 339.7h2M451.3 336.3V339.4M450.3 336.3h2M450.3 339.4h2M452.6 337.1V339.4M451.6 337.1h2M451.6 339.4h2M453.9 336.5V338.0M452.9 336.5h2M452.9 338.0h2M455.2 335.7V338.2M454.2 335.7h2M454.2 338.2h2M457.9 339.1V340.3M456.9 339.1h2M456.9 340.3h2M459.2 338.4V339.5M458.2 338.4h2M458.2 339.5h2M460.5 337.4V339.9M459.5 337.4h2M459.5 339.9h2M461.8 338.5V342.4M460.8 338.5h2M460.8 342.4h2M467.0 337.8V341.2M466.0 337.8h2M466.0 341.2h2M468.3 340.3V341.4M467.3 340.3h2M467.3 341.4h2M469.6 338.6V342.9M468.6 338.6h2M468.6 342.9h2M470.9 338.0V341.3M469.9 338.0h2M469.9 341.3h2M472.2 338.4V340.8M471.2 338.4h2M471.2 340.8h2M474.8 341.9V343.7M473.8 341.9h2M473.8 343.7h2M476.1 335.6V340.6M475.1 335.6h2M475.1 340.6h2M477.5 336.5V340.4M476.5 336.5h2M476.5 340.4h2M478.8 334.9V337.6M477.8 334.9h2M477.8 337.6h2M480.1 330.6V339.1M479.1 330.6h2M479.1 339.1h2M481.4 331.9V334.5M480.4 331.9h2M480.4 334.5h2M482.7 331.9V333.8M481.7 331.9h2M481.7 333.8h2M484.0 332.2V336.0M483.0 332.2h2M483.0 336.0h2M485.3 327.9V336.7M484.3 327.9h2M484.3 336.7h2M486.6 333.0V335.6M485.6 333.0h2M485.6 335.6h2M489.2 330.7V335.7M488.2 330.7h2M488.2 335.7h2M490.5 333.6V335.1M489.5 333.6h2M489.5 335.1h2M491.8 330.1V331.4M490.8 330.1h2M490.8 331.4h2M493.1 330.4V331.7M492.1 330.4h2M492.1 331.7h2M495.8 329.1V331.6M494.8 329.1h2M494.8 331.6h2M497.1 330.5V332.4M496.1 330.5h2M496.1 332.4h2M498.4 330.8V333.7M497.4 330.8h2M497.4 333.7h2M499.7 332.0V333.8M498.7 332.0h2M498.7 333.8h2M501.0 332.5V336.5M500.0 332.5h2M500.0 336.5h2M502.3 333.6V334.9M501.3 333.6h2M501.3 334.9h2M503.6 333.8V337.1M502.6 333.8h2M502.6 337.1h2M504.9 332.9V335.7M503.9 332.9h2M503.9 335.7h2M506.2 335.3V339.4M505.2 335.3h2M505.2 339.4h2M507.5 335.3V336.8M506.5 335.3h2M506.5 336.8h2M508.8 336.5V339.2M507.8 336.5h2M507.8 339.2h2M510.1 336.5V339.5M509.1 336.5h2M509.1 339.5h2M511.4 334.6V340.1M510.4 334.6h2M510.4 340.1h2M512.7 337.3V338.6M511.7 337.3h2M511.7 338.6h2M515.4 334.4V336.1M514.4 334.4h2M514.4 336.1h2M516.7 334.8V337.3M515.7 334.8h2M515.7 337.3h2M518.0 333.6V336.7M517.0 333.6h2M517.0 336.7h2M519.3 330.4V336.3M518.3 330.4h2M518.3 336.3h2M520.6 332.5V335.5M519.6 332.5h2M519.6 335.5h2M523.2 332.1V334.0M522.2 332.1h2M522.2 334.0h2M524.5 332.0V336.5M523.5 332.0h2M523.5 336.5h2M527.1 332.7V334.1M526.1 332.7h2M526.1 334.1h2M528.4 328.8V331.0M527.4 328.8h2M527.4 331.0h2" stroke="#808080" stroke-width="0.6" fill="none"/>
<path d="M399.0 266.3 L400.3 263.6 L401.7 264.8 L403.0 264.1 L404.3 268.0 L405.6 265.8 L406.9 266.2 L408.2 265.0 L409.5 268.9 L410.8 264.9 L412.1 305.6 L413.4 317.5 L414.7 322.1 L416.0 326.7 L417.3 330.6 L418.6 334.1 L419.9 336.4 L421.3 341.4 L422.6 341.1 L423.9 342.5 L425.2 341.4 L426.5 343.1 L427.8 342.6 L429.1 345.6 L430.4 345.2 L431.7 346.1 L433.0 343.0 L434.3 343.5 L435.6 344.6 L436.9 344.2 L438.2 343.2 L439.6 344.0 L440.9 344.0 L442.2 342.1 L443.5 339.3 L444.8 341.2 L446.1 341.4 L447.4 341.8 L448.7 341.3 L450.0 338.8 L451.3 337.9 L452.6 338.3 L453.9 337.3 L455.2 336.9 L456.5 336.8 L457.9 339.7 L459.2 338.9 L460.5 338.7 L461.8 340.4 L463.1 340.7 L464.4 340.9 L465.7 340.9 L467.0 339.5 L468.3 340.9 L469.6 340.7 L470.9 339.6 L472.2 339.6 L473.5 338.3 L474.8 342.8 L476.1 338.1 L477.5 338.5 L478.8 336.2 L480.1 334.9 L481.4 333.2 L482.7 332.8 L484.0 334.1 L485.3 332.3 L486.6 334.3 L487.9 334.0 L489.2 333.2 L490.5 334.4 L491.8 330.8 L493.1 331.1 L494.4 329.2 L495.8 330.4 L497.1 331.5 L498.4 332.3 L499.7 332.9 L501.0 334.5 L502.3 334.3 L503.6 335.5 L504.9 334.3 L506.2 337.4 L507.5 336.0 L508.8 337.9 L510.1 338.0 L511.4 337.4 L512.7 337.9 L514.1 336.2 L515.4 335.2 L516.7 336.0 L518.0 335.2 L519.3 333.3 L520.6 334.0 L521.9 333.2 L523.2 333.1 L524.5 334.2 L525.8 330.8 L527.1 333.4 L528.4 329.9" stroke="#808080" stroke-width="1.4" fill="none" stroke-linejoin="round"/>
<path d="M397.7 266.3h2.7M399.0 263.6h2.7M400.3 264.8h2.7M401.6 264.1h2.7M402.9 268.0h2.7M404.2 265.8h2.7M405.5 266.2h2.7M406.8 265.0h2.7M408.1 268.9h2.7M409.4 264.9h2.7M410.8 305.6h2.7M412.1 317.5h2.7M413.4 322.1h2.7M414.7 326.7h2.7M416.0 330.6h2.7M417.3 334.1h2.7M418.6 336.4h2.7M419.9 341.4h2.7M421.2 341.1h2.7M422.5 342.5h2.7M423.8 341.4h2.7M425.1 343.1h2.7M426.4 342.6h2.7M427.7 345.6h2.7M429.1 345.2h2.7M430.4 346.1h2.7M431.7 343.0h2.7M433.0 343.5h2.7M434.3 344.6h2.7M435.6 344.2h2.7M436.9 343.2h2.7M438.2 344.0h2.7M439.5 344.0h2.7M440.8 342.1h2.7M442.1 339.3h2.7M443.4 341.2h2.7M444.7 341.4h2.7M446.0 341.8h2.7M447.4 341.3h2.7M448.7 338.8h2.7M450.0 337.9h2.7M451.3 338.3h2.7M452.6 337.3h2.7M453.9 336.9h2.7M455.2 336.8h2.7M456.5 339.7h2.7M457.8 338.9h2.7M459.1 338.7h2.7M460.4 340.4h2.7M461.7 340.7h2.7M463.0 340.9h2.7M464.3 340.9h2.7M465.7 339.5h2.7M467.0 340.9h2.7M468.3 340.7h2.7M469.6 339.6h2.7M470.9 339.6h2.7M472.2 338.3h2.7M473.5 342.8h2.7M474.8 338.1h2.7M476.1 338.5h2.7M477.4 336.2h2.7M478.7 334.9h2.7M480.0 333.2h2.7M481.3 332.8h2.7M482.6 334.1h2.7M483.9 332.3h2.7M485.3 334.3h2.7M486.6 334.0h2.7M487.9 333.2h2.7M489.2 334.4h2.7M490.5 330.8h2.7M491.8 331.1h2.7M493.1 329.2h2.7M494.4 330.4h2.7M495.7 331.5h2.7M497.0 332.3h2.7M498.3 332.9h2.7M499.6 334.5h2.7M500.9 334.3h2.7M502.2 335.5h2.7M503.6 334.3h2.7M504.9 337.4h2.7M506.2 336.0h2.7M507.5 337.9h2.7M508.8 338.0h2.7M510.1 337.4h2.7M511.4 337.9h2.7M512.7 336.2h2.7M514.0 335.2h2.7M515.3 336.0h2.7M516.6 335.2h2.7M517.9 333.3h2.7M519.2 334.0h2.7M520.5 333.2h2.7M521.9 333.1h2.7M523.2 334.2h2.7M524.5 330.8h2.7M525.8 333.4h2.7M527.1 329.9h2.7" stroke="#808080" stroke-width="2.7" fill="none"/>
<path d="M399.0 261.0V265.0M398.0 261.0h2M398.0 265.0h2M400.3 265.0V266.9M399.3 265.0h2M399.3 266.9h2M401.7 261.6V268.8M400.7 261.6h2M400.7 268.8h2M404.3 263.5V264.9M403.3 263.5h2M403.3 264.9h2M405.6 263.5V270.6M404.6 263.5h2M404.6 270.6h2M406.9 265.0V267.6M405.9 265.0h2M405.9 267.6h2M408.2 265.0V266.4M407.2 265.0h2M407.2 266.4h2M410.8 264.6V267.0M409.8 264.6h2M409.8 267.0h2M413.4 265.6V267.3M412.4 265.6h2M412.4 267.3h2M416.0 262.4V266.0M415.0 262.4h2M415.0 266.0h2M417.3 264.4V266.6M416.3 264.4h2M416.3 266.6h2M418.6 264.0V267.2M417.6 264.0h2M417.6 267.2h2M422.6 264.1V268.7M421.6 264.1h2M421.6 268.7h2M425.2 264.8V267.6M424.2 264.8h2M424.2 267.6h2M426.5 266.3V267.6M425.5 266.3h2M425.5 267.6h2M427.8 265.7V271.0M426.8 265.7h2M426.8 271.0h2M429.1 263.9V268.0M428.1 263.9h2M428.1 268.0h2M433.0 265.5V268.0M432.0 265.5h2M432.0 268.0h2M435.6 264.7V267.9M434.6 264.7h2M434.6 267.9h2M436.9 267.7V270.7M435.9 267.7h2M435.9 270.7h2M438.2 264.9V266.2M437.2 264.9h2M437.2 266.2h2M440.9 263.0V270.0M439.9 263.0h2M439.9 270.0h2M442.2 267.0V268.9M441.2 267.0h2M441.2 268.9h2M443.5 265.6V271.0M442.5 265.6h2M442.5 271.0h2M444.8 267.9V269.1M443.8 267.9h2M443.8 269.1h2M446.1 266.5V268.0M445.1 266.5h2M445.1 268.0h2M447.4 268.6V269.8M446.4 268.6h2M446.4 269.8h2M448.7 266.7V271.3M447.7 266.7h2M447.7 271.3h2M450.0 267.7V270.8M449.0 267.7h2M449.0 270.8h2M451.3 269.7V271.4M450.3 269.7h2M450.3 271.4h2M452.6 264.6V270.1M451.6 264.6h2M451.6 270.1h2M453.9 267.9V269.2M452.9 267.9h2M452.9 269.2h2M455.2 266.3V272.8M454.2 266.3h2M454.2 272.8h2M456.5 267.5V268.8M455.5 267.5h2M455.5 268.8h2M457.9 268.6V273.1M456.9 268.6h2M456.9 273.1h2M459.2 266.8V272.5M458.2 266.8h2M458.2 272.5h2M460.5 266.9V268.5M459.5 266.9h2M459.5 268.5h2M461.8 266.6V270.9M460.8 266.6h2M460.8 270.9h2M463.1 271.5V273.9M462.1 271.5h2M462.1 273.9h2M464.4 273.9V275.0M463.4 273.9h2M463.4 275.0h2M465.7 269.3V274.8M464.7 269.3h2M464.7 274.8h2M467.0 268.7V270.6M466.0 268.7h2M466.0 270.6h2M468.3 271.0V272.4M467.3 271.0h2M467.3 272.4h2M469.6 269.7V273.8M468.6 269.7h2M468.6 273.8h2M470.9 268.7V273.1M469.9 268.7h2M469.9 273.1h2M472.2 272.0V273.3M471.2 272.0h2M471.2 273.3h2M473.5 269.6V272.8M472.5 269.6h2M472.5 272.8h2M476.1 270.1V272.1M475.1 270.1h2M475.1 272.1h2M477.5 270.0V273.4M476.5 270.0h2M476.5 273.4h2M478.8 272.1V274.5M477.8 272.1h2M477.8 274.5h2M481.4 273.2V274.8M480.4 273.2h2M480.4 274.8h2M485.3 274.0V275.0M484.3 274.0h2M484.3 275.0h2M486.6 274.4V278.2M485.6 274.4h2M485.6 278.2h2M487.9 271.8V276.9M486.9 271.8h2M486.9 276.9h2M489.2 271.1V276.0M488.2 271.1h2M488.2 276.0h2M491.8 270.0V275.1M490.8 270.0h2M490.8 275.1h2M493.1 273.7V276.4M492.1 273.7h2M492.1 276.4h2M494.4 274.0V275.6M493.4 274.0h2M493.4 275.6h2M495.8 269.8V275.4M494.8 269.8h2M494.8 275.4h2M497.1 273.3V278.4M496.1 273.3h2M496.1 278.4h2M498.4 272.0V274.4M497.4 272.0h2M497.4 274.4h2M501.0 271.5V275.6M500.0 271.5h2M500.0 275.6h2M502.3 272.7V274.3M501.3 272.7h2M501.3 274.3h2M503.6 272.4V274.0M502.6 272.4h2M502.6 274.0h2M504.9 271.6V274.1M503.9 271.6h2M503.9 274.1h2M506.2 272.0V277.4M505.2 272.0h2M505.2 277.4h2M507.5 271.7V274.5M506.5 271.7h2M506.5 274.5h2M508.8 272.2V274.7M507.8 272.2h2M507.8 274.7h2M510.1 270.3V275.7M509.1 270.3h2M509.1 275.7h2M511.4 270.3V274.1M510.4 270.3h2M510.4 274.1h2M512.7 273.7V275.2M511.7 273.7h2M511.7 275.2h2M514.1 273.8V276.2M513.1 273.8h2M513.1 276.2h2M515.4 274.1V276.4M514.4 274.1h2M514.4 276.4h2M516.7 274.1V275.5M515.7 274.1h2M515.7 275.5h2M518.0 270.9V276.6M517.0 270.9h2M517.0 276.6h2M519.3 273.8V276.8M518.3 273.8h2M518.3 276.8h2M520.6 272.3V274.0M519.6 272.3h2M519.6 274.0h2M521.9 273.1V274.8M520.9 273.1h2M520.9 274.8h2M523.2 274.3V275.4M522.2 274.3h2M522.2 275.4h2M524.5 274.8V277.7M523.5 274.8h2M523.5 277.7h2M525.8 273.1V275.9M524.8 273.1h2M524.8 275.9h2M527.1 271.8V276.6M526.1 271.8h2M526.1 276.6h2" stroke="#2eaeea" stroke-width="0.6" fill="none"/>
<path d="M399.0 263.0 L400.3 266.0 L401.7 265.2 L403.0 265.6 L404.3 264.2 L405.6 267.0 L406.9 266.3 L408.2 265.7 L409.5 265.0 L410.8 265.8 L412.1 265.9 L413.4 266.5 L414.7 265.2 L416.0 264.2 L417.3 265.5 L418.6 265.6 L419.9 265.5 L421.3 267.1 L422.6 266.4 L423.9 266.4 L425.2 266.2 L426.5 267.0 L427.8 268.4 L429.1 266.0 L430.4 265.7 L431.7 267.8 L433.0 266.7 L434.3 267.2 L435.6 266.3 L436.9 269.2 L438.2 265.6 L439.6 268.4 L440.9 266.5 L442.2 268.0 L443.5 268.3 L444.8 268.5 L446.1 267.3 L447.4 269.2 L448.7 269.0 L450.0 269.3 L451.3 270.6 L452.6 267.3 L453.9 268.6 L455.2 269.6 L456.5 268.2 L457.9 270.9 L459.2 269.7 L460.5 267.7 L461.8 268.7 L463.1 272.7 L464.4 274.5 L465.7 272.0 L467.0 269.6 L468.3 271.7 L469.6 271.7 L470.9 270.9 L472.2 272.6 L473.5 271.2 L474.8 270.6 L476.1 271.1 L477.5 271.7 L478.8 273.3 L480.1 272.6 L481.4 274.0 L482.7 271.9 L484.0 270.4 L485.3 274.5 L486.6 276.3 L487.9 274.4 L489.2 273.5 L490.5 272.3 L491.8 272.6 L493.1 275.1 L494.4 274.8 L495.8 272.6 L497.1 275.9 L498.4 273.2 L499.7 274.5 L501.0 273.6 L502.3 273.5 L503.6 273.2 L504.9 272.8 L506.2 274.7 L507.5 273.1 L508.8 273.5 L510.1 273.0 L511.4 272.2 L512.7 274.5 L514.1 275.0 L515.4 275.3 L516.7 274.8 L518.0 273.7 L519.3 275.3 L520.6 273.2 L521.9 273.9 L523.2 274.9 L524.5 276.3 L525.8 274.5 L527.1 274.2 L528.4 277.4" stroke="#2eaeea" stroke-width="1.4" fill="none" stroke-linejoin="round"/>
<path d="M397.7 263.0h2.7M399.0 266.0h2.7M400.3 265.2h2.7M401.6 265.6h2.7M402.9 264.2h2.7M404.2 267.0h2.7M405.5 266.3h2.7M406.8 265.7h2.7M408.1 265.0h2.7M409.4 265.8h2.7M410.8 265.9h2.7M412.1 266.5h2.7M413.4 265.2h2.7M414.7 264.2h2.7M416.0 265.5h2.7M417.3 265.6h2.7M418.6 265.5h2.7M419.9 267.1h2.7M421.2 266.4h2.7M422.5 266.4h2.7M423.8 266.2h2.7M425.1 267.0h2.7M426.4 268.4h2.7M427.7 266.0h2.7M429.1 265.7h2.7M430.4 267.8h2.7M431.7 266.7h2.7M433.0 267.2h2.7M434.3 266.3h2.7M435.6 269.2h2.7M436.9 265.6h2.7M438.2 268.4h2.7M439.5 266.5h2.7M440.8 268.0h2.7M442.1 268.3h2.7M443.4 268.5h2.7M444.7 267.3h2.7M446.0 269.2h2.7M447.4 269.0h2.7M448.7 269.3h2.7M450.0 270.6h2.7M451.3 267.3h2.7M452.6 268.6h2.7M453.9 269.6h2.7M455.2 268.2h2.7M456.5 270.9h2.7M457.8 269.7h2.7M459.1 267.7h2.7M460.4 268.7h2.7M461.7 272.7h2.7M463.0 274.5h2.7M464.3 272.0h2.7M465.7 269.6h2.7M467.0 271.7h2.7M468.3 271.7h2.7M469.6 270.9h2.7M470.9 272.6h2.7M472.2 271.2h2.7M473.5 270.6h2.7M474.8 271.1h2.7M476.1 271.7h2.7M477.4 273.3h2.7M478.7 272.6h2.7M480.0 274.0h2.7M481.3 271.9h2.7M482.6 270.4h2.7M483.9 274.5h2.7M485.3 276.3h2.7M486.6 274.4h2.7M487.9 273.5h2.7M489.2 272.3h2.7M490.5 272.6h2.7M491.8 275.1h2.7M493.1 274.8h2.7M494.4 272.6h2.7M495.7 275.9h2.7M497.0 273.2h2.7M498.3 274.5h2.7M499.6 273.6h2.7M500.9 273.5h2.7M502.2 273.2h2.7M503.6 272.8h2.7M504.9 274.7h2.7M506.2 273.1h2.7M507.5 273.5h2.7M508.8 273.0h2.7M510.1 272.2h2.7M511.4 274.5h2.7M512.7 275.0h2.7M514.0 275.3h2.7M515.3 274.8h2.7M516.6 273.7h2.7M517.9 275.3h2.7M519.2 273.2h2.7M520.5 273.9h2.7M521.9 274.9h2.7M523.2 276.3h2.7M524.5 274.5h2.7M525.8 274.2h2.7M527.1 277.4h2.7" stroke="#2eaeea" stroke-width="2.7" fill="none"/>
<path d="M399.0 264.4V266.3M398.0 264.4h2M398.0 266.3h2M401.7 267.6V270.3M400.7 267.6h2M400.7 270.3h2M403.0 263.8V267.9M402.0 263.8h2M402.0 267.9h2M405.6 259.2V265.8M404.6 259.2h2M404.6 265.8h2M406.9 263.2V266.5M405.9 263.2h2M405.9 266.5h2M408.2 265.7V267.4M407.2 265.7h2M407.2 267.4h2M409.5 266.1V267.2M408.5 266.1h2M408.5 267.2h2M410.8 262.7V266.7M409.8 262.7h2M409.8 266.7h2M412.1 277.8V280.0M411.1 277.8h2M411.1 280.0h2M413.4 283.0V284.2M412.4 283.0h2M412.4 284.2h2M414.7 284.8V286.1M413.7 284.8h2M413.7 286.1h2M416.0 286.1V289.9M415.0 286.1h2M415.0 289.9h2M417.3 287.9V293.2M416.3 287.9h2M416.3 293.2h2M418.6 288.7V293.2M417.6 288.7h2M417.6 293.2h2M419.9 288.4V292.0M418.9 288.4h2M418.9 292.0h2M421.3 289.1V292.2M420.3 289.1h2M420.3 292.2h2M422.6 292.6V297.1M421.6 292.6h2M421.6 297.1h2M425.2 292.5V294.4M424.2 292.5h2M424.2 294.4h2M429.1 291.5V294.7M428.1 291.5h2M428.1 294.7h2M430.4 290.9V295.8M429.4 290.9h2M429.4 295.8h2M431.7 291.1V295.0M430.7 291.1h2M430.7 295.0h2M433.0 290.1V293.9M432.0 290.1h2M432.0 293.9h2M434.3 290.6V293.4M433.3 290.6h2M433.3 293.4h2M435.6 293.3V294.4M434.6 293.3h2M434.6 294.4h2M436.9 292.1V293.1M435.9 292.1h2M435.9 293.1h2M438.2 290.2V293.6M437.2 290.2h2M437.2 293.6h2M439.6 290.2V294.3M438.6 290.2h2M438.6 294.3h2M440.9 292.1V295.8M439.9 292.1h2M439.9 295.8h2M443.5 293.2V295.1M442.5 293.2h2M442.5 295.1h2M444.8 294.2V296.4M443.8 294.2h2M443.8 296.4h2M446.1 294.2V297.0M445.1 294.2h2M445.1 297.0h2M448.7 294.1V295.4M447.7 294.1h2M447.7 295.4h2M450.0 292.4V295.7M449.0 292.4h2M449.0 295.7h2M451.3 292.4V297.3M450.3 292.4h2M450.3 297.3h2M452.6 290.2V294.7M451.6 290.2h2M451.6 294.7h2M455.2 293.7V294.8M454.2 293.7h2M454.2 294.8h2M456.5 292.2V294.5M455.5 292.2h2M455.5 294.5h2M457.9 293.4V295.8M456.9 293.4h2M456.9 295.8h2M460.5 291.2V294.2M459.5 291.2h2M459.5 294.2h2M461.8 293.4V297.0M460.8 293.4h2M460.8 297.0h2M463.1 292.2V293.3M462.1 292.2h2M462.1 293.3h2M464.4 292.2V295.4M463.4 292.2h2M463.4 295.4h2M465.7 292.1V295.7M464.7 292.1h2M464.7 295.7h2M467.0 291.8V295.3M466.0 291.8h2M466.0 295.3h2M468.3 293.4V295.5M467.3 293.4h2M467.3 295.5h2M470.9 292.7V294.0M469.9 292.7h2M469.9 294.0h2M472.2 293.1V295.3M471.2 293.1h2M471.2 295.3h2M473.5 294.6V296.0M472.5 294.6h2M472.5 296.0h2M474.8 291.4V292.7M473.8 291.4h2M473.8 292.7h2M476.1 293.7V295.1M475.1 293.7h2M475.1 295.1h2M477.5 293.2V297.0M476.5 293.2h2M476.5 297.0h2M478.8 293.4V296.9M477.8 293.4h2M477.8 296.9h2M480.1 291.4V296.2M479.1 291.4h2M479.1 296.2h2M481.4 292.1V294.6M480.4 292.1h2M480.4 294.6h2M482.7 292.2V296.5M481.7 292.2h2M481.7 296.5h2M484.0 292.1V294.5M483.0 292.1h2M483.0 294.5h2M485.3 293.3V299.2M484.3 293.3h2M484.3 299.2h2M486.6 294.0V296.0M485.6 294.0h2M485.6 296.0h2M487.9 294.0V296.5M486.9 294.0h2M486.9 296.5h2M489.2 292.6V297.0M488.2 292.6h2M488.2 297.0h2M490.5 291.8V296.8M489.5 291.8h2M489.5 296.8h2M491.8 296.5V298.9M490.8 296.5h2M490.8 298.9h2M493.1 290.2V293.4M492.1 290.2h2M492.1 293.4h2M495.8 293.8V295.4M494.8 293.8h2M494.8 295.4h2M498.4 290.9V297.2M497.4 290.9h2M497.4 297.2h2M499.7 292.5V296.6M498.7 292.5h2M498.7 296.6h2M501.0 297.2V299.4M500.0 297.2h2M500.0 299.4h2M502.3 295.6V297.4M501.3 295.6h2M501.3 297.4h2M503.6 292.9V295.3M502.6 292.9h2M502.6 295.3h2M504.9 294.7V297.9M503.9 294.7h2M503.9 297.9h2M506.2 294.9V297.9M505.2 294.9h2M505.2 297.9h2M507.5 297.4V299.5M506.5 297.4h2M506.5 299.5h2M508.8 293.7V294.7M507.8 293.7h2M507.8 294.7h2M510.1 294.9V296.5M509.1 294.9h2M509.1 296.5h2M512.7 295.7V298.7M511.7 295.7h2M511.7 298.7h2M514.1 296.6V297.9M513.1 296.6h2M513.1 297.9h2M516.7 295.6V299.9M515.7 295.6h2M515.7 299.9h2M518.0 294.0V299.3M517.0 294.0h2M517.0 299.3h2M520.6 293.9V297.8M519.6 293.9h2M519.6 297.8h2M521.9 295.6V299.3M520.9 295.6h2M520.9 299.3h2M523.2 296.3V299.3M522.2 296.3h2M522.2 299.3h2M524.5 296.3V298.4M523.5 296.3h2M523.5 298.4h2M525.8 297.2V300.0M524.8 297.2h2M524.8 300.0h2M527.1 297.8V299.8M526.1 297.8h2M526.1 299.8h2M528.4 294.7V297.3M527.4 294.7h2M527.4 297.3h2" stroke="#ff820e" stroke-width="0.6" fill="none"/>
<path d="M399.0 265.4 L400.3 267.5 L401.7 269.0 L403.0 265.8 L404.3 265.9 L405.6 262.5 L406.9 264.8 L408.2 266.6 L409.5 266.6 L410.8 264.7 L412.1 278.9 L413.4 283.6 L414.7 285.5 L416.0 288.0 L417.3 290.6 L418.6 291.0 L419.9 290.2 L421.3 290.6 L422.6 294.9 L423.9 289.9 L425.2 293.4 L426.5 292.4 L427.8 294.4 L429.1 293.1 L430.4 293.3 L431.7 293.1 L433.0 292.0 L434.3 292.0 L435.6 293.8 L436.9 292.6 L438.2 291.9 L439.6 292.2 L440.9 294.0 L442.2 293.8 L443.5 294.1 L444.8 295.3 L446.1 295.6 L447.4 292.0 L448.7 294.7 L450.0 294.1 L451.3 294.9 L452.6 292.4 L453.9 292.2 L455.2 294.2 L456.5 293.3 L457.9 294.6 L459.2 291.6 L460.5 292.7 L461.8 295.2 L463.1 292.7 L464.4 293.8 L465.7 293.9 L467.0 293.6 L468.3 294.5 L469.6 294.6 L470.9 293.4 L472.2 294.2 L473.5 295.3 L474.8 292.0 L476.1 294.4 L477.5 295.1 L478.8 295.1 L480.1 293.8 L481.4 293.3 L482.7 294.4 L484.0 293.3 L485.3 296.3 L486.6 295.0 L487.9 295.2 L489.2 294.8 L490.5 294.3 L491.8 297.7 L493.1 291.8 L494.4 296.3 L495.8 294.6 L497.1 294.4 L498.4 294.0 L499.7 294.6 L501.0 298.3 L502.3 296.5 L503.6 294.1 L504.9 296.3 L506.2 296.4 L507.5 298.5 L508.8 294.2 L510.1 295.7 L511.4 297.8 L512.7 297.2 L514.1 297.2 L515.4 298.6 L516.7 297.7 L518.0 296.7 L519.3 296.5 L520.6 295.9 L521.9 297.5 L523.2 297.8 L524.5 297.4 L525.8 298.6 L527.1 298.8 L528.4 296.0" stroke="#ff820e" stroke-width="1.4" fill="none" stroke-linejoin="round"/>
<path d="M397.7 265.4h2.7M399.0 267.5h2.7M400.3 269.0h2.7M401.6 265.8h2.7M402.9 265.9h2.7M404.2 262.5h2.7M405.5 264.8h2.7M406.8 266.6h2.7M408.1 266.6h2.7M409.4 264.7h2.7M410.8 278.9h2.7M412.1 283.6h2.7M413.4 285.5h2.7M414.7 288.0h2.7M416.0 290.6h2.7M417.3 291.0h2.7M418.6 290.2h2.7M419.9 290.6h2.7M421.2 294.9h2.7M422.5 289.9h2.7M423.8 293.4h2.7M425.1 292.4h2.7M426.4 294.4h2.7M427.7 293.1h2.7M429.1 293.3h2.7M430.4 293.1h2.7M431.7 292.0h2.7M433.0 292.0h2.7M434.3 293.8h2.7M435.6 292.6h2.7M436.9 291.9h2.7M438.2 292.2h2.7M439.5 294.0h2.7M440.8 293.8h2.7M442.1 294.1h2.7M443.4 295.3h2.7M444.7 295.6h2.7M446.0 292.0h2.7M447.4 294.7h2.7M448.7 294.1h2.7M450.0 294.9h2.7M451.3 292.4h2.7M452.6 292.2h2.7M453.9 294.2h2.7M455.2 293.3h2.7M456.5 294.6h2.7M457.8 291.6h2.7M459.1 292.7h2.7M460.4 295.2h2.7M461.7 292.7h2.7M463.0 293.8h2.7M464.3 293.9h2.7M465.7 293.6h2.7M467.0 294.5h2.7M468.3 294.6h2.7M469.6 293.4h2.7M470.9 294.2h2.7M472.2 295.3h2.7M473.5 292.0h2.7M474.8 294.4h2.7M476.1 295.1h2.7M477.4 295.1h2.7M478.7 293.8h2.7M480.0 293.3h2.7M481.3 294.4h2.7M482.6 293.3h2.7M483.9 296.3h2.7M485.3 295.0h2.7M486.6 295.2h2.7M487.9 294.8h2.7M489.2 294.3h2.7M490.5 297.7h2.7M491.8 291.8h2.7M493.1 296.3h2.7M494.4 294.6h2.7M495.7 294.4h2.7M497.0 294.0h2.7M498.3 294.6h2.7M499.6 298.3h2.7M500.9 296.5h2.7M502.2 294.1h2.7M503.6 296.3h2.7M504.9 296.4h2.7M506.2 298.5h2.7M507.5 294.2h2.7M508.8 295.7h2.7M510.1 297.8h2.7M511.4 297.2h2.7M512.7 297.2h2.7M514.0 298.6h2.7M515.3 297.7h2.7M516.6 296.7h2.7M517.9 296.5h2.7M519.2 295.9h2.7M520.5 297.5h2.7M521.9 297.8h2.7M523.2 297.4h2.7M524.5 298.6h2.7M525.8 298.8h2.7M527.1 296.0h2.7" stroke="#ff820e" stroke-width="2.7" fill="none"/>
<path d="M399.0 265.3V268.6M398.0 265.3h2M398.0 268.6h2M401.7 264.8V267.3M400.7 264.8h2M400.7 267.3h2M403.0 265.8V268.8M402.0 265.8h2M402.0 268.8h2M406.9 262.5V268.1M405.9 262.5h2M405.9 268.1h2M409.5 262.2V268.1M408.5 262.2h2M408.5 268.1h2M410.8 264.7V268.2M409.8 264.7h2M409.8 268.2h2M412.1 299.5V301.6M411.1 299.5h2M411.1 301.6h2M413.4 305.1V309.8M412.4 305.1h2M412.4 309.8h2M414.7 305.3V308.9M413.7 305.3h2M413.7 308.9h2M416.0 307.4V309.3M415.0 307.4h2M415.0 309.3h2M417.3 307.0V308.9M416.3 307.0h2M416.3 308.9h2M418.6 305.3V309.2M417.6 305.3h2M417.6 309.2h2M421.3 305.6V308.1M420.3 305.6h2M420.3 308.1h2M422.6 305.2V307.9M421.6 305.2h2M421.6 307.9h2M423.9 305.2V306.5M422.9 305.2h2M422.9 306.5h2M425.2 305.7V307.8M424.2 305.7h2M424.2 307.8h2M427.8 305.2V306.8M426.8 305.2h2M426.8 306.8h2M429.1 304.2V309.6M428.1 304.2h2M428.1 309.6h2M430.4 304.8V308.0M429.4 304.8h2M429.4 308.0h2M431.7 305.1V306.2M430.7 305.1h2M430.7 306.2h2M433.0 305.1V307.3M432.0 305.1h2M432.0 307.3h2M434.3 306.0V309.4M433.3 306.0h2M433.3 309.4h2M436.9 307.2V309.6M435.9 307.2h2M435.9 309.6h2M438.2 303.6V305.9M437.2 303.6h2M437.2 305.9h2M439.6 304.4V307.9M438.6 304.4h2M438.6 307.9h2M442.2 305.9V308.0M441.2 305.9h2M441.2 308.0h2M443.5 305.8V307.2M442.5 305.8h2M442.5 307.2h2M444.8 305.3V306.7M443.8 305.3h2M443.8 306.7h2M446.1 304.4V306.8M445.1 304.4h2M445.1 306.8h2M447.4 306.8V310.7M446.4 306.8h2M446.4 310.7h2M448.7 304.7V307.4M447.7 304.7h2M447.7 307.4h2M450.0 305.9V308.9M449.0 305.9h2M449.0 308.9h2M451.3 307.5V309.4M450.3 307.5h2M450.3 309.4h2M452.6 305.9V309.1M451.6 305.9h2M451.6 309.1h2M453.9 306.5V311.5M452.9 306.5h2M452.9 311.5h2M455.2 308.3V309.9M454.2 308.3h2M454.2 309.9h2M457.9 307.4V311.0M456.9 307.4h2M456.9 311.0h2M459.2 306.8V311.4M458.2 306.8h2M458.2 311.4h2M460.5 308.3V309.8M459.5 308.3h2M459.5 309.8h2M463.1 308.9V310.9M462.1 308.9h2M462.1 310.9h2M464.4 308.3V309.5M463.4 308.3h2M463.4 309.5h2M465.7 307.5V309.3M464.7 307.5h2M464.7 309.3h2M467.0 308.8V311.5M466.0 308.8h2M466.0 311.5h2M468.3 307.8V309.2M467.3 307.8h2M467.3 309.2h2M470.9 308.9V313.8M469.9 308.9h2M469.9 313.8h2M472.2 306.9V311.4M471.2 306.9h2M471.2 311.4h2M474.8 307.0V311.4M473.8 307.0h2M473.8 311.4h2M476.1 306.5V311.2M475.1 306.5h2M475.1 311.2h2M477.5 309.3V311.9M476.5 309.3h2M476.5 311.9h2M481.4 309.3V312.9M480.4 309.3h2M480.4 312.9h2M482.7 309.9V311.9M481.7 309.9h2M481.7 311.9h2M484.0 309.3V311.7M483.0 309.3h2M483.0 311.7h2M485.3 310.5V311.8M484.3 310.5h2M484.3 311.8h2M486.6 310.3V311.6M485.6 310.3h2M485.6 311.6h2M487.9 310.1V311.3M486.9 310.1h2M486.9 311.3h2M489.2 312.2V315.4M488.2 312.2h2M488.2 315.4h2M490.5 306.9V311.2M489.5 306.9h2M489.5 311.2h2M491.8 309.5V314.6M490.8 309.5h2M490.8 314.6h2M493.1 311.2V313.3M492.1 311.2h2M492.1 313.3h2M494.4 308.8V311.8M493.4 308.8h2M493.4 311.8h2M495.8 308.2V313.7M494.8 308.2h2M494.8 313.7h2M497.1 310.9V313.9M496.1 310.9h2M496.1 313.9h2M499.7 310.5V313.6M498.7 310.5h2M498.7 313.6h2M501.0 310.5V312.2M500.0 310.5h2M500.0 312.2h2M503.6 311.5V312.7M502.6 311.5h2M502.6 312.7h2M504.9 309.7V312.0M503.9 309.7h2M503.9 312.0h2M506.2 311.0V312.3M505.2 311.0h2M505.2 312.3h2M507.5 311.0V312.7M506.5 311.0h2M506.5 312.7h2M508.8 310.3V311.9M507.8 310.3h2M507.8 311.9h2M512.7 310.0V315.7M511.7 310.0h2M511.7 315.7h2M514.1 308.2V312.9M513.1 308.2h2M513.1 312.9h2M515.4 309.1V316.5M514.4 309.1h2M514.4 316.5h2M516.7 311.4V313.3M515.7 311.4h2M515.7 313.3h2M518.0 312.0V313.5M517.0 312.0h2M517.0 313.5h2M519.3 311.3V313.6M518.3 311.3h2M518.3 313.6h2M520.6 310.1V315.2M519.6 310.1h2M519.6 315.2h2M521.9 311.4V314.7M520.9 311.4h2M520.9 314.7h2M523.2 310.5V315.7M522.2 310.5h2M522.2 315.7h2M524.5 312.7V315.7M523.5 312.7h2M523.5 315.7h2M525.8 312.9V316.0M524.8 312.9h2M524.8 316.0h2M527.1 311.3V313.5M526.1 311.3h2M526.1 313.5h2" stroke="#f50c47" stroke-width="0.6" fill="none"/>
<path d="M399.0 266.9 L400.3 264.0 L401.7 266.1 L403.0 267.3 L404.3 267.2 L405.6 265.8 L406.9 265.3 L408.2 267.3 L409.5 265.2 L410.8 266.4 L412.1 300.6 L413.4 307.5 L414.7 307.1 L416.0 308.4 L417.3 307.9 L418.6 307.2 L419.9 308.7 L421.3 306.9 L422.6 306.5 L423.9 305.9 L425.2 306.7 L426.5 306.8 L427.8 306.0 L429.1 306.9 L430.4 306.4 L431.7 305.7 L433.0 306.2 L434.3 307.7 L435.6 306.8 L436.9 308.4 L438.2 304.8 L439.6 306.2 L440.9 305.1 L442.2 307.0 L443.5 306.5 L444.8 306.0 L446.1 305.6 L447.4 308.8 L448.7 306.0 L450.0 307.4 L451.3 308.5 L452.6 307.5 L453.9 309.0 L455.2 309.1 L456.5 309.9 L457.9 309.2 L459.2 309.1 L460.5 309.0 L461.8 310.4 L463.1 309.9 L464.4 308.9 L465.7 308.4 L467.0 310.2 L468.3 308.5 L469.6 310.1 L470.9 311.4 L472.2 309.2 L473.5 310.9 L474.8 309.2 L476.1 308.9 L477.5 310.6 L478.8 310.7 L480.1 308.4 L481.4 311.1 L482.7 310.9 L484.0 310.5 L485.3 311.1 L486.6 311.0 L487.9 310.7 L489.2 313.8 L490.5 309.0 L491.8 312.0 L493.1 312.2 L494.4 310.3 L495.8 311.0 L497.1 312.4 L498.4 310.8 L499.7 312.1 L501.0 311.3 L502.3 312.5 L503.6 312.1 L504.9 310.9 L506.2 311.7 L507.5 311.8 L508.8 311.1 L510.1 312.7 L511.4 313.5 L512.7 312.9 L514.1 310.6 L515.4 312.8 L516.7 312.3 L518.0 312.8 L519.3 312.5 L520.6 312.7 L521.9 313.1 L523.2 313.1 L524.5 314.2 L525.8 314.4 L527.1 312.4 L528.4 312.1" stroke="#f50c47" stroke-width="1.4" fill="none" stroke-linejoin="round"/>
<path d="M397.7 266.9h2.7M399.0 264.0h2.7M400.3 266.1h2.7M401.6 267.3h2.7M402.9 267.2h2.7M404.2 265.8h2.7M405.5 265.3h2.7M406.8 267.3h2.7M408.1 265.2h2.7M409.4 266.4h2.7M410.8 300.6h2.7M412.1 307.5h2.7M413.4 307.1h2.7M414.7 308.4h2.7M416.0 307.9h2.7M417.3 307.2h2.7M418.6 308.7h2.7M419.9 306.9h2.7M421.2 306.5h2.7M422.5 305.9h2.7M423.8 306.7h2.7M425.1 306.8h2.7M426.4 306.0h2.7M427.7 306.9h2.7M429.1 306.4h2.7M430.4 305.7h2.7M431.7 306.2h2.7M433.0 307.7h2.7M434.3 306.8h2.7M435.6 308.4h2.7M436.9 304.8h2.7M438.2 306.2h2.7M439.5 305.1h2.7M440.8 307.0h2.7M442.1 306.5h2.7M443.4 306.0h2.7M444.7 305.6h2.7M446.0 308.8h2.7M447.4 306.0h2.7M448.7 307.4h2.7M450.0 308.5h2.7M451.3 307.5h2.7M452.6 309.0h2.7M453.9 309.1h2.7M455.2 309.9h2.7M456.5 309.2h2.7M457.8 309.1h2.7M459.1 309.0h2.7M460.4 310.4h2.7M461.7 309.9h2.7M463.0 308.9h2.7M464.3 308.4h2.7M465.7 310.2h2.7M467.0 308.5h2.7M468.3 310.1h2.7M469.6 311.4h2.7M470.9 309.2h2.7M472.2 310.9h2.7M473.5 309.2h2.7M474.8 308.9h2.7M476.1 310.6h2.7M477.4 310.7h2.7M478.7 308.4h2.7M480.0 311.1h2.7M481.3 310.9h2.7M482.6 310.5h2.7M483.9 311.1h2.7M485.3 311.0h2.7M486.6 310.7h2.7M487.9 313.8h2.7M489.2 309.0h2.7M490.5 312.0h2.7M491.8 312.2h2.7M493.1 310.3h2.7M494.4 311.0h2.7M495.7 312.4h2.7M497.0 310.8h2.7M498.3 312.1h2.7M499.6 311.3h2.7M500.9 312.5h2.7M502.2 312.1h2.7M503.6 310.9h2.7M504.9 311.7h2.7M506.2 311.8h2.7M507.5 311.1h2.7M508.8 312.7h2.7M510.1 313.5h2.7M511.4 312.9h2.7M512.7 310.6h2.7M514.0 312.8h2.7M515.3 312.3h2.7M516.6 312.8h2.7M517.9 312.5h2.7M519.2 312.7h2.7M520.5 313.1h2.7M521.9 313.1h2.7M523.2 314.2h2.7M524.5 314.4h2.7M525.8 312.4h2.7M527.1 312.1h2.7" stroke="#f50c47" stroke-width="2.7" fill="none"/>
<path d="M399.0 263.8V265.9M398.0 263.8h2M398.0 265.9h2M401.7 261.4V267.8M400.7 261.4h2M400.7 267.8h2M404.3 259.1V264.5M403.3 259.1h2M403.3 264.5h2M405.6 263.7V265.1M404.6 263.7h2M404.6 265.1h2M406.9 262.2V266.9M405.9 262.2h2M405.9 266.9h2M409.5 261.0V266.4M408.5 261.0h2M408.5 266.4h2M410.8 265.0V266.4M409.8 265.0h2M409.8 266.4h2M412.1 278.1V280.2M411.1 278.1h2M411.1 280.2h2M414.7 285.4V286.6M413.7 285.4h2M413.7 286.6h2M416.0 287.4V289.4M415.0 287.4h2M415.0 289.4h2M417.3 289.0V292.7M416.3 289.0h2M416.3 292.7h2M418.6 288.5V291.0M417.6 288.5h2M417.6 291.0h2M419.9 285.5V290.9M418.9 285.5h2M418.9 290.9h2M421.3 286.6V289.9M420.3 286.6h2M420.3 289.9h2M422.6 289.5V292.9M421.6 289.5h2M421.6 292.9h2M423.9 289.3V291.4M422.9 289.3h2M422.9 291.4h2M425.2 288.2V289.8M424.2 288.2h2M424.2 289.8h2M426.5 288.8V291.8M425.5 288.8h2M425.5 291.8h2M427.8 288.0V292.0M426.8 288.0h2M426.8 292.0h2M430.4 289.9V293.7M429.4 289.9h2M429.4 293.7h2M431.7 288.6V292.0M430.7 288.6h2M430.7 292.0h2M433.0 286.2V294.2M432.0 286.2h2M432.0 294.2h2M434.3 290.4V294.2M433.3 290.4h2M433.3 294.2h2M435.6 289.2V291.6M434.6 289.2h2M434.6 291.6h2M436.9 285.8V292.1M435.9 285.8h2M435.9 292.1h2M438.2 289.0V291.4M437.2 289.0h2M437.2 291.4h2M439.6 287.6V290.3M438.6 287.6h2M438.6 290.3h2M440.9 289.1V291.7M439.9 289.1h2M439.9 291.7h2M442.2 287.2V288.8M441.2 287.2h2M441.2 288.8h2M443.5 289.0V291.4M442.5 289.0h2M442.5 291.4h2M444.8 285.0V288.7M443.8 285.0h2M443.8 288.7h2M446.1 289.3V290.5M445.1 289.3h2M445.1 290.5h2M447.4 288.2V291.5M446.4 288.2h2M446.4 291.5h2M448.7 289.2V291.3M447.7 289.2h2M447.7 291.3h2M451.3 288.0V292.2M450.3 288.0h2M450.3 292.2h2M453.9 289.6V292.7M452.9 289.6h2M452.9 292.7h2M456.5 287.8V292.7M455.5 287.8h2M455.5 292.7h2M457.9 290.9V292.1M456.9 290.9h2M456.9 292.1h2M459.2 289.1V290.5M458.2 289.1h2M458.2 290.5h2M460.5 290.3V294.0M459.5 290.3h2M459.5 294.0h2M461.8 291.0V292.7M460.8 291.0h2M460.8 292.7h2M463.1 291.2V293.9M462.1 291.2h2M462.1 293.9h2M464.4 289.7V291.4M463.4 289.7h2M463.4 291.4h2M465.7 291.1V295.2M464.7 291.1h2M464.7 295.2h2M467.0 292.3V293.9M466.0 292.3h2M466.0 293.9h2M468.3 289.9V291.4M467.3 289.9h2M467.3 291.4h2M469.6 289.0V290.3M468.6 289.0h2M468.6 290.3h2M470.9 288.8V292.1M469.9 288.8h2M469.9 292.1h2M473.5 290.6V292.5M472.5 290.6h2M472.5 292.5h2M474.8 288.3V291.8M473.8 288.3h2M473.8 291.8h2M476.1 290.4V292.0M475.1 290.4h2M475.1 292.0h2M477.5 290.5V295.9M476.5 290.5h2M476.5 295.9h2M478.8 289.9V293.4M477.8 289.9h2M477.8 293.4h2M480.1 291.4V293.8M479.1 291.4h2M479.1 293.8h2M481.4 289.9V293.8M480.4 289.9h2M480.4 293.8h2M482.7 286.6V289.5M481.7 286.6h2M481.7 289.5h2M484.0 287.5V291.8M483.0 287.5h2M483.0 291.8h2M486.6 292.1V293.2M485.6 292.1h2M485.6 293.2h2M489.2 291.0V292.3M488.2 291.0h2M488.2 292.3h2M490.5 288.7V292.7M489.5 288.7h2M489.5 292.7h2M491.8 290.7V294.3M490.8 290.7h2M490.8 294.3h2M493.1 290.9V292.9M492.1 290.9h2M492.1 292.9h2M494.4 291.2V292.4M493.4 291.2h2M493.4 292.4h2M495.8 291.1V295.8M494.8 291.1h2M494.8 295.8h2M498.4 292.9V294.8M497.4 292.9h2M497.4 294.8h2M499.7 293.0V294.4M498.7 293.0h2M498.7 294.4h2M501.0 290.6V296.1M500.0 290.6h2M500.0 296.1h2M503.6 291.7V296.3M502.6 291.7h2M502.6 296.3h2M504.9 292.4V294.3M503.9 292.4h2M503.9 294.3h2M506.2 294.5V295.8M505.2 294.5h2M505.2 295.8h2M507.5 291.8V292.9M506.5 291.8h2M506.5 292.9h2M508.8 290.5V292.9M507.8 290.5h2M507.8 292.9h2M510.1 291.7V296.2M509.1 291.7h2M509.1 296.2h2M512.7 291.8V293.7M511.7 291.8h2M511.7 293.7h2M515.4 292.9V296.1M514.4 292.9h2M514.4 296.1h2M516.7 293.3V295.9M515.7 293.3h2M515.7 295.9h2M518.0 295.3V296.5M517.0 295.3h2M517.0 296.5h2M519.3 294.6V298.6M518.3 294.6h2M518.3 298.6h2M524.5 295.0V296.0M523.5 295.0h2M523.5 296.0h2M525.8 293.6V296.8M524.8 293.6h2M524.8 296.8h2M527.1 295.4V296.6M526.1 295.4h2M526.1 296.6h2M528.4 295.0V297.9M527.4 295.0h2M527.4 297.9h2" stroke="#27c027" stroke-width="0.6" fill="none"/>
<path d="M399.0 264.8 L400.3 264.6 L401.7 264.6 L403.0 264.4 L404.3 261.8 L405.6 264.4 L406.9 264.6 L408.2 266.0 L409.5 263.7 L410.8 265.7 L412.1 279.2 L413.4 285.5 L414.7 286.0 L416.0 288.4 L417.3 290.9 L418.6 289.8 L419.9 288.2 L421.3 288.3 L422.6 291.2 L423.9 290.3 L425.2 289.0 L426.5 290.3 L427.8 290.0 L429.1 290.3 L430.4 291.8 L431.7 290.3 L433.0 290.2 L434.3 292.3 L435.6 290.4 L436.9 289.0 L438.2 290.2 L439.6 289.0 L440.9 290.4 L442.2 288.0 L443.5 290.2 L444.8 286.8 L446.1 289.9 L447.4 289.9 L448.7 290.2 L450.0 289.7 L451.3 290.1 L452.6 290.5 L453.9 291.2 L455.2 290.5 L456.5 290.2 L457.9 291.5 L459.2 289.8 L460.5 292.1 L461.8 291.8 L463.1 292.6 L464.4 290.5 L465.7 293.1 L467.0 293.1 L468.3 290.6 L469.6 289.7 L470.9 290.4 L472.2 293.3 L473.5 291.6 L474.8 290.1 L476.1 291.2 L477.5 293.2 L478.8 291.6 L480.1 292.6 L481.4 291.9 L482.7 288.1 L484.0 289.7 L485.3 292.3 L486.6 292.7 L487.9 290.6 L489.2 291.7 L490.5 290.7 L491.8 292.5 L493.1 291.9 L494.4 291.8 L495.8 293.5 L497.1 294.3 L498.4 293.8 L499.7 293.7 L501.0 293.4 L502.3 293.5 L503.6 294.0 L504.9 293.4 L506.2 295.2 L507.5 292.4 L508.8 291.7 L510.1 294.0 L511.4 293.9 L512.7 292.7 L514.1 293.7 L515.4 294.5 L516.7 294.6 L518.0 295.9 L519.3 296.6 L520.6 294.5 L521.9 293.8 L523.2 296.8 L524.5 295.5 L525.8 295.2 L527.1 296.0 L528.4 296.4" stroke="#27c027" stroke-width="1.4" fill="none" stroke-linejoin="round"/>
<path d="M397.7 264.8h2.7M399.0 264.6h2.7M400.3 264.6h2.7M401.6 264.4h2.7M402.9 261.8h2.7M404.2 264.4h2.7M405.5 264.6h2.7M406.8 266.0h2.7M408.1 263.7h2.7M409.4 265.7h2.7M410.8 279.2h2.7M412.1 285.5h2.7M413.4 286.0h2.7M414.7 288.4h2.7M416.0 290.9h2.7M417.3 289.8h2.7M418.6 288.2h2.7M419.9 288.3h2.7M421.2 291.2h2.7M422.5 290.3h2.7M423.8 289.0h2.7M425.1 290.3h2.7M426.4 290.0h2.7M427.7 290.3h2.7M429.1 291.8h2.7M430.4 290.3h2.7M431.7 290.2h2.7M433.0 292.3h2.7M434.3 290.4h2.7M435.6 289.0h2.7M436.9 290.2h2.7M438.2 289.0h2.7M439.5 290.4h2.7M440.8 288.0h2.7M442.1 290.2h2.7M443.4 286.8h2.7M444.7 289.9h2.7M446.0 289.9h2.7M447.4 290.2h2.7M448.7 289.7h2.7M450.0 290.1h2.7M451.3 290.5h2.7M452.6 291.2h2.7M453.9 290.5h2.7M455.2 290.2h2.7M456.5 291.5h2.7M457.8 289.8h2.7M459.1 292.1h2.7M460.4 291.8h2.7M461.7 292.6h2.7M463.0 290.5h2.7M464.3 293.1h2.7M465.7 293.1h2.7M467.0 290.6h2.7M468.3 289.7h2.7M469.6 290.4h2.7M470.9 293.3h2.7M472.2 291.6h2.7M473.5 290.1h2.7M474.8 291.2h2.7M476.1 293.2h2.7M477.4 291.6h2.7M478.7 292.6h2.7M480.0 291.9h2.7M481.3 288.1h2.7M482.6 289.7h2.7M483.9 292.3h2.7M485.3 292.7h2.7M486.6 290.6h2.7M487.9 291.7h2.7M489.2 290.7h2.7M490.5 292.5h2.7M491.8 291.9h2.7M493.1 291.8h2.7M494.4 293.5h2.7M495.7 294.3h2.7M497.0 293.8h2.7M498.3 293.7h2.7M499.6 293.4h2.7M500.9 293.5h2.7M502.2 294.0h2.7M503.6 293.4h2.7M504.9 295.2h2.7M506.2 292.4h2.7M507.5 291.7h2.7M508.8 294.0h2.7M510.1 293.9h2.7M511.4 292.7h2.7M512.7 293.7h2.7M514.0 294.5h2.7M515.3 294.6h2.7M516.6 295.9h2.7M517.9 296.6h2.7M519.2 294.5h2.7M520.5 293.8h2.7M521.9 296.8h2.7M523.2 295.5h2.7M524.5 295.2h2.7M525.8 296.0h2.7M527.1 296.4h2.7" stroke="#27c027" stroke-width="2.7" fill="none"/>
<path d="M399.0 261.6V263.7M398.0 261.6h2M398.0 263.7h2M400.3 261.8V264.5M399.3 261.8h2M399.3 264.5h2M401.7 263.1V265.0M400.7 263.1h2M400.7 265.0h2M403.0 262.2V266.9M402.0 262.2h2M402.0 266.9h2M406.9 261.4V264.4M405.9 261.4h2M405.9 264.4h2M408.2 264.1V265.9M407.2 264.1h2M407.2 265.9h2M409.5 265.1V268.9M408.5 265.1h2M408.5 268.9h2M412.1 269.1V276.2M411.1 269.1h2M411.1 276.2h2M413.4 267.9V271.5M412.4 267.9h2M412.4 271.5h2M414.7 268.5V272.3M413.7 268.5h2M413.7 272.3h2M416.0 268.7V270.0M415.0 268.7h2M415.0 270.0h2M418.6 272.2V273.9M417.6 272.2h2M417.6 273.9h2M421.3 270.5V273.3M420.3 270.5h2M420.3 273.3h2M422.6 270.9V274.3M421.6 270.9h2M421.6 274.3h2M425.2 272.8V275.2M424.2 272.8h2M424.2 275.2h2M426.5 274.5V276.1M425.5 274.5h2M425.5 276.1h2M427.8 272.8V278.3M426.8 272.8h2M426.8 278.3h2M429.1 273.1V279.0M428.1 273.1h2M428.1 279.0h2M430.4 274.8V276.3M429.4 274.8h2M429.4 276.3h2M431.7 272.9V277.6M430.7 272.9h2M430.7 277.6h2M433.0 273.6V276.7M432.0 273.6h2M432.0 276.7h2M434.3 272.6V278.1M433.3 272.6h2M433.3 278.1h2M435.6 274.0V276.1M434.6 274.0h2M434.6 276.1h2M436.9 271.9V275.9M435.9 271.9h2M435.9 275.9h2M438.2 272.6V275.3M437.2 272.6h2M437.2 275.3h2M439.6 270.8V274.7M438.6 270.8h2M438.6 274.7h2M442.2 272.3V274.8M441.2 272.3h2M441.2 274.8h2M444.8 272.9V274.2M443.8 272.9h2M443.8 274.2h2M446.1 271.8V274.4M445.1 271.8h2M445.1 274.4h2M447.4 275.2V276.9M446.4 275.2h2M446.4 276.9h2M450.0 275.7V276.7M449.0 275.7h2M449.0 276.7h2M451.3 275.1V277.3M450.3 275.1h2M450.3 277.3h2M452.6 274.3V277.4M451.6 274.3h2M451.6 277.4h2M453.9 274.7V279.4M452.9 274.7h2M452.9 279.4h2M455.2 274.7V276.9M454.2 274.7h2M454.2 276.9h2M456.5 276.6V279.5M455.5 276.6h2M455.5 279.5h2M459.2 276.7V278.2M458.2 276.7h2M458.2 278.2h2M460.5 275.8V279.5M459.5 275.8h2M459.5 279.5h2M461.8 273.1V277.6M460.8 273.1h2M460.8 277.6h2M463.1 274.2V277.9M462.1 274.2h2M462.1 277.9h2M464.4 274.8V275.8M463.4 274.8h2M463.4 275.8h2M465.7 274.5V277.3M464.7 274.5h2M464.7 277.3h2M467.0 273.9V275.5M466.0 273.9h2M466.0 275.5h2M468.3 273.5V275.8M467.3 273.5h2M467.3 275.8h2M469.6 275.1V276.3M468.6 275.1h2M468.6 276.3h2M470.9 275.6V280.2M469.9 275.6h2M469.9 280.2h2M472.2 272.9V277.7M471.2 272.9h2M471.2 277.7h2M476.1 274.6V279.2M475.1 274.6h2M475.1 279.2h2M477.5 274.3V279.5M476.5 274.3h2M476.5 279.5h2M478.8 275.8V277.6M477.8 275.8h2M477.8 277.6h2M480.1 276.5V278.9M479.1 276.5h2M479.1 278.9h2M481.4 273.4V279.9M480.4 273.4h2M480.4 279.9h2M482.7 273.9V277.8M481.7 273.9h2M481.7 277.8h2M484.0 274.1V279.8M483.0 274.1h2M483.0 279.8h2M485.3 277.0V278.3M484.3 277.0h2M484.3 278.3h2M486.6 271.7V277.2M485.6 271.7h2M485.6 277.2h2M487.9 275.0V276.7M486.9 275.0h2M486.9 276.7h2M489.2 276.5V277.7M488.2 276.5h2M488.2 277.7h2M490.5 273.9V280.6M489.5 273.9h2M489.5 280.6h2M491.8 277.4V281.3M490.8 277.4h2M490.8 281.3h2M493.1 276.3V279.7M492.1 276.3h2M492.1 279.7h2M494.4 276.6V277.6M493.4 276.6h2M493.4 277.6h2M495.8 273.3V276.5M494.8 273.3h2M494.8 276.5h2M498.4 275.1V279.6M497.4 275.1h2M497.4 279.6h2M499.7 272.3V276.9M498.7 272.3h2M498.7 276.9h2M502.3 273.8V278.0M501.3 273.8h2M501.3 278.0h2M503.6 273.6V276.6M502.6 273.6h2M502.6 276.6h2M504.9 275.8V277.2M503.9 275.8h2M503.9 277.2h2M506.2 275.9V277.2M505.2 275.9h2M505.2 277.2h2M507.5 273.4V278.0M506.5 273.4h2M506.5 278.0h2M510.1 276.4V279.7M509.1 276.4h2M509.1 279.7h2M511.4 274.0V275.6M510.4 274.0h2M510.4 275.6h2M514.1 273.3V281.6M513.1 273.3h2M513.1 281.6h2M515.4 271.8V274.2M514.4 271.8h2M514.4 274.2h2M516.7 276.4V278.5M515.7 276.4h2M515.7 278.5h2M518.0 275.9V277.3M517.0 275.9h2M517.0 277.3h2M519.3 277.9V279.2M518.3 277.9h2M518.3 279.2h2M520.6 277.2V278.4M519.6 277.2h2M519.6 278.4h2M521.9 277.5V279.5M520.9 277.5h2M520.9 279.5h2M523.2 277.1V279.2M522.2 277.1h2M522.2 279.2h2M524.5 274.4V279.7M523.5 274.4h2M523.5 279.7h2M525.8 273.7V278.5M524.8 273.7h2M524.8 278.5h2M527.1 275.2V278.3M526.1 275.2h2M526.1 278.3h2" stroke="#9a2ad8" stroke-width="0.6" fill="none"/>
<path d="M399.0 262.7 L400.3 263.2 L401.7 264.1 L403.0 264.5 L404.3 264.7 L405.6 265.5 L406.9 262.9 L408.2 265.0 L409.5 267.0 L410.8 266.0 L412.1 272.7 L413.4 269.7 L414.7 270.4 L416.0 269.4 L417.3 269.1 L418.6 273.1 L419.9 272.2 L421.3 271.9 L422.6 272.6 L423.9 274.9 L425.2 274.0 L426.5 275.3 L427.8 275.5 L429.1 276.0 L430.4 275.6 L431.7 275.3 L433.0 275.2 L434.3 275.4 L435.6 275.1 L436.9 273.9 L438.2 273.9 L439.6 272.8 L440.9 273.2 L442.2 273.5 L443.5 275.4 L444.8 273.5 L446.1 273.1 L447.4 276.0 L448.7 276.2 L450.0 276.2 L451.3 276.2 L452.6 275.8 L453.9 277.1 L455.2 275.8 L456.5 278.1 L457.9 277.2 L459.2 277.4 L460.5 277.6 L461.8 275.3 L463.1 276.1 L464.4 275.3 L465.7 275.9 L467.0 274.7 L468.3 274.7 L469.6 275.7 L470.9 277.9 L472.2 275.3 L473.5 275.8 L474.8 276.4 L476.1 276.9 L477.5 276.9 L478.8 276.7 L480.1 277.7 L481.4 276.6 L482.7 275.9 L484.0 277.0 L485.3 277.7 L486.6 274.4 L487.9 275.8 L489.2 277.1 L490.5 277.2 L491.8 279.4 L493.1 278.0 L494.4 277.1 L495.8 274.9 L497.1 278.9 L498.4 277.3 L499.7 274.6 L501.0 275.7 L502.3 275.9 L503.6 275.1 L504.9 276.5 L506.2 276.5 L507.5 275.7 L508.8 275.7 L510.1 278.1 L511.4 274.8 L512.7 278.4 L514.1 277.4 L515.4 273.0 L516.7 277.5 L518.0 276.6 L519.3 278.5 L520.6 277.8 L521.9 278.5 L523.2 278.2 L524.5 277.0 L525.8 276.1 L527.1 276.8 L528.4 275.8" stroke="#9a2ad8" stroke-width="1.4" fill="none" stroke-linejoin="round"/>
<path d="M397.7 262.7h2.7M399.0 263.2h2.7M400.3 264.1h2.7M401.6 264.5h2.7M402.9 264.7h2.7M404.2 265.5h2.7M405.5 262.9h2.7M406.8 265.0h2.7M408.1 267.0h2.7M409.4 266.0h2.7M410.8 272.7h2.7M412.1 269.7h2.7M413.4 270.4h2.7M414.7 269.4h2.7M416.0 269.1h2.7M417.3 273.1h2.7M418.6 272.2h2.7M419.9 271.9h2.7M421.2 272.6h2.7M422.5 274.9h2.7M423.8 274.0h2.7M425.1 275.3h2.7M426.4 275.5h2.7M427.7 276.0h2.7M429.1 275.6h2.7M430.4 275.3h2.7M431.7 275.2h2.7M433.0 275.4h2.7M434.3 275.1h2.7M435.6 273.9h2.7M436.9 273.9h2.7M438.2 272.8h2.7M439.5 273.2h2.7M440.8 273.5h2.7M442.1 275.4h2.7M443.4 273.5h2.7M444.7 273.1h2.7M446.0 276.0h2.7M447.4 276.2h2.7M448.7 276.2h2.7M450.0 276.2h2.7M451.3 275.8h2.7M452.6 277.1h2.7M453.9 275.8h2.7M455.2 278.1h2.7M456.5 277.2h2.7M457.8 277.4h2.7M459.1 277.6h2.7M460.4 275.3h2.7M461.7 276.1h2.7M463.0 275.3h2.7M464.3 275.9h2.7M465.7 274.7h2.7M467.0 274.7h2.7M468.3 275.7h2.7M469.6 277.9h2.7M470.9 275.3h2.7M472.2 275.8h2.7M473.5 276.4h2.7M474.8 276.9h2.7M476.1 276.9h2.7M477.4 276.7h2.7M478.7 277.7h2.7M480.0 276.6h2.7M481.3 275.9h2.7M482.6 277.0h2.7M483.9 277.7h2.7M485.3 274.4h2.7M486.6 275.8h2.7M487.9 277.1h2.7M489.2 277.2h2.7M490.5 279.4h2.7M491.8 278.0h2.7M493.1 277.1h2.7M494.4 274.9h2.7M495.7 278.9h2.7M497.0 277.3h2.7M498.3 274.6h2.7M499.6 275.7h2.7M500.9 275.9h2.7M502.2 275.1h2.7M503.6 276.5h2.7M504.9 276.5h2.7M506.2 275.7h2.7M507.5 275.7h2.7M508.8 278.1h2.7M510.1 274.8h2.7M511.4 278.4h2.7M512.7 277.4h2.7M514.0 273.0h2.7M515.3 277.5h2.7M516.6 276.6h2.7M517.9 278.5h2.7M519.2 277.8h2.7M520.5 278.5h2.7M521.9 278.2h2.7M523.2 277.0h2.7M524.5 276.1h2.7M525.8 276.8h2.7M527.1 275.8h2.7" stroke="#9a2ad8" stroke-width="2.7" fill="none"/>
<line x1="399.20" y1="251.50" x2="399.20" y2="355.00" stroke="#000" stroke-width="2.0" />
<line x1="398.20" y1="354.00" x2="529.50" y2="354.00" stroke="#000" stroke-width="2.0" />
<line x1="394.70" y1="252.03" x2="399.20" y2="252.03" stroke="#000" stroke-width="1.5" />
<text x="392.90" y="255.73" font-size="10.8" fill="#000" text-anchor="end" >5</text>
<line x1="394.70" y1="266.60" x2="399.20" y2="266.60" stroke="#000" stroke-width="1.5" />
<text x="392.90" y="270.30" font-size="10.8" fill="#000" text-anchor="end" >0</text>
<line x1="394.70" y1="281.18" x2="399.20" y2="281.18" stroke="#000" stroke-width="1.5" />
<text x="392.90" y="284.88" font-size="10.8" fill="#000" text-anchor="end" >-5</text>
<line x1="394.70" y1="295.75" x2="399.20" y2="295.75" stroke="#000" stroke-width="1.5" />
<text x="392.90" y="299.45" font-size="10.8" fill="#000" text-anchor="end" >-10</text>
<line x1="394.70" y1="310.33" x2="399.20" y2="310.33" stroke="#000" stroke-width="1.5" />
<text x="392.90" y="314.03" font-size="10.8" fill="#000" text-anchor="end" >-15</text>
<line x1="394.70" y1="324.90" x2="399.20" y2="324.90" stroke="#000" stroke-width="1.5" />
<text x="392.90" y="328.60" font-size="10.8" fill="#000" text-anchor="end" >-20</text>
<line x1="394.70" y1="339.48" x2="399.20" y2="339.48" stroke="#000" stroke-width="1.5" />
<text x="392.90" y="343.18" font-size="10.8" fill="#000" text-anchor="end" >-25</text>
<line x1="394.70" y1="354.05" x2="399.20" y2="354.05" stroke="#000" stroke-width="1.5" />
<text x="392.90" y="357.75" font-size="10.8" fill="#000" text-anchor="end" >-30</text>
<line x1="410.80" y1="354.00" x2="410.80" y2="358.50" stroke="#000" stroke-width="1.5" />
<text x="410.80" y="371.60" font-size="10.8" fill="#000" text-anchor="middle" >0</text>
<line x1="450.01" y1="354.00" x2="450.01" y2="358.50" stroke="#000" stroke-width="1.5" />
<text x="450.01" y="371.60" font-size="10.8" fill="#000" text-anchor="middle" >3</text>
<line x1="489.22" y1="354.00" x2="489.22" y2="358.50" stroke="#000" stroke-width="1.5" />
<text x="489.22" y="371.60" font-size="10.8" fill="#000" text-anchor="middle" >6</text>
<line x1="528.43" y1="354.00" x2="528.43" y2="358.50" stroke="#000" stroke-width="1.5" />
<text x="528.43" y="371.60" font-size="10.8" fill="#000" text-anchor="middle" >9</text>
<text x="463.40" y="389.00" font-size="12.7" fill="#000" text-anchor="middle" >Time (min)</text>
<text transform="translate(371.10,301.00) rotate(-90)" x="0" y="0" font-size="12.8" text-anchor="middle">&#916;BRET (%)</text>
<rect x="586.30" y="59.65" width="10.2" height="87.55" fill="#a0a0a3" stroke="#000" stroke-width="0.9"/>
<line x1="591.40" y1="57.46" x2="591.40" y2="61.84" stroke="#222" stroke-width="0.8" />
<line x1="589.10" y1="57.46" x2="593.70" y2="57.46" stroke="#000" stroke-width="0.9" />
<line x1="589.10" y1="61.84" x2="593.70" y2="61.84" stroke="#333" stroke-width="0.8" />
<circle cx="587.60" cy="62.25" r="1.55" fill="#000"/>
<circle cx="591.40" cy="55.27" r="1.55" fill="#000"/>
<circle cx="595.20" cy="60.06" r="1.55" fill="#000"/>
<rect x="602.80" y="135.02" width="10.2" height="12.18" fill="#6ec2f2" stroke="#000" stroke-width="0.9"/>
<line x1="607.90" y1="131.47" x2="607.90" y2="138.58" stroke="#222" stroke-width="0.8" />
<line x1="605.60" y1="131.47" x2="610.20" y2="131.47" stroke="#000" stroke-width="0.9" />
<line x1="605.60" y1="138.58" x2="610.20" y2="138.58" stroke="#333" stroke-width="0.8" />
<circle cx="603.90" cy="138.44" r="1.55" fill="#000"/>
<circle cx="607.90" cy="127.50" r="1.55" fill="#000"/>
<circle cx="611.90" cy="138.44" r="1.55" fill="#000"/>
<rect x="618.90" y="114.09" width="10.2" height="33.11" fill="#f9a13f" stroke="#000" stroke-width="0.9"/>
<line x1="624.00" y1="106.57" x2="624.00" y2="121.62" stroke="#222" stroke-width="0.8" />
<line x1="621.70" y1="106.57" x2="626.30" y2="106.57" stroke="#000" stroke-width="0.9" />
<line x1="621.70" y1="121.62" x2="626.30" y2="121.62" stroke="#333" stroke-width="0.8" />
<circle cx="620.00" cy="121.34" r="1.55" fill="#000"/>
<circle cx="624.00" cy="99.05" r="1.55" fill="#000"/>
<circle cx="628.00" cy="121.21" r="1.55" fill="#000"/>
<rect x="635.20" y="123.12" width="10.2" height="24.08" fill="#f2496f" stroke="#000" stroke-width="0.9"/>
<line x1="640.30" y1="120.25" x2="640.30" y2="126.00" stroke="#222" stroke-width="0.8" />
<line x1="638.00" y1="120.25" x2="642.60" y2="120.25" stroke="#000" stroke-width="0.9" />
<line x1="638.00" y1="126.00" x2="642.60" y2="126.00" stroke="#333" stroke-width="0.8" />
<circle cx="636.30" cy="124.49" r="1.55" fill="#000"/>
<circle cx="640.30" cy="117.65" r="1.55" fill="#000"/>
<circle cx="644.30" cy="123.94" r="1.55" fill="#000"/>
<rect x="651.30" y="100.28" width="10.2" height="46.92" fill="#5dcf5d" stroke="#000" stroke-width="0.9"/>
<line x1="656.40" y1="97.82" x2="656.40" y2="102.74" stroke="#222" stroke-width="0.8" />
<line x1="654.10" y1="97.82" x2="658.70" y2="97.82" stroke="#000" stroke-width="0.9" />
<line x1="654.10" y1="102.74" x2="658.70" y2="102.74" stroke="#333" stroke-width="0.8" />
<circle cx="652.60" cy="96.04" r="1.55" fill="#000"/>
<circle cx="656.60" cy="103.97" r="1.55" fill="#000"/>
<circle cx="660.40" cy="99.05" r="1.55" fill="#000"/>
<rect x="667.50" y="112.45" width="10.2" height="34.75" fill="#b15de0" stroke="#000" stroke-width="0.9"/>
<line x1="672.60" y1="111.36" x2="672.60" y2="113.55" stroke="#222" stroke-width="0.8" />
<line x1="670.30" y1="111.36" x2="674.90" y2="111.36" stroke="#000" stroke-width="0.9" />
<line x1="670.30" y1="113.55" x2="674.90" y2="113.55" stroke="#333" stroke-width="0.8" />
<circle cx="668.80" cy="110.40" r="1.55" fill="#000"/>
<circle cx="668.80" cy="114.92" r="1.55" fill="#000"/>
<circle cx="676.60" cy="113.55" r="1.55" fill="#000"/>
<line x1="581.00" y1="44.20" x2="581.00" y2="148.20" stroke="#000" stroke-width="2.0" />
<line x1="580.00" y1="147.20" x2="685.00" y2="147.20" stroke="#000" stroke-width="2.0" />
<line x1="576.50" y1="147.20" x2="581.00" y2="147.20" stroke="#000" stroke-width="1.5" />
<text x="574.70" y="150.90" font-size="10.8" fill="#000" text-anchor="end" >0</text>
<line x1="576.50" y1="113.00" x2="581.00" y2="113.00" stroke="#000" stroke-width="1.5" />
<text x="574.70" y="116.70" font-size="10.8" fill="#000" text-anchor="end" >25</text>
<line x1="576.50" y1="78.80" x2="581.00" y2="78.80" stroke="#000" stroke-width="1.5" />
<text x="574.70" y="82.50" font-size="10.8" fill="#000" text-anchor="end" >50</text>
<line x1="576.50" y1="44.60" x2="581.00" y2="44.60" stroke="#000" stroke-width="1.5" />
<text x="574.70" y="48.30" font-size="10.8" fill="#000" text-anchor="end" >75</text>
<line x1="591.10" y1="147.20" x2="591.10" y2="152.20" stroke="#000" stroke-width="1.5" />
<text transform="translate(595.10,162.80) rotate(-45)" x="0" y="0" font-size="11.4" text-anchor="end">WT</text>
<line x1="607.60" y1="147.20" x2="607.60" y2="152.20" stroke="#000" stroke-width="1.5" />
<text transform="translate(611.60,162.80) rotate(-45)" x="0" y="0" font-size="11.4" text-anchor="end">S99I</text>
<line x1="623.70" y1="147.20" x2="623.70" y2="152.20" stroke="#000" stroke-width="1.5" />
<text transform="translate(627.70,162.80) rotate(-45)" x="0" y="0" font-size="11.4" text-anchor="end">W139C</text>
<line x1="640.00" y1="147.20" x2="640.00" y2="152.20" stroke="#000" stroke-width="1.5" />
<text transform="translate(644.00,162.80) rotate(-45)" x="0" y="0" font-size="11.4" text-anchor="end">T3049V</text>
<line x1="656.10" y1="147.20" x2="656.10" y2="152.20" stroke="#000" stroke-width="1.5" />
<text transform="translate(660.10,162.80) rotate(-45)" x="0" y="0" font-size="11.4" text-anchor="end">L4132&#916;</text>
<line x1="672.30" y1="147.20" x2="672.30" y2="152.20" stroke="#000" stroke-width="1.5" />
<text transform="translate(676.30,162.80) rotate(-45)" x="0" y="0" font-size="11.4" text-anchor="end">S4213X</text>
<path d="M591.10 22.70V17.70H672.30V22.70M591.10 30.30V25.30H656.10V30.30M591.10 37.30V32.30H640.00V37.30M591.10 44.60V39.60H623.70V44.60M591.10 51.70V46.70H607.60V51.70" stroke="#000" stroke-width="1.1" fill="none"/>
<text x="632.00" y="13.10" font-size="8.4" fill="#000" text-anchor="middle" >&lt;0.0001</text>
<text transform="translate(556.50,94.00) rotate(-90)" x="0" y="0" font-size="12.6" text-anchor="middle">AUC</text>
<rect x="224.70" y="273.61" width="10.2" height="80.19" fill="#a0a0a3" stroke="#000" stroke-width="0.9"/>
<line x1="229.80" y1="272.31" x2="229.80" y2="274.91" stroke="#222" stroke-width="0.8" />
<line x1="227.50" y1="272.31" x2="232.10" y2="272.31" stroke="#000" stroke-width="0.9" />
<line x1="227.50" y1="274.91" x2="232.10" y2="274.91" stroke="#333" stroke-width="0.8" />
<circle cx="226.00" cy="271.42" r="1.55" fill="#000"/>
<circle cx="229.80" cy="276.69" r="1.55" fill="#000"/>
<circle cx="233.80" cy="272.48" r="1.55" fill="#000"/>
<rect x="241.10" y="350.88" width="10.2" height="2.92" fill="#6ec2f2" stroke="#000" stroke-width="0.9"/>
<line x1="246.20" y1="350.64" x2="246.20" y2="351.13" stroke="#222" stroke-width="0.8" />
<line x1="243.90" y1="350.64" x2="248.50" y2="350.64" stroke="#000" stroke-width="0.9" />
<line x1="243.90" y1="351.13" x2="248.50" y2="351.13" stroke="#333" stroke-width="0.8" />
<circle cx="242.20" cy="350.16" r="1.55" fill="#000"/>
<circle cx="246.20" cy="349.83" r="1.55" fill="#000"/>
<circle cx="250.20" cy="350.16" r="1.55" fill="#000"/>
<rect x="257.00" y="339.79" width="10.2" height="14.01" fill="#f9a13f" stroke="#000" stroke-width="0.9"/>
<line x1="262.10" y1="337.92" x2="262.10" y2="341.65" stroke="#222" stroke-width="0.8" />
<line x1="259.80" y1="337.92" x2="264.40" y2="337.92" stroke="#000" stroke-width="0.9" />
<line x1="259.80" y1="341.65" x2="264.40" y2="341.65" stroke="#333" stroke-width="0.8" />
<circle cx="258.10" cy="340.27" r="1.55" fill="#000"/>
<circle cx="262.10" cy="335.41" r="1.55" fill="#000"/>
<circle cx="266.10" cy="340.27" r="1.55" fill="#000"/>
<rect x="273.10" y="315.73" width="10.2" height="38.07" fill="#f2496f" stroke="#000" stroke-width="0.9"/>
<line x1="278.20" y1="314.76" x2="278.20" y2="316.70" stroke="#222" stroke-width="0.8" />
<line x1="275.90" y1="314.76" x2="280.50" y2="314.76" stroke="#000" stroke-width="0.9" />
<line x1="275.90" y1="316.70" x2="280.50" y2="316.70" stroke="#333" stroke-width="0.8" />
<circle cx="274.60" cy="313.62" r="1.55" fill="#000"/>
<circle cx="274.60" cy="318.00" r="1.55" fill="#000"/>
<circle cx="282.20" cy="315.97" r="1.55" fill="#000"/>
<rect x="289.60" y="341.41" width="10.2" height="12.39" fill="#5dcf5d" stroke="#000" stroke-width="0.9"/>
<line x1="294.70" y1="341.16" x2="294.70" y2="341.65" stroke="#222" stroke-width="0.8" />
<line x1="292.40" y1="341.16" x2="297.00" y2="341.16" stroke="#000" stroke-width="0.9" />
<line x1="292.40" y1="341.65" x2="297.00" y2="341.65" stroke="#333" stroke-width="0.8" />
<circle cx="290.90" cy="341.16" r="1.55" fill="#000"/>
<circle cx="295.00" cy="340.84" r="1.55" fill="#000"/>
<circle cx="298.70" cy="341.16" r="1.55" fill="#000"/>
<rect x="305.60" y="349.91" width="10.2" height="3.89" fill="#b15de0" stroke="#000" stroke-width="0.9"/>
<line x1="310.70" y1="348.78" x2="310.70" y2="351.05" stroke="#222" stroke-width="0.8" />
<line x1="308.40" y1="348.78" x2="313.00" y2="348.78" stroke="#000" stroke-width="0.9" />
<line x1="308.40" y1="351.05" x2="313.00" y2="351.05" stroke="#333" stroke-width="0.8" />
<circle cx="306.80" cy="347.81" r="1.55" fill="#000"/>
<circle cx="310.70" cy="351.53" r="1.55" fill="#000"/>
<circle cx="314.70" cy="348.37" r="1.55" fill="#000"/>
<line x1="219.50" y1="251.50" x2="219.50" y2="354.80" stroke="#000" stroke-width="2.0" />
<line x1="218.50" y1="353.80" x2="323.00" y2="353.80" stroke="#000" stroke-width="2.0" />
<line x1="215.00" y1="353.80" x2="219.50" y2="353.80" stroke="#000" stroke-width="1.5" />
<text x="213.20" y="357.50" font-size="10.8" fill="#000" text-anchor="end" >0</text>
<line x1="215.00" y1="333.55" x2="219.50" y2="333.55" stroke="#000" stroke-width="1.5" />
<text x="213.20" y="337.25" font-size="10.8" fill="#000" text-anchor="end" >25</text>
<line x1="215.00" y1="313.30" x2="219.50" y2="313.30" stroke="#000" stroke-width="1.5" />
<text x="213.20" y="317.00" font-size="10.8" fill="#000" text-anchor="end" >50</text>
<line x1="215.00" y1="293.05" x2="219.50" y2="293.05" stroke="#000" stroke-width="1.5" />
<text x="213.20" y="296.75" font-size="10.8" fill="#000" text-anchor="end" >75</text>
<line x1="215.00" y1="272.80" x2="219.50" y2="272.80" stroke="#000" stroke-width="1.5" />
<text x="213.20" y="276.50" font-size="10.8" fill="#000" text-anchor="end" >100</text>
<line x1="215.00" y1="252.55" x2="219.50" y2="252.55" stroke="#000" stroke-width="1.5" />
<text x="213.20" y="256.25" font-size="10.8" fill="#000" text-anchor="end" >125</text>
<line x1="229.50" y1="353.80" x2="229.50" y2="358.80" stroke="#000" stroke-width="1.5" />
<text transform="translate(233.50,368.00) rotate(-45)" x="0" y="0" font-size="11.4" text-anchor="end">WT</text>
<line x1="245.90" y1="353.80" x2="245.90" y2="358.80" stroke="#000" stroke-width="1.5" />
<text transform="translate(249.90,368.00) rotate(-45)" x="0" y="0" font-size="11.4" text-anchor="end">S99I</text>
<line x1="261.80" y1="353.80" x2="261.80" y2="358.80" stroke="#000" stroke-width="1.5" />
<text transform="translate(265.80,368.00) rotate(-45)" x="0" y="0" font-size="11.4" text-anchor="end">W139C</text>
<line x1="277.90" y1="353.80" x2="277.90" y2="358.80" stroke="#000" stroke-width="1.5" />
<text transform="translate(281.90,368.00) rotate(-45)" x="0" y="0" font-size="11.4" text-anchor="end">T3049V</text>
<line x1="294.40" y1="353.80" x2="294.40" y2="358.80" stroke="#000" stroke-width="1.5" />
<text transform="translate(298.40,368.00) rotate(-45)" x="0" y="0" font-size="11.4" text-anchor="end">L4132&#916;</text>
<line x1="310.40" y1="353.80" x2="310.40" y2="358.80" stroke="#000" stroke-width="1.5" />
<text transform="translate(314.40,368.00) rotate(-45)" x="0" y="0" font-size="11.4" text-anchor="end">S4213X</text>
<path d="M229.40 237.50V232.50H310.40V237.50M229.40 244.80V239.80H294.40V244.80M229.40 251.80V246.80H277.90V251.80M229.40 259.30V254.30H261.80V259.30M229.40 266.40V261.40H245.90V266.40" stroke="#000" stroke-width="1.1" fill="none"/>
<text x="269.70" y="227.70" font-size="8.4" fill="#000" text-anchor="middle" >&lt;0.0001</text>
<text transform="translate(188.30,300.00) rotate(-90)" x="0" y="0" font-size="12.6" text-anchor="middle">AUC</text>
<rect x="586.70" y="253.16" width="10.2" height="100.64" fill="#a0a0a3" stroke="#000" stroke-width="0.9"/>
<line x1="591.80" y1="252.75" x2="591.80" y2="253.57" stroke="#222" stroke-width="0.8" />
<line x1="589.50" y1="252.75" x2="594.10" y2="252.75" stroke="#000" stroke-width="0.9" />
<line x1="589.50" y1="253.57" x2="594.10" y2="253.57" stroke="#333" stroke-width="0.8" />
<circle cx="587.80" cy="252.75" r="1.55" fill="#000"/>
<circle cx="591.80" cy="252.34" r="1.55" fill="#000"/>
<circle cx="595.80" cy="252.75" r="1.55" fill="#000"/>
<rect x="602.60" y="347.75" width="10.2" height="6.05" fill="#6ec2f2" stroke="#000" stroke-width="0.9"/>
<line x1="607.70" y1="347.07" x2="607.70" y2="348.43" stroke="#222" stroke-width="0.8" />
<line x1="605.40" y1="347.07" x2="610.00" y2="347.07" stroke="#000" stroke-width="0.9" />
<line x1="605.40" y1="348.43" x2="610.00" y2="348.43" stroke="#333" stroke-width="0.8" />
<circle cx="603.70" cy="347.88" r="1.55" fill="#000"/>
<circle cx="607.70" cy="345.91" r="1.55" fill="#000"/>
<circle cx="611.70" cy="345.91" r="1.55" fill="#000"/>
<rect x="619.20" y="316.88" width="10.2" height="36.92" fill="#f9a13f" stroke="#000" stroke-width="0.9"/>
<line x1="624.30" y1="316.33" x2="624.30" y2="317.42" stroke="#222" stroke-width="0.8" />
<line x1="622.00" y1="316.33" x2="626.60" y2="316.33" stroke="#000" stroke-width="0.9" />
<line x1="622.00" y1="317.42" x2="626.60" y2="317.42" stroke="#333" stroke-width="0.8" />
<circle cx="620.30" cy="316.40" r="1.55" fill="#000"/>
<circle cx="624.00" cy="314.77" r="1.55" fill="#000"/>
<circle cx="628.30" cy="316.40" r="1.55" fill="#000"/>
<rect x="635.30" y="295.32" width="10.2" height="58.48" fill="#f2496f" stroke="#000" stroke-width="0.9"/>
<line x1="640.40" y1="292.67" x2="640.40" y2="297.97" stroke="#222" stroke-width="0.8" />
<line x1="638.10" y1="292.67" x2="642.70" y2="292.67" stroke="#000" stroke-width="0.9" />
<line x1="638.10" y1="297.97" x2="642.70" y2="297.97" stroke="#333" stroke-width="0.8" />
<circle cx="640.00" cy="290.22" r="1.55" fill="#000"/>
<circle cx="640.00" cy="299.33" r="1.55" fill="#000"/>
<circle cx="640.00" cy="296.00" r="1.55" fill="#000"/>
<rect x="651.70" y="319.60" width="10.2" height="34.20" fill="#5dcf5d" stroke="#000" stroke-width="0.9"/>
<line x1="656.80" y1="319.32" x2="656.80" y2="319.87" stroke="#222" stroke-width="0.8" />
<line x1="654.50" y1="319.32" x2="659.10" y2="319.32" stroke="#000" stroke-width="0.9" />
<line x1="654.50" y1="319.87" x2="659.10" y2="319.87" stroke="#333" stroke-width="0.8" />
<circle cx="652.30" cy="319.19" r="1.55" fill="#000"/>
<circle cx="655.80" cy="318.44" r="1.55" fill="#000"/>
<circle cx="660.60" cy="319.19" r="1.55" fill="#000"/>
<rect x="667.90" y="341.42" width="10.2" height="12.38" fill="#b15de0" stroke="#000" stroke-width="0.9"/>
<line x1="673.00" y1="339.93" x2="673.00" y2="342.92" stroke="#222" stroke-width="0.8" />
<line x1="670.70" y1="339.93" x2="675.30" y2="339.93" stroke="#000" stroke-width="0.9" />
<line x1="670.70" y1="342.92" x2="675.30" y2="342.92" stroke="#333" stroke-width="0.8" />
<circle cx="669.00" cy="338.98" r="1.55" fill="#000"/>
<circle cx="669.30" cy="344.01" r="1.55" fill="#000"/>
<circle cx="676.80" cy="341.97" r="1.55" fill="#000"/>
<line x1="580.70" y1="251.50" x2="580.70" y2="354.80" stroke="#000" stroke-width="2.0" />
<line x1="579.70" y1="353.80" x2="685.00" y2="353.80" stroke="#000" stroke-width="2.0" />
<line x1="576.20" y1="353.80" x2="580.70" y2="353.80" stroke="#000" stroke-width="1.5" />
<text x="574.40" y="357.50" font-size="10.8" fill="#000" text-anchor="end" >0</text>
<line x1="576.20" y1="336.80" x2="580.70" y2="336.80" stroke="#000" stroke-width="1.5" />
<text x="574.40" y="340.50" font-size="10.8" fill="#000" text-anchor="end" >25</text>
<line x1="576.20" y1="319.80" x2="580.70" y2="319.80" stroke="#000" stroke-width="1.5" />
<text x="574.40" y="323.50" font-size="10.8" fill="#000" text-anchor="end" >50</text>
<line x1="576.20" y1="302.80" x2="580.70" y2="302.80" stroke="#000" stroke-width="1.5" />
<text x="574.40" y="306.50" font-size="10.8" fill="#000" text-anchor="end" >75</text>
<line x1="576.20" y1="285.80" x2="580.70" y2="285.80" stroke="#000" stroke-width="1.5" />
<text x="574.40" y="289.50" font-size="10.8" fill="#000" text-anchor="end" >100</text>
<line x1="576.20" y1="268.80" x2="580.70" y2="268.80" stroke="#000" stroke-width="1.5" />
<text x="574.40" y="272.50" font-size="10.8" fill="#000" text-anchor="end" >125</text>
<line x1="576.20" y1="251.80" x2="580.70" y2="251.80" stroke="#000" stroke-width="1.5" />
<text x="574.40" y="255.50" font-size="10.8" fill="#000" text-anchor="end" >150</text>
<line x1="591.50" y1="353.80" x2="591.50" y2="358.80" stroke="#000" stroke-width="1.5" />
<text transform="translate(595.50,368.00) rotate(-45)" x="0" y="0" font-size="11.4" text-anchor="end">WT</text>
<line x1="607.40" y1="353.80" x2="607.40" y2="358.80" stroke="#000" stroke-width="1.5" />
<text transform="translate(611.40,368.00) rotate(-45)" x="0" y="0" font-size="11.4" text-anchor="end">S99I</text>
<line x1="624.00" y1="353.80" x2="624.00" y2="358.80" stroke="#000" stroke-width="1.5" />
<text transform="translate(628.00,368.00) rotate(-45)" x="0" y="0" font-size="11.4" text-anchor="end">W139C</text>
<line x1="640.10" y1="353.80" x2="640.10" y2="358.80" stroke="#000" stroke-width="1.5" />
<text transform="translate(644.10,368.00) rotate(-45)" x="0" y="0" font-size="11.4" text-anchor="end">T3049V</text>
<line x1="656.50" y1="353.80" x2="656.50" y2="358.80" stroke="#000" stroke-width="1.5" />
<text transform="translate(660.50,368.00) rotate(-45)" x="0" y="0" font-size="11.4" text-anchor="end">L4132&#916;</text>
<line x1="672.70" y1="353.80" x2="672.70" y2="358.80" stroke="#000" stroke-width="1.5" />
<text transform="translate(676.70,368.00) rotate(-45)" x="0" y="0" font-size="11.4" text-anchor="end">S4213X</text>
<path d="M591.00 219.10V214.10H672.70V219.10M591.00 226.20V221.20H656.50V226.20M591.00 233.70V228.70H640.10V233.70M591.00 241.00V236.00H624.00V241.00M591.00 247.80V242.80H607.40V247.80" stroke="#000" stroke-width="1.1" fill="none"/>
<text x="631.90" y="209.10" font-size="8.4" fill="#000" text-anchor="middle" >&lt;0.0001</text>
<text transform="translate(548.80,300.00) rotate(-90)" x="0" y="0" font-size="12.6" text-anchor="middle">AUC</text>
</svg>
</body></html>
